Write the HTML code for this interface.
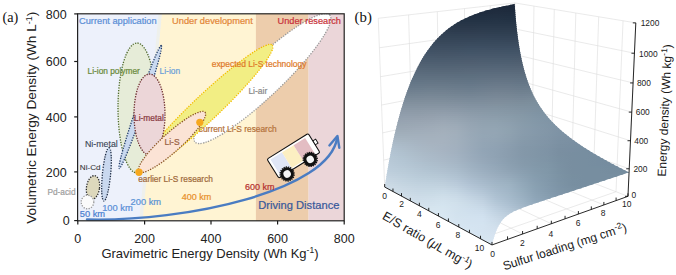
<!DOCTYPE html><html><head><meta charset="utf-8"><style>html,body{margin:0;padding:0;background:#fff;}svg{display:block;}text{font-family:"Liberation Sans",sans-serif;}</style></head><body>
<svg width="676" height="275" viewBox="0 0 676 275">
<defs><clipPath id="pa"><rect x="77.6" y="13.8" width="266.6" height="207.0"/></clipPath><clipPath id="sc"><polygon points="384.68,187.03 385.68,180.69 386.68,174.58 387.7,168.67 388.72,162.96 389.75,157.44 390.8,152.12 391.84,146.98 392.9,142.02 393.96,137.22 395.03,132.6 396.11,128.14 397.19,123.83 398.28,119.67 399.37,115.65 400.47,111.78 401.57,108.04 402.67,104.44 403.78,100.96 404.9,97.6 406.01,94.36 407.13,91.23 408.25,88.22 409.38,85.31 410.51,82.5 411.63,79.8 412.76,77.18 413.9,74.66 415.03,72.23 416.17,69.89 417.3,67.62 418.44,65.44 419.58,63.33 420.72,61.3 421.86,59.34 422.99,57.44 424.13,55.62 425.27,53.86 426.41,52.15 427.55,50.51 428.69,48.93 429.83,47.4 430.97,45.92 432.11,44.5 433.24,43.12 434.38,41.79 435.52,40.51 436.65,39.27 437.79,38.07 438.92,36.91 440.05,35.8 441.18,34.72 442.31,33.67 443.44,32.66 444.56,31.69 445.69,30.75 446.81,29.84 447.93,28.96 449.06,28.1 450.17,27.28 451.29,26.48 452.41,25.71 453.52,24.97 454.63,24.24 455.74,23.54 456.85,22.87 457.96,22.21 459.07,21.58 460.17,20.96 461.27,20.37 462.37,19.79 463.47,19.23 464.56,18.68 465.66,18.16 466.75,17.64 467.84,17.15 468.93,16.67 470.01,16.2 471.1,15.75 472.18,15.3 473.26,14.88 474.33,14.46 475.41,14.05 476.48,13.66 477.56,13.28 478.62,12.9 479.69,12.54 480.76,12.19 481.82,11.84 482.88,11.51 483.94,11.18 485,10.86 486.05,10.55 487.1,10.25 488.15,9.95 489.2,9.67 490.25,9.38 491.29,9.11 492.33,8.84 493.37,8.58 494.41,8.32 495.45,8.07 496.48,7.82 497.51,7.58 498.54,7.35 499.57,7.12 500.59,6.89 501.62,6.67 502.64,6.45 503.66,6.24 504.67,6.03 505.69,5.83 506.7,5.62 507.71,5.43 508.72,5.23 509.73,5.04 510.73,4.85 511.73,4.67 512.73,4.49 513.73,4.31 514.73,4.13 515.51,15.59 516.31,24.22 517.12,31.51 517.93,37.86 518.74,43.5 519.56,48.57 520.39,53.16 521.21,57.36 522.04,61.23 522.87,64.8 523.7,68.12 524.54,71.22 525.38,74.12 526.22,76.85 527.06,79.43 527.91,81.86 528.75,84.16 529.6,86.35 530.46,88.44 531.31,90.43 532.17,92.33 533.03,94.16 533.89,95.9 534.75,97.58 535.62,99.2 536.48,100.76 537.35,102.26 538.23,103.72 539.1,105.12 539.98,106.49 540.86,107.81 541.74,109.09 542.62,110.34 543.51,111.55 544.4,112.73 545.29,113.88 546.18,115 547.07,116.09 547.97,117.16 548.87,118.21 549.77,119.23 550.68,120.23 551.58,121.21 552.49,122.17 553.4,123.12 554.32,124.04 555.23,124.95 556.15,125.85 557.07,126.72 557.99,127.59 558.92,128.44 559.85,129.28 560.78,130.1 561.71,130.92 562.64,131.72 563.58,132.51 564.52,133.29 565.46,134.06 566.41,134.82 567.35,135.57 568.3,136.32 569.26,137.05 570.21,137.78 571.17,138.5 572.13,139.21 573.09,139.92 574.05,140.61 575.02,141.31 575.99,141.99 576.96,142.67 577.94,143.35 578.91,144.01 579.89,144.68 580.88,145.33 581.86,145.99 582.85,146.64 583.84,147.28 584.83,147.92 585.83,148.55 586.82,149.18 587.83,149.81 588.83,150.44 589.84,151.06 590.84,151.67 591.86,152.28 592.87,152.89 593.89,153.5 594.91,154.1 595.93,154.71 596.95,155.3 597.98,155.9 599.01,156.49 600.05,157.08 601.08,157.67 602.12,158.26 603.16,158.84 604.21,159.42 605.26,160 606.31,160.58 607.36,161.16 608.42,161.73 609.48,162.3 610.54,162.88 611.6,163.45 612.67,164.01 613.74,164.58 614.82,165.15 615.89,165.71 616.97,166.27 618.06,166.83 619.14,167.39 620.23,167.95 621.32,168.51 622.42,169.07 623.52,169.63 624.62,170.18 625.72,170.74 626.83,171.29 627.94,171.85 629.05,172.4 628.07,172.72 627.08,173.05 626.1,173.37 625.11,173.7 624.11,174.03 623.12,174.36 622.12,174.69 621.12,175.01 620.12,175.34 619.11,175.68 618.11,176.01 617.1,176.34 616.09,176.67 615.07,177.01 614.06,177.34 613.04,177.68 612.02,178.01 610.99,178.35 609.97,178.69 608.94,179.03 607.91,179.37 606.87,179.71 605.84,180.05 604.8,180.39 603.76,180.74 602.71,181.08 601.67,181.42 600.62,181.77 599.57,182.12 598.51,182.46 597.46,182.81 596.4,183.16 595.34,183.51 594.27,183.86 593.21,184.21 592.14,184.57 591.07,184.92 589.99,185.27 588.91,185.63 587.83,185.98 586.75,186.34 585.67,186.7 584.58,187.06 583.49,187.42 582.4,187.78 581.3,188.14 580.2,188.5 579.1,188.86 578,189.22 576.89,189.59 575.78,189.96 574.67,190.32 573.55,190.69 572.44,191.06 571.32,191.43 570.19,191.8 569.07,192.17 567.94,192.54 566.81,192.91 565.67,193.29 564.53,193.66 563.39,194.04 562.25,194.41 561.1,194.79 559.96,195.17 558.8,195.55 557.65,195.93 556.49,196.31 555.33,196.7 554.17,197.08 553,197.46 551.83,197.85 550.66,198.24 549.48,198.63 548.3,199.01 547.12,199.41 545.94,199.8 544.75,200.19 543.56,200.58 542.37,200.98 541.17,201.38 539.97,201.78 538.77,202.18 537.56,202.58 536.35,202.98 535.14,203.39 533.92,203.8 532.7,204.21 531.48,204.63 530.26,205.05 529.03,205.47 527.8,205.9 526.56,206.33 525.32,206.77 524.08,207.22 522.84,207.68 521.59,208.15 520.34,208.63 519.08,209.13 517.82,209.65 516.56,210.19 515.3,210.76 514.03,211.37 512.76,212.01 511.48,212.7 510.2,213.45 508.92,214.27 507.63,215.18 506.34,216.19 505.05,217.32 503.76,218.61 502.46,220.07 501.16,221.75 499.85,223.7 498.54,225.97 497.23,228.62 495.92,231.74 494.61,235.42 493.3,239.78 491.99,244.95 490.92,244.37 489.86,243.8 488.8,243.22 487.74,242.65 486.69,242.08 485.64,241.52 484.59,240.95 483.55,240.39 482.51,239.83 481.47,239.27 480.44,238.71 479.41,238.15 478.38,237.6 477.36,237.05 476.34,236.5 475.32,235.95 474.3,235.4 473.29,234.86 472.29,234.31 471.28,233.77 470.28,233.23 469.28,232.69 468.29,232.15 467.3,231.62 466.31,231.08 465.32,230.55 464.34,230.02 463.36,229.49 462.38,228.97 461.41,228.44 460.44,227.92 459.47,227.4 458.51,226.87 457.55,226.36 456.59,225.84 455.63,225.32 454.68,224.81 453.73,224.3 452.78,223.79 451.84,223.28 450.9,222.77 449.96,222.26 449.03,221.76 448.09,221.25 447.17,220.75 446.24,220.25 445.32,219.75 444.39,219.26 443.48,218.76 442.56,218.27 441.65,217.77 440.74,217.28 439.83,216.79 438.93,216.3 438.02,215.82 437.12,215.33 436.23,214.85 435.33,214.37 434.44,213.89 433.56,213.41 432.67,212.93 431.79,212.45 430.91,211.98 430.03,211.5 429.15,211.03 428.28,210.56 427.41,210.09 426.54,209.62 425.68,209.15 424.81,208.69 423.95,208.22 423.1,207.76 422.24,207.3 421.39,206.84 420.54,206.38 419.69,205.92 418.85,205.47 418,205.01 417.16,204.56 416.32,204.11 415.49,203.65 414.66,203.21 413.83,202.76 413,202.31 412.17,201.86 411.35,201.42 410.53,200.98 409.71,200.53 408.89,200.09 408.08,199.65 407.26,199.22 406.45,198.78 405.65,198.34 404.84,197.91 404.04,197.48 403.24,197.04 402.44,196.61 401.65,196.18 400.85,195.75 400.06,195.33 399.27,194.9 398.48,194.48 397.7,194.05 396.92,193.63 396.14,193.21 395.36,192.79 394.58,192.37 393.81,191.95 393.03,191.54 392.26,191.12 391.5,190.71 390.73,190.29 389.97,189.88 389.21,189.47 388.45,189.06 387.69,188.65 386.94,188.24 386.18,187.84 385.43,187.43"/></clipPath><linearGradient id="g0" gradientUnits="userSpaceOnUse" x1="378" y1="0" x2="640" y2="0"><stop offset="0" stop-color="#19283d"/><stop offset="0.05" stop-color="#18273b"/><stop offset="0.1" stop-color="#162539"/><stop offset="0.15" stop-color="#152437"/><stop offset="0.2" stop-color="#142336"/><stop offset="0.25" stop-color="#142235"/><stop offset="0.3" stop-color="#142234"/><stop offset="0.35" stop-color="#162235"/><stop offset="0.4" stop-color="#182336"/><stop offset="0.45" stop-color="#192436"/><stop offset="0.5" stop-color="#192436"/><stop offset="0.55" stop-color="#192436"/><stop offset="0.6" stop-color="#1a2537"/><stop offset="0.65" stop-color="#1b2638"/><stop offset="0.69" stop-color="#1c2739"/><stop offset="0.74" stop-color="#1c2839"/><stop offset="0.79" stop-color="#1d283a"/><stop offset="0.84" stop-color="#1d283a"/><stop offset="0.89" stop-color="#1c2839"/><stop offset="0.94" stop-color="#1b2739"/><stop offset="0.99" stop-color="#1a2637"/><stop offset="1" stop-color="#1a2637"/></linearGradient><linearGradient id="g1" gradientUnits="userSpaceOnUse" x1="378" y1="0" x2="640" y2="0"><stop offset="0" stop-color="#1b2a3e"/><stop offset="0.05" stop-color="#19283c"/><stop offset="0.1" stop-color="#18273b"/><stop offset="0.15" stop-color="#162539"/><stop offset="0.2" stop-color="#162437"/><stop offset="0.25" stop-color="#152436"/><stop offset="0.3" stop-color="#162336"/><stop offset="0.35" stop-color="#172436"/><stop offset="0.4" stop-color="#192537"/><stop offset="0.45" stop-color="#1a2638"/><stop offset="0.5" stop-color="#1a2638"/><stop offset="0.55" stop-color="#1a2638"/><stop offset="0.6" stop-color="#1b2638"/><stop offset="0.65" stop-color="#1c2739"/><stop offset="0.69" stop-color="#1d283a"/><stop offset="0.74" stop-color="#1e293b"/><stop offset="0.79" stop-color="#1e2a3b"/><stop offset="0.84" stop-color="#1e2a3b"/><stop offset="0.89" stop-color="#1e293b"/><stop offset="0.94" stop-color="#1d293a"/><stop offset="0.99" stop-color="#1b2739"/><stop offset="1" stop-color="#1b2739"/></linearGradient><linearGradient id="g2" gradientUnits="userSpaceOnUse" x1="378" y1="0" x2="640" y2="0"><stop offset="0" stop-color="#1d2c40"/><stop offset="0.05" stop-color="#1b2a3e"/><stop offset="0.1" stop-color="#19283c"/><stop offset="0.15" stop-color="#18273a"/><stop offset="0.2" stop-color="#172639"/><stop offset="0.25" stop-color="#172538"/><stop offset="0.3" stop-color="#172537"/><stop offset="0.35" stop-color="#182538"/><stop offset="0.4" stop-color="#1a2739"/><stop offset="0.45" stop-color="#1c2739"/><stop offset="0.5" stop-color="#1b2739"/><stop offset="0.55" stop-color="#1c2739"/><stop offset="0.6" stop-color="#1c283a"/><stop offset="0.65" stop-color="#1e293b"/><stop offset="0.69" stop-color="#1f2a3c"/><stop offset="0.74" stop-color="#202b3d"/><stop offset="0.79" stop-color="#202c3d"/><stop offset="0.84" stop-color="#202c3d"/><stop offset="0.89" stop-color="#1f2b3d"/><stop offset="0.94" stop-color="#1e2a3c"/><stop offset="0.99" stop-color="#1d293b"/><stop offset="1" stop-color="#1d293a"/></linearGradient><linearGradient id="g3" gradientUnits="userSpaceOnUse" x1="378" y1="0" x2="640" y2="0"><stop offset="0" stop-color="#1f2e42"/><stop offset="0.05" stop-color="#1c2c40"/><stop offset="0.1" stop-color="#1b2a3e"/><stop offset="0.15" stop-color="#1a293c"/><stop offset="0.2" stop-color="#19283b"/><stop offset="0.25" stop-color="#182739"/><stop offset="0.3" stop-color="#192739"/><stop offset="0.35" stop-color="#192739"/><stop offset="0.4" stop-color="#1b283a"/><stop offset="0.45" stop-color="#1d293b"/><stop offset="0.5" stop-color="#1c293b"/><stop offset="0.55" stop-color="#1d293b"/><stop offset="0.6" stop-color="#1e2a3c"/><stop offset="0.65" stop-color="#1f2b3d"/><stop offset="0.69" stop-color="#202c3e"/><stop offset="0.74" stop-color="#212d3e"/><stop offset="0.79" stop-color="#222d3f"/><stop offset="0.84" stop-color="#222d3f"/><stop offset="0.89" stop-color="#212d3e"/><stop offset="0.94" stop-color="#202c3e"/><stop offset="0.99" stop-color="#1e2b3c"/><stop offset="1" stop-color="#1e2b3c"/></linearGradient><linearGradient id="g4" gradientUnits="userSpaceOnUse" x1="378" y1="0" x2="640" y2="0"><stop offset="0" stop-color="#202f43"/><stop offset="0.05" stop-color="#1e2e41"/><stop offset="0.1" stop-color="#1d2c40"/><stop offset="0.15" stop-color="#1b2a3e"/><stop offset="0.2" stop-color="#1b293c"/><stop offset="0.25" stop-color="#1a293b"/><stop offset="0.3" stop-color="#1a283a"/><stop offset="0.35" stop-color="#1b293b"/><stop offset="0.4" stop-color="#1c293b"/><stop offset="0.45" stop-color="#1e2a3c"/><stop offset="0.5" stop-color="#1d2a3c"/><stop offset="0.55" stop-color="#1e2a3c"/><stop offset="0.6" stop-color="#1f2b3d"/><stop offset="0.65" stop-color="#212d3e"/><stop offset="0.69" stop-color="#222e3f"/><stop offset="0.74" stop-color="#232f40"/><stop offset="0.79" stop-color="#232f41"/><stop offset="0.84" stop-color="#232f41"/><stop offset="0.89" stop-color="#232f40"/><stop offset="0.94" stop-color="#212e3f"/><stop offset="0.99" stop-color="#202d3e"/><stop offset="1" stop-color="#202c3e"/></linearGradient><linearGradient id="g5" gradientUnits="userSpaceOnUse" x1="378" y1="0" x2="640" y2="0"><stop offset="0" stop-color="#223145"/><stop offset="0.05" stop-color="#202f43"/><stop offset="0.1" stop-color="#1e2e41"/><stop offset="0.15" stop-color="#1d2c40"/><stop offset="0.2" stop-color="#1c2b3e"/><stop offset="0.25" stop-color="#1c2a3d"/><stop offset="0.3" stop-color="#1c2a3c"/><stop offset="0.35" stop-color="#1c2a3c"/><stop offset="0.4" stop-color="#1d2b3d"/><stop offset="0.45" stop-color="#1f2c3e"/><stop offset="0.5" stop-color="#1e2b3d"/><stop offset="0.55" stop-color="#1f2c3e"/><stop offset="0.6" stop-color="#212d3f"/><stop offset="0.65" stop-color="#222e40"/><stop offset="0.69" stop-color="#242f41"/><stop offset="0.74" stop-color="#253042"/><stop offset="0.79" stop-color="#253142"/><stop offset="0.84" stop-color="#253142"/><stop offset="0.89" stop-color="#243042"/><stop offset="0.94" stop-color="#233041"/><stop offset="0.99" stop-color="#222e40"/><stop offset="1" stop-color="#212e3f"/></linearGradient><linearGradient id="g6" gradientUnits="userSpaceOnUse" x1="378" y1="0" x2="640" y2="0"><stop offset="0" stop-color="#243347"/><stop offset="0.05" stop-color="#223145"/><stop offset="0.1" stop-color="#202f43"/><stop offset="0.15" stop-color="#1f2e41"/><stop offset="0.2" stop-color="#1e2d40"/><stop offset="0.25" stop-color="#1d2c3e"/><stop offset="0.3" stop-color="#1d2c3e"/><stop offset="0.35" stop-color="#1e2c3e"/><stop offset="0.4" stop-color="#1f2c3e"/><stop offset="0.45" stop-color="#202d3f"/><stop offset="0.5" stop-color="#1f2d3f"/><stop offset="0.55" stop-color="#202d3f"/><stop offset="0.6" stop-color="#222f40"/><stop offset="0.65" stop-color="#243042"/><stop offset="0.69" stop-color="#253143"/><stop offset="0.74" stop-color="#263244"/><stop offset="0.79" stop-color="#273344"/><stop offset="0.84" stop-color="#263344"/><stop offset="0.89" stop-color="#263243"/><stop offset="0.94" stop-color="#253143"/><stop offset="0.99" stop-color="#233041"/><stop offset="1" stop-color="#233041"/></linearGradient><linearGradient id="g7" gradientUnits="userSpaceOnUse" x1="378" y1="0" x2="640" y2="0"><stop offset="0" stop-color="#253548"/><stop offset="0.05" stop-color="#233347"/><stop offset="0.1" stop-color="#223145"/><stop offset="0.15" stop-color="#203043"/><stop offset="0.2" stop-color="#202f41"/><stop offset="0.25" stop-color="#1f2e40"/><stop offset="0.3" stop-color="#1f2d3f"/><stop offset="0.35" stop-color="#1f2d3f"/><stop offset="0.4" stop-color="#202e40"/><stop offset="0.45" stop-color="#212f41"/><stop offset="0.5" stop-color="#202e40"/><stop offset="0.55" stop-color="#212f41"/><stop offset="0.6" stop-color="#233042"/><stop offset="0.65" stop-color="#253243"/><stop offset="0.69" stop-color="#273344"/><stop offset="0.74" stop-color="#283445"/><stop offset="0.79" stop-color="#283546"/><stop offset="0.84" stop-color="#283546"/><stop offset="0.89" stop-color="#273445"/><stop offset="0.94" stop-color="#263344"/><stop offset="0.99" stop-color="#253243"/><stop offset="1" stop-color="#243143"/></linearGradient><linearGradient id="g8" gradientUnits="userSpaceOnUse" x1="378" y1="0" x2="640" y2="0"><stop offset="0" stop-color="#27374a"/><stop offset="0.05" stop-color="#253548"/><stop offset="0.1" stop-color="#233347"/><stop offset="0.15" stop-color="#223245"/><stop offset="0.2" stop-color="#213043"/><stop offset="0.25" stop-color="#213042"/><stop offset="0.3" stop-color="#202f41"/><stop offset="0.35" stop-color="#212f41"/><stop offset="0.4" stop-color="#213042"/><stop offset="0.45" stop-color="#223042"/><stop offset="0.5" stop-color="#213042"/><stop offset="0.55" stop-color="#233142"/><stop offset="0.6" stop-color="#253244"/><stop offset="0.65" stop-color="#273345"/><stop offset="0.69" stop-color="#283546"/><stop offset="0.74" stop-color="#2a3647"/><stop offset="0.79" stop-color="#2a3647"/><stop offset="0.84" stop-color="#2a3647"/><stop offset="0.89" stop-color="#293647"/><stop offset="0.94" stop-color="#283546"/><stop offset="0.99" stop-color="#263345"/><stop offset="1" stop-color="#263344"/></linearGradient><linearGradient id="g9" gradientUnits="userSpaceOnUse" x1="378" y1="0" x2="640" y2="0"><stop offset="0" stop-color="#29384c"/><stop offset="0.05" stop-color="#27374a"/><stop offset="0.1" stop-color="#253548"/><stop offset="0.15" stop-color="#243346"/><stop offset="0.2" stop-color="#233245"/><stop offset="0.25" stop-color="#223144"/><stop offset="0.3" stop-color="#223143"/><stop offset="0.35" stop-color="#223143"/><stop offset="0.4" stop-color="#223143"/><stop offset="0.45" stop-color="#233244"/><stop offset="0.5" stop-color="#223143"/><stop offset="0.55" stop-color="#243244"/><stop offset="0.6" stop-color="#273445"/><stop offset="0.65" stop-color="#293547"/><stop offset="0.69" stop-color="#2a3748"/><stop offset="0.74" stop-color="#2b3849"/><stop offset="0.79" stop-color="#2c3849"/><stop offset="0.84" stop-color="#2b3849"/><stop offset="0.89" stop-color="#2b3849"/><stop offset="0.94" stop-color="#293648"/><stop offset="0.99" stop-color="#283546"/><stop offset="1" stop-color="#283546"/></linearGradient><linearGradient id="g10" gradientUnits="userSpaceOnUse" x1="378" y1="0" x2="640" y2="0"><stop offset="0" stop-color="#2b3a4e"/><stop offset="0.05" stop-color="#29384c"/><stop offset="0.1" stop-color="#27374a"/><stop offset="0.15" stop-color="#263548"/><stop offset="0.2" stop-color="#253447"/><stop offset="0.25" stop-color="#243345"/><stop offset="0.3" stop-color="#243345"/><stop offset="0.35" stop-color="#243345"/><stop offset="0.4" stop-color="#243345"/><stop offset="0.45" stop-color="#253446"/><stop offset="0.5" stop-color="#243345"/><stop offset="0.55" stop-color="#263446"/><stop offset="0.6" stop-color="#283547"/><stop offset="0.65" stop-color="#2a3749"/><stop offset="0.69" stop-color="#2c394a"/><stop offset="0.74" stop-color="#2d3a4b"/><stop offset="0.79" stop-color="#2d3a4b"/><stop offset="0.84" stop-color="#2d3a4b"/><stop offset="0.89" stop-color="#2c394a"/><stop offset="0.94" stop-color="#2b3849"/><stop offset="0.99" stop-color="#293748"/><stop offset="1" stop-color="#293648"/></linearGradient><linearGradient id="g11" gradientUnits="userSpaceOnUse" x1="378" y1="0" x2="640" y2="0"><stop offset="0" stop-color="#2c3c4f"/><stop offset="0.05" stop-color="#2a3a4e"/><stop offset="0.1" stop-color="#29384c"/><stop offset="0.15" stop-color="#27374a"/><stop offset="0.2" stop-color="#273648"/><stop offset="0.25" stop-color="#263547"/><stop offset="0.3" stop-color="#263547"/><stop offset="0.35" stop-color="#263547"/><stop offset="0.4" stop-color="#263547"/><stop offset="0.45" stop-color="#263547"/><stop offset="0.5" stop-color="#263547"/><stop offset="0.55" stop-color="#273648"/><stop offset="0.6" stop-color="#2a3749"/><stop offset="0.65" stop-color="#2c394a"/><stop offset="0.69" stop-color="#2e3a4c"/><stop offset="0.74" stop-color="#2f3b4c"/><stop offset="0.79" stop-color="#2f3c4d"/><stop offset="0.84" stop-color="#2f3c4d"/><stop offset="0.89" stop-color="#2e3b4c"/><stop offset="0.94" stop-color="#2d3a4b"/><stop offset="0.99" stop-color="#2b3849"/><stop offset="1" stop-color="#2b3849"/></linearGradient><linearGradient id="g12" gradientUnits="userSpaceOnUse" x1="378" y1="0" x2="640" y2="0"><stop offset="0" stop-color="#2e3e51"/><stop offset="0.05" stop-color="#2c3c4f"/><stop offset="0.1" stop-color="#2a3a4e"/><stop offset="0.15" stop-color="#29394c"/><stop offset="0.2" stop-color="#29384a"/><stop offset="0.25" stop-color="#283749"/><stop offset="0.3" stop-color="#283748"/><stop offset="0.35" stop-color="#283648"/><stop offset="0.4" stop-color="#283749"/><stop offset="0.45" stop-color="#283749"/><stop offset="0.5" stop-color="#283749"/><stop offset="0.55" stop-color="#293849"/><stop offset="0.6" stop-color="#2c394b"/><stop offset="0.65" stop-color="#2e3b4c"/><stop offset="0.69" stop-color="#2f3c4d"/><stop offset="0.74" stop-color="#303d4e"/><stop offset="0.79" stop-color="#313e4f"/><stop offset="0.84" stop-color="#303e4f"/><stop offset="0.89" stop-color="#303d4e"/><stop offset="0.94" stop-color="#2e3c4d"/><stop offset="0.99" stop-color="#2c3a4b"/><stop offset="1" stop-color="#2c3a4b"/></linearGradient><linearGradient id="g13" gradientUnits="userSpaceOnUse" x1="378" y1="0" x2="640" y2="0"><stop offset="0" stop-color="#304053"/><stop offset="0.05" stop-color="#2e3e51"/><stop offset="0.1" stop-color="#2c3c50"/><stop offset="0.15" stop-color="#2b3b4e"/><stop offset="0.2" stop-color="#2a3a4c"/><stop offset="0.25" stop-color="#2a394b"/><stop offset="0.3" stop-color="#2a384a"/><stop offset="0.35" stop-color="#2a384a"/><stop offset="0.4" stop-color="#2a394b"/><stop offset="0.45" stop-color="#2a394b"/><stop offset="0.5" stop-color="#2a394b"/><stop offset="0.55" stop-color="#2b394b"/><stop offset="0.6" stop-color="#2d3b4d"/><stop offset="0.65" stop-color="#2f3d4e"/><stop offset="0.69" stop-color="#313e4f"/><stop offset="0.74" stop-color="#323f50"/><stop offset="0.79" stop-color="#324051"/><stop offset="0.84" stop-color="#323f50"/><stop offset="0.89" stop-color="#313f50"/><stop offset="0.94" stop-color="#303d4e"/><stop offset="0.99" stop-color="#2e3c4d"/><stop offset="1" stop-color="#2e3b4c"/></linearGradient><linearGradient id="g14" gradientUnits="userSpaceOnUse" x1="378" y1="0" x2="640" y2="0"><stop offset="0" stop-color="#324255"/><stop offset="0.05" stop-color="#304053"/><stop offset="0.1" stop-color="#2e3e51"/><stop offset="0.15" stop-color="#2d3d50"/><stop offset="0.2" stop-color="#2c3b4e"/><stop offset="0.25" stop-color="#2c3b4d"/><stop offset="0.3" stop-color="#2c3a4c"/><stop offset="0.35" stop-color="#2c3a4c"/><stop offset="0.4" stop-color="#2c3b4d"/><stop offset="0.45" stop-color="#2c3b4d"/><stop offset="0.5" stop-color="#2c3b4d"/><stop offset="0.55" stop-color="#2d3b4d"/><stop offset="0.6" stop-color="#2f3d4f"/><stop offset="0.65" stop-color="#313f50"/><stop offset="0.69" stop-color="#334051"/><stop offset="0.74" stop-color="#344152"/><stop offset="0.79" stop-color="#344253"/><stop offset="0.84" stop-color="#344152"/><stop offset="0.89" stop-color="#334052"/><stop offset="0.94" stop-color="#313f50"/><stop offset="0.99" stop-color="#2f3d4e"/><stop offset="1" stop-color="#2f3d4e"/></linearGradient><linearGradient id="g15" gradientUnits="userSpaceOnUse" x1="378" y1="0" x2="640" y2="0"><stop offset="0" stop-color="#344457"/><stop offset="0.05" stop-color="#314255"/><stop offset="0.1" stop-color="#304053"/><stop offset="0.15" stop-color="#2e3f52"/><stop offset="0.2" stop-color="#2e3d50"/><stop offset="0.25" stop-color="#2e3d4f"/><stop offset="0.3" stop-color="#2d3c4e"/><stop offset="0.35" stop-color="#2e3c4e"/><stop offset="0.4" stop-color="#2e3d4f"/><stop offset="0.45" stop-color="#2d3d4f"/><stop offset="0.5" stop-color="#2e3d4f"/><stop offset="0.55" stop-color="#2f3d4f"/><stop offset="0.6" stop-color="#313f51"/><stop offset="0.65" stop-color="#334052"/><stop offset="0.69" stop-color="#344253"/><stop offset="0.74" stop-color="#354354"/><stop offset="0.79" stop-color="#364355"/><stop offset="0.84" stop-color="#354354"/><stop offset="0.89" stop-color="#344253"/><stop offset="0.94" stop-color="#334152"/><stop offset="0.99" stop-color="#313f50"/><stop offset="1" stop-color="#313f50"/></linearGradient><linearGradient id="g16" gradientUnits="userSpaceOnUse" x1="378" y1="0" x2="640" y2="0"><stop offset="0" stop-color="#354559"/><stop offset="0.05" stop-color="#334457"/><stop offset="0.1" stop-color="#314255"/><stop offset="0.15" stop-color="#304054"/><stop offset="0.2" stop-color="#303f52"/><stop offset="0.25" stop-color="#303f51"/><stop offset="0.3" stop-color="#2f3e51"/><stop offset="0.35" stop-color="#303e51"/><stop offset="0.4" stop-color="#303f51"/><stop offset="0.45" stop-color="#2f3f51"/><stop offset="0.5" stop-color="#2f3f51"/><stop offset="0.55" stop-color="#313f51"/><stop offset="0.6" stop-color="#324153"/><stop offset="0.65" stop-color="#344254"/><stop offset="0.69" stop-color="#364455"/><stop offset="0.74" stop-color="#374556"/><stop offset="0.79" stop-color="#374556"/><stop offset="0.84" stop-color="#374556"/><stop offset="0.89" stop-color="#364455"/><stop offset="0.94" stop-color="#344354"/><stop offset="0.99" stop-color="#324152"/><stop offset="1" stop-color="#324052"/></linearGradient><linearGradient id="g17" gradientUnits="userSpaceOnUse" x1="378" y1="0" x2="640" y2="0"><stop offset="0" stop-color="#37475b"/><stop offset="0.05" stop-color="#354559"/><stop offset="0.1" stop-color="#334457"/><stop offset="0.15" stop-color="#324256"/><stop offset="0.2" stop-color="#324154"/><stop offset="0.25" stop-color="#324153"/><stop offset="0.3" stop-color="#314153"/><stop offset="0.35" stop-color="#324153"/><stop offset="0.4" stop-color="#324154"/><stop offset="0.45" stop-color="#314154"/><stop offset="0.5" stop-color="#314153"/><stop offset="0.55" stop-color="#324154"/><stop offset="0.6" stop-color="#344355"/><stop offset="0.65" stop-color="#364456"/><stop offset="0.69" stop-color="#384657"/><stop offset="0.74" stop-color="#394758"/><stop offset="0.79" stop-color="#394758"/><stop offset="0.84" stop-color="#384758"/><stop offset="0.89" stop-color="#374657"/><stop offset="0.94" stop-color="#364456"/><stop offset="0.99" stop-color="#344254"/><stop offset="1" stop-color="#334253"/></linearGradient><linearGradient id="g18" gradientUnits="userSpaceOnUse" x1="378" y1="0" x2="640" y2="0"><stop offset="0" stop-color="#39495d"/><stop offset="0.05" stop-color="#37475b"/><stop offset="0.1" stop-color="#354659"/><stop offset="0.15" stop-color="#344458"/><stop offset="0.2" stop-color="#344356"/><stop offset="0.25" stop-color="#334355"/><stop offset="0.3" stop-color="#334355"/><stop offset="0.35" stop-color="#344355"/><stop offset="0.4" stop-color="#344356"/><stop offset="0.45" stop-color="#334356"/><stop offset="0.5" stop-color="#334356"/><stop offset="0.55" stop-color="#344356"/><stop offset="0.6" stop-color="#364557"/><stop offset="0.65" stop-color="#384658"/><stop offset="0.69" stop-color="#3a4859"/><stop offset="0.74" stop-color="#3a495a"/><stop offset="0.79" stop-color="#3b495a"/><stop offset="0.84" stop-color="#3a495a"/><stop offset="0.89" stop-color="#394859"/><stop offset="0.94" stop-color="#374657"/><stop offset="0.99" stop-color="#354455"/><stop offset="1" stop-color="#354455"/></linearGradient><linearGradient id="g19" gradientUnits="userSpaceOnUse" x1="378" y1="0" x2="640" y2="0"><stop offset="0" stop-color="#3b4b5e"/><stop offset="0.05" stop-color="#39495d"/><stop offset="0.1" stop-color="#37485b"/><stop offset="0.15" stop-color="#35475a"/><stop offset="0.2" stop-color="#354558"/><stop offset="0.25" stop-color="#354557"/><stop offset="0.3" stop-color="#354557"/><stop offset="0.35" stop-color="#354558"/><stop offset="0.4" stop-color="#354658"/><stop offset="0.45" stop-color="#354558"/><stop offset="0.5" stop-color="#354558"/><stop offset="0.55" stop-color="#364558"/><stop offset="0.6" stop-color="#384759"/><stop offset="0.65" stop-color="#3a485a"/><stop offset="0.69" stop-color="#3b4a5b"/><stop offset="0.74" stop-color="#3c4b5c"/><stop offset="0.79" stop-color="#3c4b5c"/><stop offset="0.84" stop-color="#3c4a5c"/><stop offset="0.89" stop-color="#3a495b"/><stop offset="0.94" stop-color="#394859"/><stop offset="0.99" stop-color="#374657"/><stop offset="1" stop-color="#364557"/></linearGradient><linearGradient id="g20" gradientUnits="userSpaceOnUse" x1="378" y1="0" x2="640" y2="0"><stop offset="0" stop-color="#3d4d60"/><stop offset="0.05" stop-color="#3b4b5f"/><stop offset="0.1" stop-color="#394a5d"/><stop offset="0.15" stop-color="#37495c"/><stop offset="0.2" stop-color="#37475a"/><stop offset="0.25" stop-color="#374759"/><stop offset="0.3" stop-color="#37475a"/><stop offset="0.35" stop-color="#37475a"/><stop offset="0.4" stop-color="#37485b"/><stop offset="0.45" stop-color="#37485b"/><stop offset="0.5" stop-color="#37475a"/><stop offset="0.55" stop-color="#38485a"/><stop offset="0.6" stop-color="#3a495b"/><stop offset="0.65" stop-color="#3c4a5c"/><stop offset="0.69" stop-color="#3d4c5d"/><stop offset="0.74" stop-color="#3e4d5e"/><stop offset="0.79" stop-color="#3e4d5e"/><stop offset="0.84" stop-color="#3d4c5e"/><stop offset="0.89" stop-color="#3c4b5c"/><stop offset="0.94" stop-color="#3a495b"/><stop offset="0.99" stop-color="#384759"/><stop offset="1" stop-color="#384758"/></linearGradient><linearGradient id="g21" gradientUnits="userSpaceOnUse" x1="378" y1="0" x2="640" y2="0"><stop offset="0" stop-color="#3f4f62"/><stop offset="0.05" stop-color="#3d4d60"/><stop offset="0.1" stop-color="#3b4c5f"/><stop offset="0.15" stop-color="#394b5e"/><stop offset="0.2" stop-color="#39495c"/><stop offset="0.25" stop-color="#39495b"/><stop offset="0.3" stop-color="#39495c"/><stop offset="0.35" stop-color="#394a5d"/><stop offset="0.4" stop-color="#394a5d"/><stop offset="0.45" stop-color="#394a5d"/><stop offset="0.5" stop-color="#394a5d"/><stop offset="0.55" stop-color="#3a4a5d"/><stop offset="0.6" stop-color="#3c4b5d"/><stop offset="0.65" stop-color="#3e4d5e"/><stop offset="0.69" stop-color="#3f4e5f"/><stop offset="0.74" stop-color="#404f60"/><stop offset="0.79" stop-color="#404f60"/><stop offset="0.84" stop-color="#3f4e60"/><stop offset="0.89" stop-color="#3e4d5e"/><stop offset="0.94" stop-color="#3c4b5d"/><stop offset="0.99" stop-color="#39495a"/><stop offset="1" stop-color="#39495a"/></linearGradient><linearGradient id="g22" gradientUnits="userSpaceOnUse" x1="378" y1="0" x2="640" y2="0"><stop offset="0" stop-color="#415164"/><stop offset="0.05" stop-color="#3f4f62"/><stop offset="0.1" stop-color="#3d4e61"/><stop offset="0.15" stop-color="#3b4d60"/><stop offset="0.2" stop-color="#3b4b5e"/><stop offset="0.25" stop-color="#3b4b5e"/><stop offset="0.3" stop-color="#3b4b5e"/><stop offset="0.35" stop-color="#3b4c5f"/><stop offset="0.4" stop-color="#3b4c5f"/><stop offset="0.45" stop-color="#3b4c5f"/><stop offset="0.5" stop-color="#3b4c5f"/><stop offset="0.55" stop-color="#3c4c5f"/><stop offset="0.6" stop-color="#3e4d5f"/><stop offset="0.65" stop-color="#404f60"/><stop offset="0.69" stop-color="#415061"/><stop offset="0.74" stop-color="#425162"/><stop offset="0.79" stop-color="#415162"/><stop offset="0.84" stop-color="#415061"/><stop offset="0.89" stop-color="#3f4f60"/><stop offset="0.94" stop-color="#3d4d5e"/><stop offset="0.99" stop-color="#3b4b5c"/><stop offset="1" stop-color="#3b4a5c"/></linearGradient><linearGradient id="g23" gradientUnits="userSpaceOnUse" x1="378" y1="0" x2="640" y2="0"><stop offset="0" stop-color="#435366"/><stop offset="0.05" stop-color="#415164"/><stop offset="0.1" stop-color="#3f5063"/><stop offset="0.15" stop-color="#3d4f63"/><stop offset="0.2" stop-color="#3d4e61"/><stop offset="0.25" stop-color="#3d4d60"/><stop offset="0.3" stop-color="#3d4e60"/><stop offset="0.35" stop-color="#3d4e62"/><stop offset="0.4" stop-color="#3d4e62"/><stop offset="0.45" stop-color="#3d4e61"/><stop offset="0.5" stop-color="#3d4e62"/><stop offset="0.55" stop-color="#3e4e62"/><stop offset="0.6" stop-color="#404f61"/><stop offset="0.65" stop-color="#415162"/><stop offset="0.69" stop-color="#435263"/><stop offset="0.74" stop-color="#435364"/><stop offset="0.79" stop-color="#435364"/><stop offset="0.84" stop-color="#425263"/><stop offset="0.89" stop-color="#415062"/><stop offset="0.94" stop-color="#3f4e60"/><stop offset="0.99" stop-color="#3c4c5e"/><stop offset="1" stop-color="#3c4c5d"/></linearGradient><linearGradient id="g24" gradientUnits="userSpaceOnUse" x1="378" y1="0" x2="640" y2="0"><stop offset="0" stop-color="#445568"/><stop offset="0.05" stop-color="#435366"/><stop offset="0.1" stop-color="#415265"/><stop offset="0.15" stop-color="#3f5165"/><stop offset="0.2" stop-color="#3f5063"/><stop offset="0.25" stop-color="#3f4f62"/><stop offset="0.3" stop-color="#3f5062"/><stop offset="0.35" stop-color="#3f5164"/><stop offset="0.4" stop-color="#405164"/><stop offset="0.45" stop-color="#3f5064"/><stop offset="0.5" stop-color="#3f5164"/><stop offset="0.55" stop-color="#405164"/><stop offset="0.6" stop-color="#425163"/><stop offset="0.65" stop-color="#435364"/><stop offset="0.69" stop-color="#455466"/><stop offset="0.74" stop-color="#455566"/><stop offset="0.79" stop-color="#455566"/><stop offset="0.84" stop-color="#445465"/><stop offset="0.89" stop-color="#425264"/><stop offset="0.94" stop-color="#405062"/><stop offset="0.99" stop-color="#3e4e5f"/><stop offset="1" stop-color="#3d4d5f"/></linearGradient><linearGradient id="g25" gradientUnits="userSpaceOnUse" x1="378" y1="0" x2="640" y2="0"><stop offset="0" stop-color="#46576a"/><stop offset="0.05" stop-color="#455568"/><stop offset="0.1" stop-color="#435467"/><stop offset="0.15" stop-color="#415366"/><stop offset="0.2" stop-color="#415265"/><stop offset="0.25" stop-color="#425264"/><stop offset="0.3" stop-color="#415265"/><stop offset="0.35" stop-color="#415366"/><stop offset="0.4" stop-color="#425366"/><stop offset="0.45" stop-color="#425366"/><stop offset="0.5" stop-color="#415366"/><stop offset="0.55" stop-color="#425366"/><stop offset="0.6" stop-color="#445366"/><stop offset="0.65" stop-color="#455567"/><stop offset="0.69" stop-color="#475668"/><stop offset="0.74" stop-color="#475768"/><stop offset="0.79" stop-color="#475768"/><stop offset="0.84" stop-color="#455667"/><stop offset="0.89" stop-color="#445466"/><stop offset="0.94" stop-color="#425263"/><stop offset="0.99" stop-color="#3f4f61"/><stop offset="1" stop-color="#3f4f61"/></linearGradient><linearGradient id="g26" gradientUnits="userSpaceOnUse" x1="378" y1="0" x2="640" y2="0"><stop offset="0" stop-color="#48596c"/><stop offset="0.05" stop-color="#47576a"/><stop offset="0.1" stop-color="#455669"/><stop offset="0.15" stop-color="#445568"/><stop offset="0.2" stop-color="#435467"/><stop offset="0.25" stop-color="#445466"/><stop offset="0.3" stop-color="#445467"/><stop offset="0.35" stop-color="#435568"/><stop offset="0.4" stop-color="#445568"/><stop offset="0.45" stop-color="#445568"/><stop offset="0.5" stop-color="#435568"/><stop offset="0.55" stop-color="#445568"/><stop offset="0.6" stop-color="#465668"/><stop offset="0.65" stop-color="#475769"/><stop offset="0.69" stop-color="#48586a"/><stop offset="0.74" stop-color="#49596a"/><stop offset="0.79" stop-color="#48586a"/><stop offset="0.84" stop-color="#475769"/><stop offset="0.89" stop-color="#455667"/><stop offset="0.94" stop-color="#435465"/><stop offset="0.99" stop-color="#405163"/><stop offset="1" stop-color="#405162"/></linearGradient><linearGradient id="g27" gradientUnits="userSpaceOnUse" x1="378" y1="0" x2="640" y2="0"><stop offset="0" stop-color="#4a5b6e"/><stop offset="0.05" stop-color="#49596c"/><stop offset="0.1" stop-color="#47586a"/><stop offset="0.15" stop-color="#46576a"/><stop offset="0.2" stop-color="#465669"/><stop offset="0.25" stop-color="#465668"/><stop offset="0.3" stop-color="#465669"/><stop offset="0.35" stop-color="#46576a"/><stop offset="0.4" stop-color="#46576a"/><stop offset="0.45" stop-color="#46576a"/><stop offset="0.5" stop-color="#46576a"/><stop offset="0.55" stop-color="#46576a"/><stop offset="0.6" stop-color="#48586a"/><stop offset="0.65" stop-color="#49596b"/><stop offset="0.69" stop-color="#4a5a6c"/><stop offset="0.74" stop-color="#4b5b6c"/><stop offset="0.79" stop-color="#4a5a6c"/><stop offset="0.84" stop-color="#49596b"/><stop offset="0.89" stop-color="#475769"/><stop offset="0.94" stop-color="#445567"/><stop offset="0.99" stop-color="#425364"/><stop offset="1" stop-color="#415264"/></linearGradient><linearGradient id="g28" gradientUnits="userSpaceOnUse" x1="378" y1="0" x2="640" y2="0"><stop offset="0" stop-color="#4c5d70"/><stop offset="0.05" stop-color="#4b5b6e"/><stop offset="0.1" stop-color="#4a5a6c"/><stop offset="0.15" stop-color="#48596c"/><stop offset="0.2" stop-color="#48596b"/><stop offset="0.25" stop-color="#48586a"/><stop offset="0.3" stop-color="#48596b"/><stop offset="0.35" stop-color="#49596c"/><stop offset="0.4" stop-color="#49596c"/><stop offset="0.45" stop-color="#48596c"/><stop offset="0.5" stop-color="#48596c"/><stop offset="0.55" stop-color="#49596b"/><stop offset="0.6" stop-color="#4a5a6c"/><stop offset="0.65" stop-color="#4b5b6d"/><stop offset="0.69" stop-color="#4c5d6e"/><stop offset="0.74" stop-color="#4c5d6e"/><stop offset="0.79" stop-color="#4c5c6e"/><stop offset="0.84" stop-color="#4a5b6d"/><stop offset="0.89" stop-color="#48596b"/><stop offset="0.94" stop-color="#465769"/><stop offset="0.99" stop-color="#435466"/><stop offset="1" stop-color="#435465"/></linearGradient><linearGradient id="g29" gradientUnits="userSpaceOnUse" x1="378" y1="0" x2="640" y2="0"><stop offset="0" stop-color="#4e5f72"/><stop offset="0.05" stop-color="#4d5d70"/><stop offset="0.1" stop-color="#4c5c6e"/><stop offset="0.15" stop-color="#4b5b6d"/><stop offset="0.2" stop-color="#4a5b6d"/><stop offset="0.25" stop-color="#4a5b6d"/><stop offset="0.3" stop-color="#4a5b6d"/><stop offset="0.35" stop-color="#4b5b6d"/><stop offset="0.4" stop-color="#4b5c6e"/><stop offset="0.45" stop-color="#4b5c6e"/><stop offset="0.5" stop-color="#4a5c6e"/><stop offset="0.55" stop-color="#4b5b6d"/><stop offset="0.6" stop-color="#4c5c6e"/><stop offset="0.65" stop-color="#4d5e6f"/><stop offset="0.69" stop-color="#4e5f70"/><stop offset="0.74" stop-color="#4e5f70"/><stop offset="0.79" stop-color="#4d5e70"/><stop offset="0.84" stop-color="#4c5d6f"/><stop offset="0.89" stop-color="#4a5b6d"/><stop offset="0.94" stop-color="#47586a"/><stop offset="0.99" stop-color="#455667"/><stop offset="1" stop-color="#445567"/></linearGradient><linearGradient id="g30" gradientUnits="userSpaceOnUse" x1="378" y1="0" x2="640" y2="0"><stop offset="0" stop-color="#506174"/><stop offset="0.05" stop-color="#4f5f72"/><stop offset="0.1" stop-color="#4e5e70"/><stop offset="0.15" stop-color="#4d5d6f"/><stop offset="0.2" stop-color="#4c5d6f"/><stop offset="0.25" stop-color="#4c5d6f"/><stop offset="0.3" stop-color="#4d5d6f"/><stop offset="0.35" stop-color="#4e5d6f"/><stop offset="0.4" stop-color="#4d5e70"/><stop offset="0.45" stop-color="#4d5e70"/><stop offset="0.5" stop-color="#4d5e70"/><stop offset="0.55" stop-color="#4e5d6f"/><stop offset="0.6" stop-color="#4e5e70"/><stop offset="0.65" stop-color="#4f6071"/><stop offset="0.69" stop-color="#506172"/><stop offset="0.74" stop-color="#506172"/><stop offset="0.79" stop-color="#4f6072"/><stop offset="0.84" stop-color="#4d5f70"/><stop offset="0.89" stop-color="#4b5d6e"/><stop offset="0.94" stop-color="#495a6c"/><stop offset="0.99" stop-color="#465769"/><stop offset="1" stop-color="#455769"/></linearGradient><linearGradient id="g31" gradientUnits="userSpaceOnUse" x1="378" y1="0" x2="640" y2="0"><stop offset="0" stop-color="#526376"/><stop offset="0.05" stop-color="#516174"/><stop offset="0.1" stop-color="#506072"/><stop offset="0.15" stop-color="#505f71"/><stop offset="0.2" stop-color="#4f5f71"/><stop offset="0.25" stop-color="#4f5f71"/><stop offset="0.3" stop-color="#4f5f71"/><stop offset="0.35" stop-color="#505f71"/><stop offset="0.4" stop-color="#506072"/><stop offset="0.45" stop-color="#4f6072"/><stop offset="0.5" stop-color="#4f6072"/><stop offset="0.55" stop-color="#506071"/><stop offset="0.6" stop-color="#506172"/><stop offset="0.65" stop-color="#516273"/><stop offset="0.69" stop-color="#526374"/><stop offset="0.74" stop-color="#526374"/><stop offset="0.79" stop-color="#516274"/><stop offset="0.84" stop-color="#4f6072"/><stop offset="0.89" stop-color="#4d5e70"/><stop offset="0.94" stop-color="#4a5c6e"/><stop offset="0.99" stop-color="#47596b"/><stop offset="1" stop-color="#47586a"/></linearGradient><linearGradient id="g32" gradientUnits="userSpaceOnUse" x1="378" y1="0" x2="640" y2="0"><stop offset="0" stop-color="#556578"/><stop offset="0.05" stop-color="#536476"/><stop offset="0.1" stop-color="#526274"/><stop offset="0.15" stop-color="#526273"/><stop offset="0.2" stop-color="#516273"/><stop offset="0.25" stop-color="#516173"/><stop offset="0.3" stop-color="#516273"/><stop offset="0.35" stop-color="#526273"/><stop offset="0.4" stop-color="#526274"/><stop offset="0.45" stop-color="#526375"/><stop offset="0.5" stop-color="#526274"/><stop offset="0.55" stop-color="#526273"/><stop offset="0.6" stop-color="#536374"/><stop offset="0.65" stop-color="#546475"/><stop offset="0.69" stop-color="#546576"/><stop offset="0.74" stop-color="#546576"/><stop offset="0.79" stop-color="#526476"/><stop offset="0.84" stop-color="#516274"/><stop offset="0.89" stop-color="#4e6072"/><stop offset="0.94" stop-color="#4b5d6f"/><stop offset="0.99" stop-color="#495a6c"/><stop offset="1" stop-color="#485a6c"/></linearGradient><linearGradient id="g33" gradientUnits="userSpaceOnUse" x1="378" y1="0" x2="640" y2="0"><stop offset="0" stop-color="#57677a"/><stop offset="0.05" stop-color="#556678"/><stop offset="0.1" stop-color="#546576"/><stop offset="0.15" stop-color="#546475"/><stop offset="0.2" stop-color="#536475"/><stop offset="0.25" stop-color="#536475"/><stop offset="0.3" stop-color="#546475"/><stop offset="0.35" stop-color="#546476"/><stop offset="0.4" stop-color="#546576"/><stop offset="0.45" stop-color="#546577"/><stop offset="0.5" stop-color="#546576"/><stop offset="0.55" stop-color="#556476"/><stop offset="0.6" stop-color="#556576"/><stop offset="0.65" stop-color="#566677"/><stop offset="0.69" stop-color="#566778"/><stop offset="0.74" stop-color="#566778"/><stop offset="0.79" stop-color="#546678"/><stop offset="0.84" stop-color="#526476"/><stop offset="0.89" stop-color="#506274"/><stop offset="0.94" stop-color="#4d5f71"/><stop offset="0.99" stop-color="#4a5c6e"/><stop offset="1" stop-color="#495b6d"/></linearGradient><linearGradient id="g34" gradientUnits="userSpaceOnUse" x1="378" y1="0" x2="640" y2="0"><stop offset="0" stop-color="#59697c"/><stop offset="0.05" stop-color="#57687a"/><stop offset="0.1" stop-color="#566778"/><stop offset="0.15" stop-color="#566778"/><stop offset="0.2" stop-color="#566677"/><stop offset="0.25" stop-color="#566677"/><stop offset="0.3" stop-color="#566677"/><stop offset="0.35" stop-color="#576778"/><stop offset="0.4" stop-color="#576778"/><stop offset="0.45" stop-color="#576779"/><stop offset="0.5" stop-color="#576778"/><stop offset="0.55" stop-color="#576778"/><stop offset="0.6" stop-color="#576778"/><stop offset="0.65" stop-color="#58697a"/><stop offset="0.69" stop-color="#58697a"/><stop offset="0.74" stop-color="#57697a"/><stop offset="0.79" stop-color="#566879"/><stop offset="0.84" stop-color="#546678"/><stop offset="0.89" stop-color="#516375"/><stop offset="0.94" stop-color="#4e6072"/><stop offset="0.99" stop-color="#4b5d6f"/><stop offset="1" stop-color="#4b5d6f"/></linearGradient><linearGradient id="g35" gradientUnits="userSpaceOnUse" x1="378" y1="0" x2="640" y2="0"><stop offset="0" stop-color="#5b6c7e"/><stop offset="0.05" stop-color="#596a7c"/><stop offset="0.1" stop-color="#58697a"/><stop offset="0.15" stop-color="#59697a"/><stop offset="0.2" stop-color="#586979"/><stop offset="0.25" stop-color="#586879"/><stop offset="0.3" stop-color="#586879"/><stop offset="0.35" stop-color="#59697a"/><stop offset="0.4" stop-color="#59697b"/><stop offset="0.45" stop-color="#59697b"/><stop offset="0.5" stop-color="#59697a"/><stop offset="0.55" stop-color="#59697a"/><stop offset="0.6" stop-color="#596a7b"/><stop offset="0.65" stop-color="#5a6b7c"/><stop offset="0.69" stop-color="#5a6b7d"/><stop offset="0.74" stop-color="#596b7c"/><stop offset="0.79" stop-color="#576a7b"/><stop offset="0.84" stop-color="#556879"/><stop offset="0.89" stop-color="#536577"/><stop offset="0.94" stop-color="#506274"/><stop offset="0.99" stop-color="#4c5f71"/><stop offset="1" stop-color="#4c5e70"/></linearGradient><linearGradient id="g36" gradientUnits="userSpaceOnUse" x1="378" y1="0" x2="640" y2="0"><stop offset="0" stop-color="#5d6e80"/><stop offset="0.05" stop-color="#5b6c7e"/><stop offset="0.1" stop-color="#5a6b7c"/><stop offset="0.15" stop-color="#5b6b7c"/><stop offset="0.2" stop-color="#5a6b7c"/><stop offset="0.25" stop-color="#5a6b7b"/><stop offset="0.3" stop-color="#5a6b7b"/><stop offset="0.35" stop-color="#5b6b7c"/><stop offset="0.4" stop-color="#5b6c7d"/><stop offset="0.45" stop-color="#5b6c7d"/><stop offset="0.5" stop-color="#5b6c7d"/><stop offset="0.55" stop-color="#5b6b7c"/><stop offset="0.6" stop-color="#5b6c7d"/><stop offset="0.65" stop-color="#5c6d7e"/><stop offset="0.69" stop-color="#5c6e7f"/><stop offset="0.74" stop-color="#5b6d7e"/><stop offset="0.79" stop-color="#596b7d"/><stop offset="0.84" stop-color="#57697b"/><stop offset="0.89" stop-color="#546679"/><stop offset="0.94" stop-color="#516376"/><stop offset="0.99" stop-color="#4e6072"/><stop offset="1" stop-color="#4d6072"/></linearGradient><linearGradient id="g37" gradientUnits="userSpaceOnUse" x1="378" y1="0" x2="640" y2="0"><stop offset="0" stop-color="#5f7082"/><stop offset="0.05" stop-color="#5d6e80"/><stop offset="0.1" stop-color="#5c6d7f"/><stop offset="0.15" stop-color="#5d6e7e"/><stop offset="0.2" stop-color="#5d6d7e"/><stop offset="0.25" stop-color="#5d6d7e"/><stop offset="0.3" stop-color="#5c6d7e"/><stop offset="0.35" stop-color="#5c6e7e"/><stop offset="0.4" stop-color="#5d6e7f"/><stop offset="0.45" stop-color="#5e6e7f"/><stop offset="0.5" stop-color="#5e6e7f"/><stop offset="0.55" stop-color="#5d6e7e"/><stop offset="0.6" stop-color="#5d6e7f"/><stop offset="0.65" stop-color="#5e6f80"/><stop offset="0.69" stop-color="#5e7081"/><stop offset="0.74" stop-color="#5d6f80"/><stop offset="0.79" stop-color="#5b6d7f"/><stop offset="0.84" stop-color="#586b7d"/><stop offset="0.89" stop-color="#55687a"/><stop offset="0.94" stop-color="#526577"/><stop offset="0.99" stop-color="#4f6174"/><stop offset="1" stop-color="#4e6173"/></linearGradient><linearGradient id="g38" gradientUnits="userSpaceOnUse" x1="378" y1="0" x2="640" y2="0"><stop offset="0" stop-color="#617284"/><stop offset="0.05" stop-color="#5f7082"/><stop offset="0.1" stop-color="#5e7081"/><stop offset="0.15" stop-color="#5f7080"/><stop offset="0.2" stop-color="#5f7080"/><stop offset="0.25" stop-color="#5f7080"/><stop offset="0.3" stop-color="#5e6f80"/><stop offset="0.35" stop-color="#5e7080"/><stop offset="0.4" stop-color="#5f7081"/><stop offset="0.45" stop-color="#607081"/><stop offset="0.5" stop-color="#607081"/><stop offset="0.55" stop-color="#5f7080"/><stop offset="0.6" stop-color="#5f7081"/><stop offset="0.65" stop-color="#607282"/><stop offset="0.69" stop-color="#607283"/><stop offset="0.74" stop-color="#5e7182"/><stop offset="0.79" stop-color="#5c6f81"/><stop offset="0.84" stop-color="#5a6d7f"/><stop offset="0.89" stop-color="#576a7c"/><stop offset="0.94" stop-color="#536679"/><stop offset="0.99" stop-color="#506375"/><stop offset="1" stop-color="#506275"/></linearGradient><linearGradient id="g39" gradientUnits="userSpaceOnUse" x1="378" y1="0" x2="640" y2="0"><stop offset="0" stop-color="#637486"/><stop offset="0.05" stop-color="#617384"/><stop offset="0.1" stop-color="#607283"/><stop offset="0.15" stop-color="#617282"/><stop offset="0.2" stop-color="#617282"/><stop offset="0.25" stop-color="#617282"/><stop offset="0.3" stop-color="#617282"/><stop offset="0.35" stop-color="#607282"/><stop offset="0.4" stop-color="#627283"/><stop offset="0.45" stop-color="#637383"/><stop offset="0.5" stop-color="#627383"/><stop offset="0.55" stop-color="#617283"/><stop offset="0.6" stop-color="#617383"/><stop offset="0.65" stop-color="#627484"/><stop offset="0.69" stop-color="#627485"/><stop offset="0.74" stop-color="#607384"/><stop offset="0.79" stop-color="#5e7183"/><stop offset="0.84" stop-color="#5b6e80"/><stop offset="0.89" stop-color="#586b7d"/><stop offset="0.94" stop-color="#55687a"/><stop offset="0.99" stop-color="#516477"/><stop offset="1" stop-color="#516476"/></linearGradient><linearGradient id="g40" gradientUnits="userSpaceOnUse" x1="378" y1="0" x2="640" y2="0"><stop offset="0" stop-color="#667688"/><stop offset="0.05" stop-color="#647586"/><stop offset="0.1" stop-color="#627485"/><stop offset="0.15" stop-color="#637485"/><stop offset="0.2" stop-color="#647585"/><stop offset="0.25" stop-color="#647484"/><stop offset="0.3" stop-color="#637484"/><stop offset="0.35" stop-color="#627485"/><stop offset="0.4" stop-color="#647585"/><stop offset="0.45" stop-color="#657586"/><stop offset="0.5" stop-color="#657585"/><stop offset="0.55" stop-color="#637485"/><stop offset="0.6" stop-color="#637585"/><stop offset="0.65" stop-color="#647687"/><stop offset="0.69" stop-color="#637687"/><stop offset="0.74" stop-color="#627586"/><stop offset="0.79" stop-color="#5f7385"/><stop offset="0.84" stop-color="#5d7082"/><stop offset="0.89" stop-color="#596d7f"/><stop offset="0.94" stop-color="#56697c"/><stop offset="0.99" stop-color="#526678"/><stop offset="1" stop-color="#526577"/></linearGradient><linearGradient id="g41" gradientUnits="userSpaceOnUse" x1="378" y1="0" x2="640" y2="0"><stop offset="0" stop-color="#68798a"/><stop offset="0.05" stop-color="#667788"/><stop offset="0.1" stop-color="#647687"/><stop offset="0.15" stop-color="#657787"/><stop offset="0.2" stop-color="#667787"/><stop offset="0.25" stop-color="#667787"/><stop offset="0.3" stop-color="#657686"/><stop offset="0.35" stop-color="#647687"/><stop offset="0.4" stop-color="#667787"/><stop offset="0.45" stop-color="#687888"/><stop offset="0.5" stop-color="#677788"/><stop offset="0.55" stop-color="#657687"/><stop offset="0.6" stop-color="#657787"/><stop offset="0.65" stop-color="#667889"/><stop offset="0.69" stop-color="#657889"/><stop offset="0.74" stop-color="#637788"/><stop offset="0.79" stop-color="#617486"/><stop offset="0.84" stop-color="#5e7184"/><stop offset="0.89" stop-color="#5b6e81"/><stop offset="0.94" stop-color="#576b7d"/><stop offset="0.99" stop-color="#546779"/><stop offset="1" stop-color="#536679"/></linearGradient><linearGradient id="g42" gradientUnits="userSpaceOnUse" x1="378" y1="0" x2="640" y2="0"><stop offset="0" stop-color="#6a7b8c"/><stop offset="0.05" stop-color="#68798a"/><stop offset="0.1" stop-color="#677889"/><stop offset="0.15" stop-color="#687989"/><stop offset="0.2" stop-color="#697989"/><stop offset="0.25" stop-color="#697989"/><stop offset="0.3" stop-color="#687989"/><stop offset="0.35" stop-color="#677889"/><stop offset="0.4" stop-color="#69798a"/><stop offset="0.45" stop-color="#6a7a8a"/><stop offset="0.5" stop-color="#6a7a8a"/><stop offset="0.55" stop-color="#677989"/><stop offset="0.6" stop-color="#68798a"/><stop offset="0.65" stop-color="#687b8b"/><stop offset="0.69" stop-color="#677a8b"/><stop offset="0.74" stop-color="#65798a"/><stop offset="0.79" stop-color="#627688"/><stop offset="0.84" stop-color="#5f7385"/><stop offset="0.89" stop-color="#5c7082"/><stop offset="0.94" stop-color="#586c7f"/><stop offset="0.99" stop-color="#55687b"/><stop offset="1" stop-color="#54687a"/></linearGradient><linearGradient id="g43" gradientUnits="userSpaceOnUse" x1="378" y1="0" x2="640" y2="0"><stop offset="0" stop-color="#6d7d8e"/><stop offset="0.05" stop-color="#6b7c8c"/><stop offset="0.1" stop-color="#697a8b"/><stop offset="0.15" stop-color="#6a7b8b"/><stop offset="0.2" stop-color="#6c7c8b"/><stop offset="0.25" stop-color="#6b7c8b"/><stop offset="0.3" stop-color="#6a7b8b"/><stop offset="0.35" stop-color="#697b8b"/><stop offset="0.4" stop-color="#6b7c8c"/><stop offset="0.45" stop-color="#6d7c8c"/><stop offset="0.5" stop-color="#6c7c8c"/><stop offset="0.55" stop-color="#6a7b8b"/><stop offset="0.6" stop-color="#6a7c8c"/><stop offset="0.65" stop-color="#6b7d8d"/><stop offset="0.69" stop-color="#697c8d"/><stop offset="0.74" stop-color="#677a8c"/><stop offset="0.79" stop-color="#64788a"/><stop offset="0.84" stop-color="#617587"/><stop offset="0.89" stop-color="#5d7184"/><stop offset="0.94" stop-color="#596d80"/><stop offset="0.99" stop-color="#566a7c"/><stop offset="1" stop-color="#55697c"/></linearGradient><linearGradient id="g44" gradientUnits="userSpaceOnUse" x1="378" y1="0" x2="640" y2="0"><stop offset="0" stop-color="#6f8090"/><stop offset="0.05" stop-color="#6d7e8f"/><stop offset="0.1" stop-color="#6c7d8d"/><stop offset="0.15" stop-color="#6d7e8d"/><stop offset="0.2" stop-color="#6e7f8e"/><stop offset="0.25" stop-color="#6e7e8d"/><stop offset="0.3" stop-color="#6d7d8d"/><stop offset="0.35" stop-color="#6c7d8d"/><stop offset="0.4" stop-color="#6e7e8e"/><stop offset="0.45" stop-color="#6f7f8e"/><stop offset="0.5" stop-color="#6f7e8e"/><stop offset="0.55" stop-color="#6c7d8d"/><stop offset="0.6" stop-color="#6d7e8e"/><stop offset="0.65" stop-color="#6d7f8f"/><stop offset="0.69" stop-color="#6b7e8f"/><stop offset="0.74" stop-color="#687c8e"/><stop offset="0.79" stop-color="#65798b"/><stop offset="0.84" stop-color="#627688"/><stop offset="0.89" stop-color="#5e7285"/><stop offset="0.94" stop-color="#5b6f81"/><stop offset="0.99" stop-color="#576b7d"/><stop offset="1" stop-color="#566a7d"/></linearGradient><linearGradient id="g45" gradientUnits="userSpaceOnUse" x1="378" y1="0" x2="640" y2="0"><stop offset="0" stop-color="#728292"/><stop offset="0.05" stop-color="#708191"/><stop offset="0.1" stop-color="#6f7f8f"/><stop offset="0.15" stop-color="#708090"/><stop offset="0.2" stop-color="#718190"/><stop offset="0.25" stop-color="#718190"/><stop offset="0.3" stop-color="#70808f"/><stop offset="0.35" stop-color="#6e7f8f"/><stop offset="0.4" stop-color="#708090"/><stop offset="0.45" stop-color="#728190"/><stop offset="0.5" stop-color="#718190"/><stop offset="0.55" stop-color="#6f808f"/><stop offset="0.6" stop-color="#6f8190"/><stop offset="0.65" stop-color="#6f8191"/><stop offset="0.69" stop-color="#6d8091"/><stop offset="0.74" stop-color="#6a7e8f"/><stop offset="0.79" stop-color="#677b8d"/><stop offset="0.84" stop-color="#63778a"/><stop offset="0.89" stop-color="#5f7486"/><stop offset="0.94" stop-color="#5c7083"/><stop offset="0.99" stop-color="#586c7f"/><stop offset="1" stop-color="#576b7e"/></linearGradient><linearGradient id="g46" gradientUnits="userSpaceOnUse" x1="378" y1="0" x2="640" y2="0"><stop offset="0" stop-color="#748495"/><stop offset="0.05" stop-color="#738393"/><stop offset="0.1" stop-color="#728291"/><stop offset="0.15" stop-color="#738392"/><stop offset="0.2" stop-color="#748492"/><stop offset="0.25" stop-color="#748392"/><stop offset="0.3" stop-color="#728291"/><stop offset="0.35" stop-color="#718291"/><stop offset="0.4" stop-color="#738392"/><stop offset="0.45" stop-color="#758493"/><stop offset="0.5" stop-color="#748392"/><stop offset="0.55" stop-color="#718291"/><stop offset="0.6" stop-color="#728392"/><stop offset="0.65" stop-color="#718493"/><stop offset="0.69" stop-color="#6e8292"/><stop offset="0.74" stop-color="#6c8091"/><stop offset="0.79" stop-color="#687c8f"/><stop offset="0.84" stop-color="#64798c"/><stop offset="0.89" stop-color="#617588"/><stop offset="0.94" stop-color="#5d7184"/><stop offset="0.99" stop-color="#596d80"/><stop offset="1" stop-color="#596d7f"/></linearGradient><linearGradient id="g47" gradientUnits="userSpaceOnUse" x1="378" y1="0" x2="640" y2="0"><stop offset="0" stop-color="#778697"/><stop offset="0.05" stop-color="#768595"/><stop offset="0.1" stop-color="#758594"/><stop offset="0.15" stop-color="#768694"/><stop offset="0.2" stop-color="#778695"/><stop offset="0.25" stop-color="#768694"/><stop offset="0.3" stop-color="#758594"/><stop offset="0.35" stop-color="#748494"/><stop offset="0.4" stop-color="#758594"/><stop offset="0.45" stop-color="#778695"/><stop offset="0.5" stop-color="#768694"/><stop offset="0.55" stop-color="#748494"/><stop offset="0.6" stop-color="#748695"/><stop offset="0.65" stop-color="#738695"/><stop offset="0.69" stop-color="#708494"/><stop offset="0.74" stop-color="#6d8192"/><stop offset="0.79" stop-color="#6a7e90"/><stop offset="0.84" stop-color="#667a8d"/><stop offset="0.89" stop-color="#627689"/><stop offset="0.94" stop-color="#5e7285"/><stop offset="0.99" stop-color="#5a6e81"/><stop offset="1" stop-color="#5a6e81"/></linearGradient><linearGradient id="g48" gradientUnits="userSpaceOnUse" x1="378" y1="0" x2="640" y2="0"><stop offset="0" stop-color="#798999"/><stop offset="0.05" stop-color="#788897"/><stop offset="0.1" stop-color="#788896"/><stop offset="0.15" stop-color="#798897"/><stop offset="0.2" stop-color="#7a8997"/><stop offset="0.25" stop-color="#798997"/><stop offset="0.3" stop-color="#788896"/><stop offset="0.35" stop-color="#778796"/><stop offset="0.4" stop-color="#788897"/><stop offset="0.45" stop-color="#798897"/><stop offset="0.5" stop-color="#788896"/><stop offset="0.55" stop-color="#768796"/><stop offset="0.6" stop-color="#778897"/><stop offset="0.65" stop-color="#748897"/><stop offset="0.69" stop-color="#728596"/><stop offset="0.74" stop-color="#6f8394"/><stop offset="0.79" stop-color="#6b7f91"/><stop offset="0.84" stop-color="#677c8e"/><stop offset="0.89" stop-color="#63788b"/><stop offset="0.94" stop-color="#5f7487"/><stop offset="0.99" stop-color="#5b7082"/><stop offset="1" stop-color="#5b6f82"/></linearGradient><linearGradient id="g49" gradientUnits="userSpaceOnUse" x1="378" y1="0" x2="640" y2="0"><stop offset="0" stop-color="#7c8b9b"/><stop offset="0.05" stop-color="#7b8b9a"/><stop offset="0.1" stop-color="#7b8b99"/><stop offset="0.15" stop-color="#7c8b99"/><stop offset="0.2" stop-color="#7d8b99"/><stop offset="0.25" stop-color="#7c8b99"/><stop offset="0.3" stop-color="#7b8a99"/><stop offset="0.35" stop-color="#7a8a99"/><stop offset="0.4" stop-color="#7a8a99"/><stop offset="0.45" stop-color="#7c8b99"/><stop offset="0.5" stop-color="#7b8a99"/><stop offset="0.55" stop-color="#798998"/><stop offset="0.6" stop-color="#798b99"/><stop offset="0.65" stop-color="#768999"/><stop offset="0.69" stop-color="#738797"/><stop offset="0.74" stop-color="#708495"/><stop offset="0.79" stop-color="#6c8193"/><stop offset="0.84" stop-color="#687d8f"/><stop offset="0.89" stop-color="#64798c"/><stop offset="0.94" stop-color="#607588"/><stop offset="0.99" stop-color="#5c7184"/><stop offset="1" stop-color="#5c7083"/></linearGradient><linearGradient id="g50" gradientUnits="userSpaceOnUse" x1="378" y1="0" x2="640" y2="0"><stop offset="0" stop-color="#7e8d9d"/><stop offset="0.05" stop-color="#7e8d9c"/><stop offset="0.1" stop-color="#7e8d9b"/><stop offset="0.15" stop-color="#7f8e9b"/><stop offset="0.2" stop-color="#808e9c"/><stop offset="0.25" stop-color="#7f8e9c"/><stop offset="0.3" stop-color="#7e8d9b"/><stop offset="0.35" stop-color="#7c8c9b"/><stop offset="0.4" stop-color="#7d8c9b"/><stop offset="0.45" stop-color="#7e8d9b"/><stop offset="0.5" stop-color="#7d8d9b"/><stop offset="0.55" stop-color="#7b8c9a"/><stop offset="0.6" stop-color="#7b8d9b"/><stop offset="0.65" stop-color="#788b9a"/><stop offset="0.69" stop-color="#748999"/><stop offset="0.74" stop-color="#718697"/><stop offset="0.79" stop-color="#6d8294"/><stop offset="0.84" stop-color="#697e91"/><stop offset="0.89" stop-color="#657a8d"/><stop offset="0.94" stop-color="#617689"/><stop offset="0.99" stop-color="#5d7285"/><stop offset="1" stop-color="#5c7184"/></linearGradient><linearGradient id="g51" gradientUnits="userSpaceOnUse" x1="378" y1="0" x2="640" y2="0"><stop offset="0" stop-color="#81909f"/><stop offset="0.05" stop-color="#81909e"/><stop offset="0.1" stop-color="#82909e"/><stop offset="0.15" stop-color="#82909e"/><stop offset="0.2" stop-color="#82919e"/><stop offset="0.25" stop-color="#82919e"/><stop offset="0.3" stop-color="#81909e"/><stop offset="0.35" stop-color="#7f8f9d"/><stop offset="0.4" stop-color="#7f8f9d"/><stop offset="0.45" stop-color="#808f9d"/><stop offset="0.5" stop-color="#7f8f9d"/><stop offset="0.55" stop-color="#7d8e9c"/><stop offset="0.6" stop-color="#7c8f9d"/><stop offset="0.65" stop-color="#798d9c"/><stop offset="0.69" stop-color="#768a9a"/><stop offset="0.74" stop-color="#728798"/><stop offset="0.79" stop-color="#6f8395"/><stop offset="0.84" stop-color="#6a7f92"/><stop offset="0.89" stop-color="#667b8e"/><stop offset="0.94" stop-color="#62778a"/><stop offset="0.99" stop-color="#5e7386"/><stop offset="1" stop-color="#5d7285"/></linearGradient><linearGradient id="g52" gradientUnits="userSpaceOnUse" x1="378" y1="0" x2="640" y2="0"><stop offset="0" stop-color="#8392a1"/><stop offset="0.05" stop-color="#8392a1"/><stop offset="0.1" stop-color="#8493a0"/><stop offset="0.15" stop-color="#8593a0"/><stop offset="0.2" stop-color="#8593a1"/><stop offset="0.25" stop-color="#8593a1"/><stop offset="0.3" stop-color="#8492a1"/><stop offset="0.35" stop-color="#8291a0"/><stop offset="0.4" stop-color="#8191a0"/><stop offset="0.45" stop-color="#82929f"/><stop offset="0.5" stop-color="#80919f"/><stop offset="0.55" stop-color="#7e909e"/><stop offset="0.6" stop-color="#7d909e"/><stop offset="0.65" stop-color="#7a8e9d"/><stop offset="0.69" stop-color="#778b9c"/><stop offset="0.74" stop-color="#74889a"/><stop offset="0.79" stop-color="#708597"/><stop offset="0.84" stop-color="#6b8093"/><stop offset="0.89" stop-color="#677c8f"/><stop offset="0.94" stop-color="#63788b"/><stop offset="0.99" stop-color="#5f7487"/><stop offset="1" stop-color="#5e7386"/></linearGradient><linearGradient id="g53" gradientUnits="userSpaceOnUse" x1="378" y1="0" x2="640" y2="0"><stop offset="0" stop-color="#8594a3"/><stop offset="0.05" stop-color="#8694a3"/><stop offset="0.1" stop-color="#8795a3"/><stop offset="0.15" stop-color="#8795a3"/><stop offset="0.2" stop-color="#8896a3"/><stop offset="0.25" stop-color="#8896a4"/><stop offset="0.3" stop-color="#8795a3"/><stop offset="0.35" stop-color="#8494a2"/><stop offset="0.4" stop-color="#8493a2"/><stop offset="0.45" stop-color="#8394a2"/><stop offset="0.5" stop-color="#8293a1"/><stop offset="0.55" stop-color="#8092a0"/><stop offset="0.6" stop-color="#7e91a0"/><stop offset="0.65" stop-color="#7b8f9f"/><stop offset="0.69" stop-color="#788d9d"/><stop offset="0.74" stop-color="#75899b"/><stop offset="0.79" stop-color="#718698"/><stop offset="0.84" stop-color="#6c8194"/><stop offset="0.89" stop-color="#687d90"/><stop offset="0.94" stop-color="#64798c"/><stop offset="0.99" stop-color="#607588"/><stop offset="1" stop-color="#5f7488"/></linearGradient><linearGradient id="g54" gradientUnits="userSpaceOnUse" x1="378" y1="0" x2="640" y2="0"><stop offset="0" stop-color="#8896a5"/><stop offset="0.05" stop-color="#8997a5"/><stop offset="0.1" stop-color="#8a98a5"/><stop offset="0.15" stop-color="#8a98a5"/><stop offset="0.2" stop-color="#8b98a6"/><stop offset="0.25" stop-color="#8b99a6"/><stop offset="0.3" stop-color="#8a98a6"/><stop offset="0.35" stop-color="#8796a5"/><stop offset="0.4" stop-color="#8696a4"/><stop offset="0.45" stop-color="#8596a4"/><stop offset="0.5" stop-color="#8495a3"/><stop offset="0.55" stop-color="#8193a2"/><stop offset="0.6" stop-color="#7f92a1"/><stop offset="0.65" stop-color="#7c90a0"/><stop offset="0.69" stop-color="#798e9e"/><stop offset="0.74" stop-color="#768b9c"/><stop offset="0.79" stop-color="#728799"/><stop offset="0.84" stop-color="#6d8395"/><stop offset="0.89" stop-color="#697e91"/><stop offset="0.94" stop-color="#647a8d"/><stop offset="0.99" stop-color="#617689"/><stop offset="1" stop-color="#607589"/></linearGradient><linearGradient id="g55" gradientUnits="userSpaceOnUse" x1="378" y1="0" x2="640" y2="0"><stop offset="0" stop-color="#8a99a7"/><stop offset="0.05" stop-color="#8b99a7"/><stop offset="0.1" stop-color="#8d9aa8"/><stop offset="0.15" stop-color="#8d9aa7"/><stop offset="0.2" stop-color="#8e9ba8"/><stop offset="0.25" stop-color="#8e9ba9"/><stop offset="0.3" stop-color="#8c9aa8"/><stop offset="0.35" stop-color="#8999a7"/><stop offset="0.4" stop-color="#8898a6"/><stop offset="0.45" stop-color="#8798a6"/><stop offset="0.5" stop-color="#8597a5"/><stop offset="0.55" stop-color="#8395a3"/><stop offset="0.6" stop-color="#8093a2"/><stop offset="0.65" stop-color="#7c91a1"/><stop offset="0.69" stop-color="#7a8fa0"/><stop offset="0.74" stop-color="#778c9d"/><stop offset="0.79" stop-color="#73889a"/><stop offset="0.84" stop-color="#6e8396"/><stop offset="0.89" stop-color="#6a7f92"/><stop offset="0.94" stop-color="#657b8e"/><stop offset="0.99" stop-color="#61778a"/><stop offset="1" stop-color="#61768a"/></linearGradient><linearGradient id="g56" gradientUnits="userSpaceOnUse" x1="378" y1="0" x2="640" y2="0"><stop offset="0" stop-color="#8c9ba9"/><stop offset="0.05" stop-color="#8d9ba9"/><stop offset="0.1" stop-color="#8f9caa"/><stop offset="0.15" stop-color="#8f9ca9"/><stop offset="0.2" stop-color="#909daa"/><stop offset="0.25" stop-color="#919eab"/><stop offset="0.3" stop-color="#8f9dab"/><stop offset="0.35" stop-color="#8c9ba9"/><stop offset="0.4" stop-color="#8a9aa8"/><stop offset="0.45" stop-color="#889aa8"/><stop offset="0.5" stop-color="#8798a6"/><stop offset="0.55" stop-color="#8496a5"/><stop offset="0.6" stop-color="#8094a4"/><stop offset="0.65" stop-color="#7d92a2"/><stop offset="0.69" stop-color="#7b90a1"/><stop offset="0.74" stop-color="#788d9e"/><stop offset="0.79" stop-color="#74899b"/><stop offset="0.84" stop-color="#6f8497"/><stop offset="0.89" stop-color="#6a8093"/><stop offset="0.94" stop-color="#667c8f"/><stop offset="0.99" stop-color="#62788b"/><stop offset="1" stop-color="#62778b"/></linearGradient><linearGradient id="g57" gradientUnits="userSpaceOnUse" x1="378" y1="0" x2="640" y2="0"><stop offset="0" stop-color="#8f9dab"/><stop offset="0.05" stop-color="#8f9dab"/><stop offset="0.1" stop-color="#919eac"/><stop offset="0.15" stop-color="#919eab"/><stop offset="0.2" stop-color="#939fac"/><stop offset="0.25" stop-color="#93a0ae"/><stop offset="0.3" stop-color="#929fad"/><stop offset="0.35" stop-color="#8e9dab"/><stop offset="0.4" stop-color="#8b9caa"/><stop offset="0.45" stop-color="#8a9ba9"/><stop offset="0.5" stop-color="#889aa8"/><stop offset="0.55" stop-color="#8598a6"/><stop offset="0.6" stop-color="#8195a5"/><stop offset="0.65" stop-color="#7e93a3"/><stop offset="0.69" stop-color="#7c91a2"/><stop offset="0.74" stop-color="#798e9f"/><stop offset="0.79" stop-color="#748a9c"/><stop offset="0.84" stop-color="#708598"/><stop offset="0.89" stop-color="#6b8194"/><stop offset="0.94" stop-color="#677d90"/><stop offset="0.99" stop-color="#63798c"/><stop offset="1" stop-color="#63788c"/></linearGradient><linearGradient id="g58" gradientUnits="userSpaceOnUse" x1="378" y1="0" x2="640" y2="0"><stop offset="0" stop-color="#919fad"/><stop offset="0.05" stop-color="#929fac"/><stop offset="0.1" stop-color="#93a0ae"/><stop offset="0.15" stop-color="#94a0ad"/><stop offset="0.2" stop-color="#95a1ae"/><stop offset="0.25" stop-color="#96a3b0"/><stop offset="0.3" stop-color="#94a2af"/><stop offset="0.35" stop-color="#909fad"/><stop offset="0.4" stop-color="#8d9dac"/><stop offset="0.45" stop-color="#8c9dab"/><stop offset="0.5" stop-color="#899caa"/><stop offset="0.55" stop-color="#8699a7"/><stop offset="0.6" stop-color="#8296a6"/><stop offset="0.65" stop-color="#7f94a4"/><stop offset="0.69" stop-color="#7c91a2"/><stop offset="0.74" stop-color="#798ea0"/><stop offset="0.79" stop-color="#758a9d"/><stop offset="0.84" stop-color="#708699"/><stop offset="0.89" stop-color="#6c8295"/><stop offset="0.94" stop-color="#687e91"/><stop offset="0.99" stop-color="#647a8d"/><stop offset="1" stop-color="#63798c"/></linearGradient><linearGradient id="g59" gradientUnits="userSpaceOnUse" x1="378" y1="0" x2="640" y2="0"><stop offset="0" stop-color="#93a1af"/><stop offset="0.05" stop-color="#93a1ae"/><stop offset="0.1" stop-color="#95a2af"/><stop offset="0.15" stop-color="#96a2af"/><stop offset="0.2" stop-color="#97a3b0"/><stop offset="0.25" stop-color="#98a5b2"/><stop offset="0.3" stop-color="#96a4b1"/><stop offset="0.35" stop-color="#92a1af"/><stop offset="0.4" stop-color="#8f9fad"/><stop offset="0.45" stop-color="#8d9fad"/><stop offset="0.5" stop-color="#8b9dab"/><stop offset="0.55" stop-color="#879aa8"/><stop offset="0.6" stop-color="#8397a7"/><stop offset="0.65" stop-color="#7f94a5"/><stop offset="0.69" stop-color="#7d92a3"/><stop offset="0.74" stop-color="#7a8fa1"/><stop offset="0.79" stop-color="#768b9d"/><stop offset="0.84" stop-color="#71879a"/><stop offset="0.89" stop-color="#6d8396"/><stop offset="0.94" stop-color="#687f92"/><stop offset="0.99" stop-color="#657b8e"/><stop offset="1" stop-color="#647a8d"/></linearGradient><linearGradient id="g60" gradientUnits="userSpaceOnUse" x1="378" y1="0" x2="640" y2="0"><stop offset="0" stop-color="#95a3b1"/><stop offset="0.05" stop-color="#95a2af"/><stop offset="0.1" stop-color="#97a3b1"/><stop offset="0.15" stop-color="#98a4b1"/><stop offset="0.2" stop-color="#99a5b2"/><stop offset="0.25" stop-color="#9ba7b4"/><stop offset="0.3" stop-color="#98a6b3"/><stop offset="0.35" stop-color="#93a2b0"/><stop offset="0.4" stop-color="#90a1af"/><stop offset="0.45" stop-color="#8fa1ae"/><stop offset="0.5" stop-color="#8c9eac"/><stop offset="0.55" stop-color="#879aa9"/><stop offset="0.6" stop-color="#8398a8"/><stop offset="0.65" stop-color="#8095a6"/><stop offset="0.69" stop-color="#7e93a4"/><stop offset="0.74" stop-color="#7b90a2"/><stop offset="0.79" stop-color="#768c9e"/><stop offset="0.84" stop-color="#72879a"/><stop offset="0.89" stop-color="#6d8396"/><stop offset="0.94" stop-color="#697f93"/><stop offset="0.99" stop-color="#657c8f"/><stop offset="1" stop-color="#657b8e"/></linearGradient><linearGradient id="g61" gradientUnits="userSpaceOnUse" x1="378" y1="0" x2="640" y2="0"><stop offset="0" stop-color="#97a5b3"/><stop offset="0.05" stop-color="#97a4b1"/><stop offset="0.1" stop-color="#98a5b2"/><stop offset="0.15" stop-color="#9aa6b3"/><stop offset="0.2" stop-color="#9ba7b4"/><stop offset="0.25" stop-color="#9da9b6"/><stop offset="0.3" stop-color="#9aa8b5"/><stop offset="0.35" stop-color="#95a4b2"/><stop offset="0.4" stop-color="#91a2b0"/><stop offset="0.45" stop-color="#90a2b0"/><stop offset="0.5" stop-color="#8d9fae"/><stop offset="0.55" stop-color="#889baa"/><stop offset="0.6" stop-color="#8498a8"/><stop offset="0.65" stop-color="#8195a6"/><stop offset="0.69" stop-color="#7e93a4"/><stop offset="0.74" stop-color="#7b90a2"/><stop offset="0.79" stop-color="#778c9f"/><stop offset="0.84" stop-color="#72889b"/><stop offset="0.89" stop-color="#6e8497"/><stop offset="0.94" stop-color="#6a8093"/><stop offset="0.99" stop-color="#667c90"/><stop offset="1" stop-color="#667c8f"/></linearGradient><linearGradient id="g62" gradientUnits="userSpaceOnUse" x1="378" y1="0" x2="640" y2="0"><stop offset="0" stop-color="#99a7b5"/><stop offset="0.05" stop-color="#99a6b2"/><stop offset="0.1" stop-color="#9aa7b3"/><stop offset="0.15" stop-color="#9ba8b4"/><stop offset="0.2" stop-color="#9da9b6"/><stop offset="0.25" stop-color="#9fabb7"/><stop offset="0.3" stop-color="#9caab7"/><stop offset="0.35" stop-color="#96a5b3"/><stop offset="0.4" stop-color="#92a3b1"/><stop offset="0.45" stop-color="#91a3b1"/><stop offset="0.5" stop-color="#8ea0af"/><stop offset="0.55" stop-color="#889cab"/><stop offset="0.6" stop-color="#8499a9"/><stop offset="0.65" stop-color="#8196a7"/><stop offset="0.69" stop-color="#7e93a5"/><stop offset="0.74" stop-color="#7c91a3"/><stop offset="0.79" stop-color="#778d9f"/><stop offset="0.84" stop-color="#73899c"/><stop offset="0.89" stop-color="#6e8598"/><stop offset="0.94" stop-color="#6b8194"/><stop offset="0.99" stop-color="#677d90"/><stop offset="1" stop-color="#667d90"/></linearGradient><linearGradient id="g63" gradientUnits="userSpaceOnUse" x1="378" y1="0" x2="640" y2="0"><stop offset="0" stop-color="#9ba9b7"/><stop offset="0.05" stop-color="#9aa8b4"/><stop offset="0.1" stop-color="#9ca8b5"/><stop offset="0.15" stop-color="#9da9b6"/><stop offset="0.2" stop-color="#9fabb7"/><stop offset="0.25" stop-color="#a0adb9"/><stop offset="0.3" stop-color="#9eabb8"/><stop offset="0.35" stop-color="#97a6b4"/><stop offset="0.4" stop-color="#93a4b2"/><stop offset="0.45" stop-color="#92a4b2"/><stop offset="0.5" stop-color="#8fa1af"/><stop offset="0.55" stop-color="#899cab"/><stop offset="0.6" stop-color="#8599a9"/><stop offset="0.65" stop-color="#8196a7"/><stop offset="0.69" stop-color="#7f93a5"/><stop offset="0.74" stop-color="#7c91a3"/><stop offset="0.79" stop-color="#788da0"/><stop offset="0.84" stop-color="#73899c"/><stop offset="0.89" stop-color="#6f8598"/><stop offset="0.94" stop-color="#6b8295"/><stop offset="0.99" stop-color="#687e91"/><stop offset="1" stop-color="#677d90"/></linearGradient><linearGradient id="g64" gradientUnits="userSpaceOnUse" x1="378" y1="0" x2="640" y2="0"><stop offset="0" stop-color="#9dacb9"/><stop offset="0.05" stop-color="#9caab6"/><stop offset="0.1" stop-color="#9daab6"/><stop offset="0.15" stop-color="#9fabb8"/><stop offset="0.2" stop-color="#a0acb9"/><stop offset="0.25" stop-color="#a2aeba"/><stop offset="0.3" stop-color="#9facb9"/><stop offset="0.35" stop-color="#98a7b5"/><stop offset="0.4" stop-color="#94a5b3"/><stop offset="0.45" stop-color="#93a5b3"/><stop offset="0.5" stop-color="#8fa2b0"/><stop offset="0.55" stop-color="#899cac"/><stop offset="0.6" stop-color="#8599aa"/><stop offset="0.65" stop-color="#8296a7"/><stop offset="0.69" stop-color="#7f93a5"/><stop offset="0.74" stop-color="#7c91a3"/><stop offset="0.79" stop-color="#788da0"/><stop offset="0.84" stop-color="#738a9d"/><stop offset="0.89" stop-color="#6f8699"/><stop offset="0.94" stop-color="#6c8295"/><stop offset="0.99" stop-color="#687f92"/><stop offset="1" stop-color="#687e91"/></linearGradient><linearGradient id="g65" gradientUnits="userSpaceOnUse" x1="378" y1="0" x2="640" y2="0"><stop offset="0" stop-color="#9faebb"/><stop offset="0.05" stop-color="#9eacb8"/><stop offset="0.1" stop-color="#9facb8"/><stop offset="0.15" stop-color="#a0adb9"/><stop offset="0.2" stop-color="#a1adba"/><stop offset="0.25" stop-color="#a3afbb"/><stop offset="0.3" stop-color="#a0aeba"/><stop offset="0.35" stop-color="#99a8b6"/><stop offset="0.4" stop-color="#94a5b4"/><stop offset="0.45" stop-color="#93a5b4"/><stop offset="0.5" stop-color="#8fa2b0"/><stop offset="0.55" stop-color="#899cac"/><stop offset="0.6" stop-color="#8599aa"/><stop offset="0.65" stop-color="#8296a7"/><stop offset="0.69" stop-color="#7f93a5"/><stop offset="0.74" stop-color="#7c91a3"/><stop offset="0.79" stop-color="#788ea0"/><stop offset="0.84" stop-color="#748a9d"/><stop offset="0.89" stop-color="#70869a"/><stop offset="0.94" stop-color="#6c8396"/><stop offset="0.99" stop-color="#697f92"/><stop offset="1" stop-color="#687f92"/></linearGradient><linearGradient id="g66" gradientUnits="userSpaceOnUse" x1="378" y1="0" x2="640" y2="0"><stop offset="0" stop-color="#a1b0bd"/><stop offset="0.05" stop-color="#a0aeba"/><stop offset="0.1" stop-color="#a1aeba"/><stop offset="0.15" stop-color="#a1aebb"/><stop offset="0.2" stop-color="#a2afbb"/><stop offset="0.25" stop-color="#a4b0bc"/><stop offset="0.3" stop-color="#a1aebb"/><stop offset="0.35" stop-color="#99a9b7"/><stop offset="0.4" stop-color="#94a5b4"/><stop offset="0.45" stop-color="#94a5b4"/><stop offset="0.5" stop-color="#8fa2b0"/><stop offset="0.55" stop-color="#899cac"/><stop offset="0.6" stop-color="#8599aa"/><stop offset="0.65" stop-color="#8296a7"/><stop offset="0.69" stop-color="#7e93a5"/><stop offset="0.74" stop-color="#7c91a3"/><stop offset="0.79" stop-color="#788ea1"/><stop offset="0.84" stop-color="#748a9d"/><stop offset="0.89" stop-color="#70879a"/><stop offset="0.94" stop-color="#6d8397"/><stop offset="0.99" stop-color="#6a8093"/><stop offset="1" stop-color="#698093"/></linearGradient><linearGradient id="g67" gradientUnits="userSpaceOnUse" x1="378" y1="0" x2="640" y2="0"><stop offset="0" stop-color="#a3b2c0"/><stop offset="0.05" stop-color="#a2b0bd"/><stop offset="0.1" stop-color="#a2b0bc"/><stop offset="0.15" stop-color="#a3b0bc"/><stop offset="0.2" stop-color="#a4b0bc"/><stop offset="0.25" stop-color="#a4b1bd"/><stop offset="0.3" stop-color="#a1afbc"/><stop offset="0.35" stop-color="#99a9b7"/><stop offset="0.4" stop-color="#94a6b5"/><stop offset="0.45" stop-color="#93a5b4"/><stop offset="0.5" stop-color="#8fa1b0"/><stop offset="0.55" stop-color="#889cac"/><stop offset="0.6" stop-color="#8599a9"/><stop offset="0.65" stop-color="#8196a7"/><stop offset="0.69" stop-color="#7e93a5"/><stop offset="0.74" stop-color="#7c91a3"/><stop offset="0.79" stop-color="#788ea1"/><stop offset="0.84" stop-color="#748b9e"/><stop offset="0.89" stop-color="#71879a"/><stop offset="0.94" stop-color="#6d8497"/><stop offset="0.99" stop-color="#6a8194"/><stop offset="1" stop-color="#6a8093"/></linearGradient><linearGradient id="g68" gradientUnits="userSpaceOnUse" x1="378" y1="0" x2="640" y2="0"><stop offset="0" stop-color="#a5b4c2"/><stop offset="0.05" stop-color="#a4b3bf"/><stop offset="0.1" stop-color="#a4b2be"/><stop offset="0.15" stop-color="#a4b1be"/><stop offset="0.2" stop-color="#a4b1bd"/><stop offset="0.25" stop-color="#a5b1be"/><stop offset="0.3" stop-color="#a1afbc"/><stop offset="0.35" stop-color="#9aa9b8"/><stop offset="0.4" stop-color="#94a6b5"/><stop offset="0.45" stop-color="#93a5b4"/><stop offset="0.5" stop-color="#8ea1b0"/><stop offset="0.55" stop-color="#889bab"/><stop offset="0.6" stop-color="#8498a9"/><stop offset="0.65" stop-color="#8195a7"/><stop offset="0.69" stop-color="#7e92a4"/><stop offset="0.74" stop-color="#7b91a3"/><stop offset="0.79" stop-color="#788ea1"/><stop offset="0.84" stop-color="#748b9e"/><stop offset="0.89" stop-color="#71889b"/><stop offset="0.94" stop-color="#6e8598"/><stop offset="0.99" stop-color="#6b8194"/><stop offset="1" stop-color="#6a8194"/></linearGradient><linearGradient id="g69" gradientUnits="userSpaceOnUse" x1="378" y1="0" x2="640" y2="0"><stop offset="0" stop-color="#a7b7c4"/><stop offset="0.05" stop-color="#a7b5c2"/><stop offset="0.1" stop-color="#a6b4c0"/><stop offset="0.15" stop-color="#a5b2bf"/><stop offset="0.2" stop-color="#a5b2be"/><stop offset="0.25" stop-color="#a5b2be"/><stop offset="0.3" stop-color="#a1afbd"/><stop offset="0.35" stop-color="#9aaab8"/><stop offset="0.4" stop-color="#94a5b5"/><stop offset="0.45" stop-color="#92a4b4"/><stop offset="0.5" stop-color="#8ea0b0"/><stop offset="0.55" stop-color="#879bab"/><stop offset="0.6" stop-color="#8498a9"/><stop offset="0.65" stop-color="#8195a6"/><stop offset="0.69" stop-color="#7d92a4"/><stop offset="0.74" stop-color="#7b90a3"/><stop offset="0.79" stop-color="#788ea1"/><stop offset="0.84" stop-color="#758b9e"/><stop offset="0.89" stop-color="#71889b"/><stop offset="0.94" stop-color="#6e8598"/><stop offset="0.99" stop-color="#6b8295"/><stop offset="1" stop-color="#6b8294"/></linearGradient><linearGradient id="g70" gradientUnits="userSpaceOnUse" x1="378" y1="0" x2="640" y2="0"><stop offset="0" stop-color="#a9b9c6"/><stop offset="0.05" stop-color="#a9b8c5"/><stop offset="0.1" stop-color="#a7b6c2"/><stop offset="0.15" stop-color="#a6b4c1"/><stop offset="0.2" stop-color="#a6b2bf"/><stop offset="0.25" stop-color="#a6b2bf"/><stop offset="0.3" stop-color="#a2b0bd"/><stop offset="0.35" stop-color="#9aaab9"/><stop offset="0.4" stop-color="#94a5b5"/><stop offset="0.45" stop-color="#92a4b3"/><stop offset="0.5" stop-color="#8da0af"/><stop offset="0.55" stop-color="#869aaa"/><stop offset="0.6" stop-color="#8397a8"/><stop offset="0.65" stop-color="#8094a6"/><stop offset="0.69" stop-color="#7c91a3"/><stop offset="0.74" stop-color="#7b90a2"/><stop offset="0.79" stop-color="#788ea1"/><stop offset="0.84" stop-color="#758b9e"/><stop offset="0.89" stop-color="#72899c"/><stop offset="0.94" stop-color="#6f8699"/><stop offset="0.99" stop-color="#6c8396"/><stop offset="1" stop-color="#6c8295"/></linearGradient><linearGradient id="g71" gradientUnits="userSpaceOnUse" x1="378" y1="0" x2="640" y2="0"><stop offset="0" stop-color="#abbbc9"/><stop offset="0.05" stop-color="#abbac8"/><stop offset="0.1" stop-color="#a9b8c5"/><stop offset="0.15" stop-color="#a7b5c2"/><stop offset="0.2" stop-color="#a7b3c0"/><stop offset="0.25" stop-color="#a6b2bf"/><stop offset="0.3" stop-color="#a2b0bd"/><stop offset="0.35" stop-color="#9aaab9"/><stop offset="0.4" stop-color="#93a5b5"/><stop offset="0.45" stop-color="#91a3b3"/><stop offset="0.5" stop-color="#8c9faf"/><stop offset="0.55" stop-color="#8699aa"/><stop offset="0.6" stop-color="#8397a8"/><stop offset="0.65" stop-color="#8094a6"/><stop offset="0.69" stop-color="#7c91a3"/><stop offset="0.74" stop-color="#7a8fa2"/><stop offset="0.79" stop-color="#788ea1"/><stop offset="0.84" stop-color="#758c9f"/><stop offset="0.89" stop-color="#72899c"/><stop offset="0.94" stop-color="#6f8699"/><stop offset="0.99" stop-color="#6d8396"/><stop offset="1" stop-color="#6c8396"/></linearGradient><linearGradient id="g72" gradientUnits="userSpaceOnUse" x1="378" y1="0" x2="640" y2="0"><stop offset="0" stop-color="#adbdcb"/><stop offset="0.05" stop-color="#adbdca"/><stop offset="0.1" stop-color="#aabac7"/><stop offset="0.15" stop-color="#a8b6c4"/><stop offset="0.2" stop-color="#a7b4c1"/><stop offset="0.25" stop-color="#a6b3c0"/><stop offset="0.3" stop-color="#a2b0be"/><stop offset="0.35" stop-color="#9aaab9"/><stop offset="0.4" stop-color="#93a5b5"/><stop offset="0.45" stop-color="#90a3b3"/><stop offset="0.5" stop-color="#8b9eaf"/><stop offset="0.55" stop-color="#8599aa"/><stop offset="0.6" stop-color="#8297a8"/><stop offset="0.65" stop-color="#7f94a5"/><stop offset="0.69" stop-color="#7b90a2"/><stop offset="0.74" stop-color="#7a8fa1"/><stop offset="0.79" stop-color="#788ea1"/><stop offset="0.84" stop-color="#758c9f"/><stop offset="0.89" stop-color="#72899c"/><stop offset="0.94" stop-color="#70879a"/><stop offset="0.99" stop-color="#6d8497"/><stop offset="1" stop-color="#6d8396"/></linearGradient><linearGradient id="g73" gradientUnits="userSpaceOnUse" x1="378" y1="0" x2="640" y2="0"><stop offset="0" stop-color="#afbfcd"/><stop offset="0.05" stop-color="#afbfcd"/><stop offset="0.1" stop-color="#acbbc9"/><stop offset="0.15" stop-color="#a9b8c5"/><stop offset="0.2" stop-color="#a8b5c2"/><stop offset="0.25" stop-color="#a6b3c1"/><stop offset="0.3" stop-color="#a2b0be"/><stop offset="0.35" stop-color="#9aaaba"/><stop offset="0.4" stop-color="#93a5b5"/><stop offset="0.45" stop-color="#90a2b3"/><stop offset="0.5" stop-color="#8b9eae"/><stop offset="0.55" stop-color="#8498a9"/><stop offset="0.6" stop-color="#8296a7"/><stop offset="0.65" stop-color="#7f93a5"/><stop offset="0.69" stop-color="#7b90a2"/><stop offset="0.74" stop-color="#798fa1"/><stop offset="0.79" stop-color="#778ea0"/><stop offset="0.84" stop-color="#758c9f"/><stop offset="0.89" stop-color="#738a9d"/><stop offset="0.94" stop-color="#70879a"/><stop offset="0.99" stop-color="#6e8497"/><stop offset="1" stop-color="#6d8497"/></linearGradient><linearGradient id="g74" gradientUnits="userSpaceOnUse" x1="378" y1="0" x2="640" y2="0"><stop offset="0" stop-color="#b0c1cf"/><stop offset="0.05" stop-color="#b0c1cf"/><stop offset="0.1" stop-color="#adbdca"/><stop offset="0.15" stop-color="#aab9c6"/><stop offset="0.2" stop-color="#a8b6c3"/><stop offset="0.25" stop-color="#a6b3c1"/><stop offset="0.3" stop-color="#a2b0bf"/><stop offset="0.35" stop-color="#9aaaba"/><stop offset="0.4" stop-color="#92a4b5"/><stop offset="0.45" stop-color="#8fa2b3"/><stop offset="0.5" stop-color="#8a9dae"/><stop offset="0.55" stop-color="#8498a9"/><stop offset="0.6" stop-color="#8196a7"/><stop offset="0.65" stop-color="#7e93a5"/><stop offset="0.69" stop-color="#7a8fa1"/><stop offset="0.74" stop-color="#798ea1"/><stop offset="0.79" stop-color="#778ea0"/><stop offset="0.84" stop-color="#758c9f"/><stop offset="0.89" stop-color="#738a9d"/><stop offset="0.94" stop-color="#71889a"/><stop offset="0.99" stop-color="#6e8598"/><stop offset="1" stop-color="#6e8597"/></linearGradient><linearGradient id="g75" gradientUnits="userSpaceOnUse" x1="378" y1="0" x2="640" y2="0"><stop offset="0" stop-color="#b2c3d1"/><stop offset="0.05" stop-color="#b2c3d1"/><stop offset="0.1" stop-color="#aebfcc"/><stop offset="0.15" stop-color="#abbac8"/><stop offset="0.2" stop-color="#a9b7c4"/><stop offset="0.25" stop-color="#a7b4c2"/><stop offset="0.3" stop-color="#a2b1bf"/><stop offset="0.35" stop-color="#9aabba"/><stop offset="0.4" stop-color="#92a5b6"/><stop offset="0.45" stop-color="#8fa2b3"/><stop offset="0.5" stop-color="#8a9dae"/><stop offset="0.55" stop-color="#8498a9"/><stop offset="0.6" stop-color="#8196a7"/><stop offset="0.65" stop-color="#7e93a5"/><stop offset="0.69" stop-color="#7a8fa1"/><stop offset="0.74" stop-color="#798ea1"/><stop offset="0.79" stop-color="#778ea0"/><stop offset="0.84" stop-color="#758c9f"/><stop offset="0.89" stop-color="#738a9d"/><stop offset="0.94" stop-color="#71889b"/><stop offset="0.99" stop-color="#6f8698"/><stop offset="1" stop-color="#6e8598"/></linearGradient><linearGradient id="g76" gradientUnits="userSpaceOnUse" x1="378" y1="0" x2="640" y2="0"><stop offset="0" stop-color="#b4c5d3"/><stop offset="0.05" stop-color="#b3c4d2"/><stop offset="0.1" stop-color="#afc0ce"/><stop offset="0.15" stop-color="#acbcc9"/><stop offset="0.2" stop-color="#a9b8c6"/><stop offset="0.25" stop-color="#a7b5c3"/><stop offset="0.3" stop-color="#a2b1c0"/><stop offset="0.35" stop-color="#9aabbb"/><stop offset="0.4" stop-color="#93a5b6"/><stop offset="0.45" stop-color="#8fa2b3"/><stop offset="0.5" stop-color="#8a9dae"/><stop offset="0.55" stop-color="#8498a9"/><stop offset="0.6" stop-color="#8196a7"/><stop offset="0.65" stop-color="#7e93a5"/><stop offset="0.69" stop-color="#7a8fa1"/><stop offset="0.74" stop-color="#788ea0"/><stop offset="0.79" stop-color="#778ea0"/><stop offset="0.84" stop-color="#758c9f"/><stop offset="0.89" stop-color="#738b9d"/><stop offset="0.94" stop-color="#71899b"/><stop offset="0.99" stop-color="#6f8699"/><stop offset="1" stop-color="#6f8698"/></linearGradient><linearGradient id="g77" gradientUnits="userSpaceOnUse" x1="378" y1="0" x2="640" y2="0"><stop offset="0" stop-color="#b5c6d4"/><stop offset="0.05" stop-color="#b4c5d4"/><stop offset="0.1" stop-color="#b0c1cf"/><stop offset="0.15" stop-color="#adbdca"/><stop offset="0.2" stop-color="#aab9c7"/><stop offset="0.25" stop-color="#a8b6c4"/><stop offset="0.3" stop-color="#a3b2c1"/><stop offset="0.35" stop-color="#9bacbc"/><stop offset="0.4" stop-color="#93a6b7"/><stop offset="0.45" stop-color="#8fa2b3"/><stop offset="0.5" stop-color="#8a9dae"/><stop offset="0.55" stop-color="#8498a9"/><stop offset="0.6" stop-color="#8196a7"/><stop offset="0.65" stop-color="#7e93a5"/><stop offset="0.69" stop-color="#7a8fa1"/><stop offset="0.74" stop-color="#788ea0"/><stop offset="0.79" stop-color="#778ea0"/><stop offset="0.84" stop-color="#768d9f"/><stop offset="0.89" stop-color="#748b9e"/><stop offset="0.94" stop-color="#72899c"/><stop offset="0.99" stop-color="#708799"/><stop offset="1" stop-color="#6f8699"/></linearGradient><linearGradient id="g78" gradientUnits="userSpaceOnUse" x1="378" y1="0" x2="640" y2="0"><stop offset="0" stop-color="#b7c8d5"/><stop offset="0.05" stop-color="#b5c7d4"/><stop offset="0.1" stop-color="#b1c3d0"/><stop offset="0.15" stop-color="#aebecc"/><stop offset="0.2" stop-color="#abbac8"/><stop offset="0.25" stop-color="#a8b7c5"/><stop offset="0.3" stop-color="#a3b3c2"/><stop offset="0.35" stop-color="#9bacbc"/><stop offset="0.4" stop-color="#94a6b7"/><stop offset="0.45" stop-color="#8fa2b3"/><stop offset="0.5" stop-color="#8a9dae"/><stop offset="0.55" stop-color="#8498aa"/><stop offset="0.6" stop-color="#8196a7"/><stop offset="0.65" stop-color="#7e94a5"/><stop offset="0.69" stop-color="#7a90a1"/><stop offset="0.74" stop-color="#788ea0"/><stop offset="0.79" stop-color="#778ea0"/><stop offset="0.84" stop-color="#768d9f"/><stop offset="0.89" stop-color="#748b9e"/><stop offset="0.94" stop-color="#72899c"/><stop offset="0.99" stop-color="#70879a"/><stop offset="1" stop-color="#708799"/></linearGradient><linearGradient id="g79" gradientUnits="userSpaceOnUse" x1="378" y1="0" x2="640" y2="0"><stop offset="0" stop-color="#b8c9d7"/><stop offset="0.05" stop-color="#b6c7d5"/><stop offset="0.1" stop-color="#b2c4d2"/><stop offset="0.15" stop-color="#afbfcd"/><stop offset="0.2" stop-color="#abbbc9"/><stop offset="0.25" stop-color="#a9b8c6"/><stop offset="0.3" stop-color="#a4b4c3"/><stop offset="0.35" stop-color="#9cadbd"/><stop offset="0.4" stop-color="#95a7b8"/><stop offset="0.45" stop-color="#90a3b4"/><stop offset="0.5" stop-color="#8a9eaf"/><stop offset="0.55" stop-color="#8499aa"/><stop offset="0.6" stop-color="#8197a8"/><stop offset="0.65" stop-color="#7e94a5"/><stop offset="0.69" stop-color="#7a90a2"/><stop offset="0.74" stop-color="#788ea0"/><stop offset="0.79" stop-color="#778ea0"/><stop offset="0.84" stop-color="#768d9f"/><stop offset="0.89" stop-color="#748b9e"/><stop offset="0.94" stop-color="#738a9c"/><stop offset="0.99" stop-color="#71889a"/><stop offset="1" stop-color="#71879a"/></linearGradient><linearGradient id="g80" gradientUnits="userSpaceOnUse" x1="378" y1="0" x2="640" y2="0"><stop offset="0" stop-color="#b9cad8"/><stop offset="0.05" stop-color="#b7c8d6"/><stop offset="0.1" stop-color="#b3c5d3"/><stop offset="0.15" stop-color="#b0c0ce"/><stop offset="0.2" stop-color="#acbcca"/><stop offset="0.25" stop-color="#aab9c8"/><stop offset="0.3" stop-color="#a5b5c4"/><stop offset="0.35" stop-color="#9daebe"/><stop offset="0.4" stop-color="#96a8b9"/><stop offset="0.45" stop-color="#91a4b5"/><stop offset="0.5" stop-color="#8a9eaf"/><stop offset="0.55" stop-color="#859aab"/><stop offset="0.6" stop-color="#8297a8"/><stop offset="0.65" stop-color="#7e94a6"/><stop offset="0.69" stop-color="#7a90a2"/><stop offset="0.74" stop-color="#788ea0"/><stop offset="0.79" stop-color="#778ea0"/><stop offset="0.84" stop-color="#768da0"/><stop offset="0.89" stop-color="#758c9e"/><stop offset="0.94" stop-color="#738a9d"/><stop offset="0.99" stop-color="#71889b"/><stop offset="1" stop-color="#71889a"/></linearGradient><linearGradient id="g81" gradientUnits="userSpaceOnUse" x1="378" y1="0" x2="640" y2="0"><stop offset="0" stop-color="#bbccd9"/><stop offset="0.05" stop-color="#b8c9d7"/><stop offset="0.1" stop-color="#b4c6d4"/><stop offset="0.15" stop-color="#b0c2d0"/><stop offset="0.2" stop-color="#adbecc"/><stop offset="0.25" stop-color="#abbbc9"/><stop offset="0.3" stop-color="#a6b6c5"/><stop offset="0.35" stop-color="#9eb0c0"/><stop offset="0.4" stop-color="#97a9ba"/><stop offset="0.45" stop-color="#91a4b6"/><stop offset="0.5" stop-color="#8b9fb0"/><stop offset="0.55" stop-color="#869aab"/><stop offset="0.6" stop-color="#8298a9"/><stop offset="0.65" stop-color="#7f95a6"/><stop offset="0.69" stop-color="#7a91a2"/><stop offset="0.74" stop-color="#788ea0"/><stop offset="0.79" stop-color="#778ea0"/><stop offset="0.84" stop-color="#768da0"/><stop offset="0.89" stop-color="#758c9e"/><stop offset="0.94" stop-color="#748b9d"/><stop offset="0.99" stop-color="#72899b"/><stop offset="1" stop-color="#72889b"/></linearGradient><linearGradient id="g82" gradientUnits="userSpaceOnUse" x1="378" y1="0" x2="640" y2="0"><stop offset="0" stop-color="#bccdda"/><stop offset="0.05" stop-color="#b9cad8"/><stop offset="0.1" stop-color="#b5c7d5"/><stop offset="0.15" stop-color="#b2c3d1"/><stop offset="0.2" stop-color="#aebfcd"/><stop offset="0.25" stop-color="#acbccb"/><stop offset="0.3" stop-color="#a7b8c7"/><stop offset="0.35" stop-color="#9fb1c1"/><stop offset="0.4" stop-color="#98abbc"/><stop offset="0.45" stop-color="#92a6b7"/><stop offset="0.5" stop-color="#8ca0b1"/><stop offset="0.55" stop-color="#869bac"/><stop offset="0.6" stop-color="#8298a9"/><stop offset="0.65" stop-color="#7f96a7"/><stop offset="0.69" stop-color="#7b91a3"/><stop offset="0.74" stop-color="#788ea0"/><stop offset="0.79" stop-color="#778ea0"/><stop offset="0.84" stop-color="#768da0"/><stop offset="0.89" stop-color="#758c9f"/><stop offset="0.94" stop-color="#748b9d"/><stop offset="0.99" stop-color="#72899b"/><stop offset="1" stop-color="#72899b"/></linearGradient><linearGradient id="g83" gradientUnits="userSpaceOnUse" x1="378" y1="0" x2="640" y2="0"><stop offset="0" stop-color="#becedb"/><stop offset="0.05" stop-color="#bacbd9"/><stop offset="0.1" stop-color="#b7c8d6"/><stop offset="0.15" stop-color="#b3c4d2"/><stop offset="0.2" stop-color="#afc1cf"/><stop offset="0.25" stop-color="#adbecc"/><stop offset="0.3" stop-color="#a8b9c8"/><stop offset="0.35" stop-color="#a0b2c2"/><stop offset="0.4" stop-color="#99acbd"/><stop offset="0.45" stop-color="#94a7b8"/><stop offset="0.5" stop-color="#8da1b2"/><stop offset="0.55" stop-color="#879cad"/><stop offset="0.6" stop-color="#8399aa"/><stop offset="0.65" stop-color="#7f96a7"/><stop offset="0.69" stop-color="#7b91a3"/><stop offset="0.74" stop-color="#788ea0"/><stop offset="0.79" stop-color="#778ea0"/><stop offset="0.84" stop-color="#768ea0"/><stop offset="0.89" stop-color="#758d9f"/><stop offset="0.94" stop-color="#748b9e"/><stop offset="0.99" stop-color="#738a9c"/><stop offset="1" stop-color="#738a9c"/></linearGradient><linearGradient id="g84" gradientUnits="userSpaceOnUse" x1="378" y1="0" x2="640" y2="0"><stop offset="0" stop-color="#bfd0dd"/><stop offset="0.05" stop-color="#bbccda"/><stop offset="0.1" stop-color="#b8cad7"/><stop offset="0.15" stop-color="#b4c6d4"/><stop offset="0.2" stop-color="#b0c2d0"/><stop offset="0.25" stop-color="#afc0ce"/><stop offset="0.3" stop-color="#aabbca"/><stop offset="0.35" stop-color="#a2b4c4"/><stop offset="0.4" stop-color="#9badbe"/><stop offset="0.45" stop-color="#95a8b9"/><stop offset="0.5" stop-color="#8ea2b3"/><stop offset="0.55" stop-color="#889daf"/><stop offset="0.6" stop-color="#839aab"/><stop offset="0.65" stop-color="#8097a8"/><stop offset="0.69" stop-color="#7b92a3"/><stop offset="0.74" stop-color="#788ea0"/><stop offset="0.79" stop-color="#778ea0"/><stop offset="0.84" stop-color="#778ea0"/><stop offset="0.89" stop-color="#768d9f"/><stop offset="0.94" stop-color="#758c9e"/><stop offset="0.99" stop-color="#738a9c"/><stop offset="1" stop-color="#738a9c"/></linearGradient><linearGradient id="g85" gradientUnits="userSpaceOnUse" x1="378" y1="0" x2="640" y2="0"><stop offset="0" stop-color="#c1d1de"/><stop offset="0.05" stop-color="#bccddb"/><stop offset="0.1" stop-color="#b9cbd8"/><stop offset="0.15" stop-color="#b6c7d5"/><stop offset="0.2" stop-color="#b2c4d2"/><stop offset="0.25" stop-color="#b0c1d0"/><stop offset="0.3" stop-color="#abbdcc"/><stop offset="0.35" stop-color="#a3b5c5"/><stop offset="0.4" stop-color="#9cafc0"/><stop offset="0.45" stop-color="#96aabb"/><stop offset="0.5" stop-color="#90a4b5"/><stop offset="0.55" stop-color="#8a9fb0"/><stop offset="0.6" stop-color="#849aab"/><stop offset="0.65" stop-color="#8097a8"/><stop offset="0.69" stop-color="#7b92a3"/><stop offset="0.74" stop-color="#788ea0"/><stop offset="0.79" stop-color="#778ea0"/><stop offset="0.84" stop-color="#778ea0"/><stop offset="0.89" stop-color="#768d9f"/><stop offset="0.94" stop-color="#758c9e"/><stop offset="0.99" stop-color="#748b9d"/><stop offset="1" stop-color="#748b9c"/></linearGradient><linearGradient id="g86" gradientUnits="userSpaceOnUse" x1="378" y1="0" x2="640" y2="0"><stop offset="0" stop-color="#c3d2df"/><stop offset="0.05" stop-color="#becfdc"/><stop offset="0.1" stop-color="#bbccd9"/><stop offset="0.15" stop-color="#b7c9d6"/><stop offset="0.2" stop-color="#b4c6d4"/><stop offset="0.25" stop-color="#b2c3d2"/><stop offset="0.3" stop-color="#adbfce"/><stop offset="0.35" stop-color="#a5b7c7"/><stop offset="0.4" stop-color="#9eb1c2"/><stop offset="0.45" stop-color="#98abbc"/><stop offset="0.5" stop-color="#92a6b7"/><stop offset="0.55" stop-color="#8ba0b1"/><stop offset="0.6" stop-color="#859bac"/><stop offset="0.65" stop-color="#8097a8"/><stop offset="0.69" stop-color="#7b92a4"/><stop offset="0.74" stop-color="#788ea0"/><stop offset="0.79" stop-color="#778ea0"/><stop offset="0.84" stop-color="#778ea0"/><stop offset="0.89" stop-color="#768d9f"/><stop offset="0.94" stop-color="#768d9e"/><stop offset="0.99" stop-color="#748b9d"/><stop offset="1" stop-color="#748b9d"/></linearGradient><linearGradient id="g87" gradientUnits="userSpaceOnUse" x1="378" y1="0" x2="640" y2="0"><stop offset="0" stop-color="#c4d4e0"/><stop offset="0.05" stop-color="#c0d0dd"/><stop offset="0.1" stop-color="#bccedb"/><stop offset="0.15" stop-color="#b9cad8"/><stop offset="0.2" stop-color="#b6c8d5"/><stop offset="0.25" stop-color="#b4c6d4"/><stop offset="0.3" stop-color="#afc1d0"/><stop offset="0.35" stop-color="#a7b9c9"/><stop offset="0.4" stop-color="#a0b3c3"/><stop offset="0.45" stop-color="#9aadbe"/><stop offset="0.5" stop-color="#94a8b9"/><stop offset="0.55" stop-color="#8ca2b3"/><stop offset="0.6" stop-color="#859cad"/><stop offset="0.65" stop-color="#8198a9"/><stop offset="0.69" stop-color="#7c93a4"/><stop offset="0.74" stop-color="#788fa0"/><stop offset="0.79" stop-color="#778ea0"/><stop offset="0.84" stop-color="#778ea0"/><stop offset="0.89" stop-color="#778ea0"/><stop offset="0.94" stop-color="#768d9f"/><stop offset="0.99" stop-color="#758c9e"/><stop offset="1" stop-color="#758c9d"/></linearGradient><linearGradient id="g88" gradientUnits="userSpaceOnUse" x1="378" y1="0" x2="640" y2="0"><stop offset="0" stop-color="#c6d5e2"/><stop offset="0.05" stop-color="#c2d2df"/><stop offset="0.1" stop-color="#becfdc"/><stop offset="0.15" stop-color="#baccd9"/><stop offset="0.2" stop-color="#b8cad7"/><stop offset="0.25" stop-color="#b6c8d6"/><stop offset="0.3" stop-color="#b1c3d2"/><stop offset="0.35" stop-color="#a9bbcb"/><stop offset="0.4" stop-color="#a2b4c5"/><stop offset="0.45" stop-color="#9cafc0"/><stop offset="0.5" stop-color="#96aabb"/><stop offset="0.55" stop-color="#8ea3b4"/><stop offset="0.6" stop-color="#869dae"/><stop offset="0.65" stop-color="#8198a9"/><stop offset="0.69" stop-color="#7c93a4"/><stop offset="0.74" stop-color="#788fa0"/><stop offset="0.79" stop-color="#778ea0"/><stop offset="0.84" stop-color="#778ea0"/><stop offset="0.89" stop-color="#778ea0"/><stop offset="0.94" stop-color="#768d9f"/><stop offset="0.99" stop-color="#758c9e"/><stop offset="1" stop-color="#758c9e"/></linearGradient><linearGradient id="g89" gradientUnits="userSpaceOnUse" x1="378" y1="0" x2="640" y2="0"><stop offset="0" stop-color="#c8d7e3"/><stop offset="0.05" stop-color="#c4d4e0"/><stop offset="0.1" stop-color="#c0d1dd"/><stop offset="0.15" stop-color="#bccedb"/><stop offset="0.2" stop-color="#baccd9"/><stop offset="0.25" stop-color="#b9cad8"/><stop offset="0.3" stop-color="#b3c5d4"/><stop offset="0.35" stop-color="#abbdce"/><stop offset="0.4" stop-color="#a4b7c7"/><stop offset="0.45" stop-color="#9eb1c2"/><stop offset="0.5" stop-color="#98adbd"/><stop offset="0.55" stop-color="#8fa5b6"/><stop offset="0.6" stop-color="#879daf"/><stop offset="0.65" stop-color="#8198aa"/><stop offset="0.69" stop-color="#7c93a5"/><stop offset="0.74" stop-color="#788fa1"/><stop offset="0.79" stop-color="#778ea0"/><stop offset="0.84" stop-color="#778ea0"/><stop offset="0.89" stop-color="#778ea0"/><stop offset="0.94" stop-color="#778ea0"/><stop offset="0.99" stop-color="#768d9f"/><stop offset="1" stop-color="#768d9e"/></linearGradient><linearGradient id="g90" gradientUnits="userSpaceOnUse" x1="378" y1="0" x2="640" y2="0"><stop offset="0" stop-color="#cad9e5"/><stop offset="0.05" stop-color="#c6d5e2"/><stop offset="0.1" stop-color="#c1d2df"/><stop offset="0.15" stop-color="#becfdc"/><stop offset="0.2" stop-color="#bccedb"/><stop offset="0.25" stop-color="#bbccda"/><stop offset="0.3" stop-color="#b6c7d7"/><stop offset="0.35" stop-color="#adbfd0"/><stop offset="0.4" stop-color="#a6b9ca"/><stop offset="0.45" stop-color="#9fb3c4"/><stop offset="0.5" stop-color="#9aafbf"/><stop offset="0.55" stop-color="#90a6b7"/><stop offset="0.6" stop-color="#879eb0"/><stop offset="0.65" stop-color="#8198aa"/><stop offset="0.69" stop-color="#7c93a5"/><stop offset="0.74" stop-color="#788fa1"/><stop offset="0.79" stop-color="#778ea0"/><stop offset="0.84" stop-color="#778ea0"/><stop offset="0.89" stop-color="#778fa0"/><stop offset="0.94" stop-color="#778ea0"/><stop offset="0.99" stop-color="#778d9f"/><stop offset="1" stop-color="#768d9f"/></linearGradient><linearGradient id="g91" gradientUnits="userSpaceOnUse" x1="378" y1="0" x2="640" y2="0"><stop offset="0" stop-color="#ccdae6"/><stop offset="0.05" stop-color="#c8d7e3"/><stop offset="0.1" stop-color="#c3d4e0"/><stop offset="0.15" stop-color="#c0d1de"/><stop offset="0.2" stop-color="#bfd0dd"/><stop offset="0.25" stop-color="#becfdc"/><stop offset="0.3" stop-color="#b9cad9"/><stop offset="0.35" stop-color="#afc1d2"/><stop offset="0.4" stop-color="#a8bbcc"/><stop offset="0.45" stop-color="#a1b5c6"/><stop offset="0.5" stop-color="#9cb1c1"/><stop offset="0.55" stop-color="#92a8b9"/><stop offset="0.6" stop-color="#889fb0"/><stop offset="0.65" stop-color="#8299ab"/><stop offset="0.69" stop-color="#7d94a5"/><stop offset="0.74" stop-color="#788fa1"/><stop offset="0.79" stop-color="#778ea0"/><stop offset="0.84" stop-color="#778fa0"/><stop offset="0.89" stop-color="#788fa1"/><stop offset="0.94" stop-color="#788fa0"/><stop offset="0.99" stop-color="#778ea0"/><stop offset="1" stop-color="#778e9f"/></linearGradient><linearGradient id="g92" gradientUnits="userSpaceOnUse" x1="378" y1="0" x2="640" y2="0"><stop offset="0" stop-color="#cedce7"/><stop offset="0.05" stop-color="#cad9e4"/><stop offset="0.1" stop-color="#c5d5e1"/><stop offset="0.15" stop-color="#c2d3df"/><stop offset="0.2" stop-color="#c1d2df"/><stop offset="0.25" stop-color="#c0d1de"/><stop offset="0.3" stop-color="#bbccdb"/><stop offset="0.35" stop-color="#b2c4d5"/><stop offset="0.4" stop-color="#abbdce"/><stop offset="0.45" stop-color="#a3b7c7"/><stop offset="0.5" stop-color="#9eb3c3"/><stop offset="0.55" stop-color="#93a9ba"/><stop offset="0.6" stop-color="#89a0b1"/><stop offset="0.65" stop-color="#8299ab"/><stop offset="0.69" stop-color="#7d94a6"/><stop offset="0.74" stop-color="#788fa1"/><stop offset="0.79" stop-color="#778ea0"/><stop offset="0.84" stop-color="#788fa1"/><stop offset="0.89" stop-color="#788fa1"/><stop offset="0.94" stop-color="#788fa1"/><stop offset="0.99" stop-color="#788ea0"/><stop offset="1" stop-color="#788ea0"/></linearGradient><linearGradient id="g93" gradientUnits="userSpaceOnUse" x1="378" y1="0" x2="640" y2="0"><stop offset="0" stop-color="#cfdde9"/><stop offset="0.05" stop-color="#ccdae6"/><stop offset="0.1" stop-color="#c7d7e3"/><stop offset="0.15" stop-color="#c4d4e1"/><stop offset="0.2" stop-color="#c3d4e0"/><stop offset="0.25" stop-color="#c3d4e0"/><stop offset="0.3" stop-color="#becfdd"/><stop offset="0.35" stop-color="#b5c6d7"/><stop offset="0.4" stop-color="#adc0d0"/><stop offset="0.45" stop-color="#a5b9c9"/><stop offset="0.5" stop-color="#9fb4c4"/><stop offset="0.55" stop-color="#94aabb"/><stop offset="0.6" stop-color="#89a1b2"/><stop offset="0.65" stop-color="#839aac"/><stop offset="0.69" stop-color="#7d94a7"/><stop offset="0.74" stop-color="#7990a2"/><stop offset="0.79" stop-color="#778ea0"/><stop offset="0.84" stop-color="#788fa1"/><stop offset="0.89" stop-color="#7990a1"/><stop offset="0.94" stop-color="#7990a1"/><stop offset="0.99" stop-color="#788fa1"/><stop offset="1" stop-color="#788fa0"/></linearGradient><linearGradient id="g94" gradientUnits="userSpaceOnUse" x1="378" y1="0" x2="640" y2="0"><stop offset="0" stop-color="#d1dfea"/><stop offset="0.05" stop-color="#cddce7"/><stop offset="0.1" stop-color="#c9d8e4"/><stop offset="0.15" stop-color="#c6d6e2"/><stop offset="0.2" stop-color="#c5d6e2"/><stop offset="0.25" stop-color="#c6d6e3"/><stop offset="0.3" stop-color="#c1d2e0"/><stop offset="0.35" stop-color="#b7c9d9"/><stop offset="0.4" stop-color="#b0c2d3"/><stop offset="0.45" stop-color="#a7bacb"/><stop offset="0.5" stop-color="#a0b5c6"/><stop offset="0.55" stop-color="#95acbc"/><stop offset="0.6" stop-color="#8aa1b3"/><stop offset="0.65" stop-color="#839aad"/><stop offset="0.69" stop-color="#7e95a7"/><stop offset="0.74" stop-color="#7a91a3"/><stop offset="0.79" stop-color="#788fa1"/><stop offset="0.84" stop-color="#7990a1"/><stop offset="0.89" stop-color="#7990a2"/><stop offset="0.94" stop-color="#7990a2"/><stop offset="0.99" stop-color="#7990a1"/><stop offset="1" stop-color="#7990a1"/></linearGradient><linearGradient id="g95" gradientUnits="userSpaceOnUse" x1="378" y1="0" x2="640" y2="0"><stop offset="0" stop-color="#d3e0eb"/><stop offset="0.05" stop-color="#cfdde9"/><stop offset="0.1" stop-color="#cadae5"/><stop offset="0.15" stop-color="#c7d7e4"/><stop offset="0.2" stop-color="#c7d8e4"/><stop offset="0.25" stop-color="#c8d9e5"/><stop offset="0.3" stop-color="#c3d4e2"/><stop offset="0.35" stop-color="#baccdb"/><stop offset="0.4" stop-color="#b2c5d5"/><stop offset="0.45" stop-color="#a8bccd"/><stop offset="0.5" stop-color="#a1b6c7"/><stop offset="0.55" stop-color="#96adbe"/><stop offset="0.6" stop-color="#8ba2b4"/><stop offset="0.65" stop-color="#849bad"/><stop offset="0.69" stop-color="#7f96a8"/><stop offset="0.74" stop-color="#7a91a3"/><stop offset="0.79" stop-color="#798fa1"/><stop offset="0.84" stop-color="#7990a2"/><stop offset="0.89" stop-color="#7a91a2"/><stop offset="0.94" stop-color="#7a91a2"/><stop offset="0.99" stop-color="#7a90a2"/><stop offset="1" stop-color="#7990a2"/></linearGradient><linearGradient id="g96" gradientUnits="userSpaceOnUse" x1="378" y1="0" x2="640" y2="0"><stop offset="0" stop-color="#d5e1ec"/><stop offset="0.05" stop-color="#d1deea"/><stop offset="0.1" stop-color="#ccdbe7"/><stop offset="0.15" stop-color="#c9d9e5"/><stop offset="0.2" stop-color="#c9dae5"/><stop offset="0.25" stop-color="#cadbe7"/><stop offset="0.3" stop-color="#c6d7e4"/><stop offset="0.35" stop-color="#bdcede"/><stop offset="0.4" stop-color="#b5c7d7"/><stop offset="0.45" stop-color="#aabecf"/><stop offset="0.5" stop-color="#a3b7c8"/><stop offset="0.55" stop-color="#98aebf"/><stop offset="0.6" stop-color="#8ca3b5"/><stop offset="0.65" stop-color="#859cae"/><stop offset="0.69" stop-color="#8096a9"/><stop offset="0.74" stop-color="#7b92a4"/><stop offset="0.79" stop-color="#7990a2"/><stop offset="0.84" stop-color="#7a91a2"/><stop offset="0.89" stop-color="#7a91a3"/><stop offset="0.94" stop-color="#7b91a3"/><stop offset="0.99" stop-color="#7a91a2"/><stop offset="1" stop-color="#7a91a2"/></linearGradient><linearGradient id="g97" gradientUnits="userSpaceOnUse" x1="378" y1="0" x2="640" y2="0"><stop offset="0" stop-color="#d6e3ee"/><stop offset="0.05" stop-color="#d2e0eb"/><stop offset="0.1" stop-color="#cedde8"/><stop offset="0.15" stop-color="#cbdae6"/><stop offset="0.2" stop-color="#cbdbe7"/><stop offset="0.25" stop-color="#cddde8"/><stop offset="0.3" stop-color="#c9d9e6"/><stop offset="0.35" stop-color="#c0d1e0"/><stop offset="0.4" stop-color="#b8cada"/><stop offset="0.45" stop-color="#acc0d0"/><stop offset="0.5" stop-color="#a4b9c9"/><stop offset="0.55" stop-color="#99afc0"/><stop offset="0.6" stop-color="#8da4b6"/><stop offset="0.65" stop-color="#869daf"/><stop offset="0.69" stop-color="#8097aa"/><stop offset="0.74" stop-color="#7c93a5"/><stop offset="0.79" stop-color="#7a91a3"/><stop offset="0.84" stop-color="#7a91a3"/><stop offset="0.89" stop-color="#7b92a3"/><stop offset="0.94" stop-color="#7b92a3"/><stop offset="0.99" stop-color="#7b91a3"/><stop offset="1" stop-color="#7b91a3"/></linearGradient><linearGradient id="g98" gradientUnits="userSpaceOnUse" x1="378" y1="0" x2="640" y2="0"><stop offset="0" stop-color="#d8e4ef"/><stop offset="0.05" stop-color="#d4e1ec"/><stop offset="0.1" stop-color="#d0dee9"/><stop offset="0.15" stop-color="#cddce8"/><stop offset="0.2" stop-color="#cddde8"/><stop offset="0.25" stop-color="#cfdfea"/><stop offset="0.3" stop-color="#cbdbe8"/><stop offset="0.35" stop-color="#c3d4e2"/><stop offset="0.4" stop-color="#bbcddc"/><stop offset="0.45" stop-color="#aec1d2"/><stop offset="0.5" stop-color="#a5bacb"/><stop offset="0.55" stop-color="#9ab0c2"/><stop offset="0.6" stop-color="#8ea5b7"/><stop offset="0.65" stop-color="#879eb0"/><stop offset="0.69" stop-color="#8198ab"/><stop offset="0.74" stop-color="#7d94a6"/><stop offset="0.79" stop-color="#7b92a4"/><stop offset="0.84" stop-color="#7b92a4"/><stop offset="0.89" stop-color="#7c92a4"/><stop offset="0.94" stop-color="#7c92a4"/><stop offset="0.99" stop-color="#7c92a4"/><stop offset="1" stop-color="#7c92a3"/></linearGradient><linearGradient id="g99" gradientUnits="userSpaceOnUse" x1="378" y1="0" x2="640" y2="0"><stop offset="0" stop-color="#d9e5f0"/><stop offset="0.05" stop-color="#d5e3ed"/><stop offset="0.1" stop-color="#d1dfeb"/><stop offset="0.15" stop-color="#cedde9"/><stop offset="0.2" stop-color="#cfdeea"/><stop offset="0.25" stop-color="#d1e0eb"/><stop offset="0.3" stop-color="#cddde9"/><stop offset="0.35" stop-color="#c5d6e4"/><stop offset="0.4" stop-color="#becfde"/><stop offset="0.45" stop-color="#b0c3d4"/><stop offset="0.5" stop-color="#a7bbcc"/><stop offset="0.55" stop-color="#9cb2c3"/><stop offset="0.6" stop-color="#8fa6b9"/><stop offset="0.65" stop-color="#889fb2"/><stop offset="0.69" stop-color="#8399ac"/><stop offset="0.74" stop-color="#7e95a7"/><stop offset="0.79" stop-color="#7c93a5"/><stop offset="0.84" stop-color="#7c93a4"/><stop offset="0.89" stop-color="#7c93a5"/><stop offset="0.94" stop-color="#7d93a5"/><stop offset="0.99" stop-color="#7c93a4"/><stop offset="1" stop-color="#7c93a4"/></linearGradient><linearGradient id="g100" gradientUnits="userSpaceOnUse" x1="378" y1="0" x2="640" y2="0"><stop offset="0" stop-color="#dbe7f1"/><stop offset="0.05" stop-color="#d7e4ef"/><stop offset="0.1" stop-color="#d3e1ec"/><stop offset="0.15" stop-color="#d0dfea"/><stop offset="0.2" stop-color="#d0e0eb"/><stop offset="0.25" stop-color="#d2e2ed"/><stop offset="0.3" stop-color="#cedeea"/><stop offset="0.35" stop-color="#c8d8e6"/><stop offset="0.4" stop-color="#c1d2e1"/><stop offset="0.45" stop-color="#b2c6d6"/><stop offset="0.5" stop-color="#a9bdce"/><stop offset="0.55" stop-color="#9eb4c5"/><stop offset="0.6" stop-color="#91a8ba"/><stop offset="0.65" stop-color="#8aa0b3"/><stop offset="0.69" stop-color="#849aad"/><stop offset="0.74" stop-color="#7f96a8"/><stop offset="0.79" stop-color="#7d94a6"/><stop offset="0.84" stop-color="#7d93a5"/><stop offset="0.89" stop-color="#7d94a5"/><stop offset="0.94" stop-color="#7d94a5"/><stop offset="0.99" stop-color="#7d94a5"/><stop offset="1" stop-color="#7d93a5"/></linearGradient><linearGradient id="g101" gradientUnits="userSpaceOnUse" x1="378" y1="0" x2="640" y2="0"><stop offset="0" stop-color="#dce8f2"/><stop offset="0.05" stop-color="#d8e5f0"/><stop offset="0.1" stop-color="#d4e2ed"/><stop offset="0.15" stop-color="#d2e0eb"/><stop offset="0.2" stop-color="#d2e1ec"/><stop offset="0.25" stop-color="#d3e3ee"/><stop offset="0.3" stop-color="#d0e0eb"/><stop offset="0.35" stop-color="#cadae7"/><stop offset="0.4" stop-color="#c3d4e3"/><stop offset="0.45" stop-color="#b5c8d8"/><stop offset="0.5" stop-color="#abbfd0"/><stop offset="0.55" stop-color="#a0b5c6"/><stop offset="0.6" stop-color="#93aabc"/><stop offset="0.65" stop-color="#8ba2b4"/><stop offset="0.69" stop-color="#859cae"/><stop offset="0.74" stop-color="#8197a9"/><stop offset="0.79" stop-color="#7e95a7"/><stop offset="0.84" stop-color="#7e94a6"/><stop offset="0.89" stop-color="#7e94a6"/><stop offset="0.94" stop-color="#7e95a6"/><stop offset="0.99" stop-color="#7e94a6"/><stop offset="1" stop-color="#7e94a5"/></linearGradient><linearGradient id="g102" gradientUnits="userSpaceOnUse" x1="378" y1="0" x2="640" y2="0"><stop offset="0" stop-color="#dee9f3"/><stop offset="0.05" stop-color="#dae6f1"/><stop offset="0.1" stop-color="#d6e4ee"/><stop offset="0.15" stop-color="#d3e2ed"/><stop offset="0.2" stop-color="#d3e2ed"/><stop offset="0.25" stop-color="#d4e4ef"/><stop offset="0.3" stop-color="#d1e0ec"/><stop offset="0.35" stop-color="#cbdce9"/><stop offset="0.4" stop-color="#c6d6e5"/><stop offset="0.45" stop-color="#b8cada"/><stop offset="0.5" stop-color="#adc1d2"/><stop offset="0.55" stop-color="#a2b7c8"/><stop offset="0.6" stop-color="#95abbd"/><stop offset="0.65" stop-color="#8da3b6"/><stop offset="0.69" stop-color="#879daf"/><stop offset="0.74" stop-color="#8298aa"/><stop offset="0.79" stop-color="#7f96a8"/><stop offset="0.84" stop-color="#7f95a7"/><stop offset="0.89" stop-color="#7f95a7"/><stop offset="0.94" stop-color="#7f95a7"/><stop offset="0.99" stop-color="#7f95a6"/><stop offset="1" stop-color="#7f95a6"/></linearGradient><linearGradient id="g103" gradientUnits="userSpaceOnUse" x1="378" y1="0" x2="640" y2="0"><stop offset="0" stop-color="#dfebf5"/><stop offset="0.05" stop-color="#dbe8f2"/><stop offset="0.1" stop-color="#d8e5f0"/><stop offset="0.15" stop-color="#d5e3ee"/><stop offset="0.2" stop-color="#d5e4ee"/><stop offset="0.25" stop-color="#d5e5ef"/><stop offset="0.3" stop-color="#d1e1ed"/><stop offset="0.35" stop-color="#cdddea"/><stop offset="0.4" stop-color="#c8d9e7"/><stop offset="0.45" stop-color="#bbcddd"/><stop offset="0.5" stop-color="#b0c3d4"/><stop offset="0.55" stop-color="#a5b9ca"/><stop offset="0.6" stop-color="#97adbf"/><stop offset="0.65" stop-color="#8ea5b7"/><stop offset="0.69" stop-color="#889eb1"/><stop offset="0.74" stop-color="#839aac"/><stop offset="0.79" stop-color="#8197a9"/><stop offset="0.84" stop-color="#8096a8"/><stop offset="0.89" stop-color="#8096a8"/><stop offset="0.94" stop-color="#8096a7"/><stop offset="0.99" stop-color="#8096a7"/><stop offset="1" stop-color="#7f96a7"/></linearGradient><linearGradient id="g104" gradientUnits="userSpaceOnUse" x1="378" y1="0" x2="640" y2="0"><stop offset="0" stop-color="#e0ecf6"/><stop offset="0.05" stop-color="#dde9f3"/><stop offset="0.1" stop-color="#d9e6f1"/><stop offset="0.15" stop-color="#d6e4ef"/><stop offset="0.2" stop-color="#d6e5ef"/><stop offset="0.25" stop-color="#d6e5f0"/><stop offset="0.3" stop-color="#d2e1ed"/><stop offset="0.35" stop-color="#cedeec"/><stop offset="0.4" stop-color="#cadbe9"/><stop offset="0.45" stop-color="#bdcfdf"/><stop offset="0.5" stop-color="#b3c6d6"/><stop offset="0.55" stop-color="#a8bccc"/><stop offset="0.6" stop-color="#9aafc1"/><stop offset="0.65" stop-color="#90a6b9"/><stop offset="0.69" stop-color="#8aa0b2"/><stop offset="0.74" stop-color="#859bad"/><stop offset="0.79" stop-color="#8298aa"/><stop offset="0.84" stop-color="#8197a9"/><stop offset="0.89" stop-color="#8197a8"/><stop offset="0.94" stop-color="#8197a8"/><stop offset="0.99" stop-color="#8097a8"/><stop offset="1" stop-color="#8097a8"/></linearGradient><linearGradient id="g105" gradientUnits="userSpaceOnUse" x1="378" y1="0" x2="640" y2="0"><stop offset="0" stop-color="#e2edf7"/><stop offset="0.05" stop-color="#deeaf4"/><stop offset="0.1" stop-color="#dbe8f2"/><stop offset="0.15" stop-color="#d8e6f0"/><stop offset="0.2" stop-color="#d7e6f0"/><stop offset="0.25" stop-color="#d7e6f0"/><stop offset="0.3" stop-color="#d2e2ed"/><stop offset="0.35" stop-color="#cfdfed"/><stop offset="0.4" stop-color="#cdddeb"/><stop offset="0.45" stop-color="#c0d2e1"/><stop offset="0.5" stop-color="#b6c8d8"/><stop offset="0.55" stop-color="#aabecf"/><stop offset="0.6" stop-color="#9cb1c3"/><stop offset="0.65" stop-color="#92a8ba"/><stop offset="0.69" stop-color="#8ba1b3"/><stop offset="0.74" stop-color="#869cae"/><stop offset="0.79" stop-color="#8399ab"/><stop offset="0.84" stop-color="#8298aa"/><stop offset="0.89" stop-color="#8298a9"/><stop offset="0.94" stop-color="#8298a9"/><stop offset="0.99" stop-color="#8197a9"/><stop offset="1" stop-color="#8197a9"/></linearGradient><linearGradient id="g106" gradientUnits="userSpaceOnUse" x1="378" y1="0" x2="640" y2="0"><stop offset="0" stop-color="#e3eef8"/><stop offset="0.05" stop-color="#e0ecf5"/><stop offset="0.1" stop-color="#dce9f3"/><stop offset="0.15" stop-color="#d9e7f1"/><stop offset="0.2" stop-color="#d8e7f1"/><stop offset="0.25" stop-color="#d7e6f1"/><stop offset="0.3" stop-color="#d2e2ee"/><stop offset="0.35" stop-color="#d0e0ed"/><stop offset="0.4" stop-color="#cedeed"/><stop offset="0.45" stop-color="#c3d4e3"/><stop offset="0.5" stop-color="#b9cbda"/><stop offset="0.55" stop-color="#adc0d1"/><stop offset="0.6" stop-color="#9fb3c5"/><stop offset="0.65" stop-color="#94aabc"/><stop offset="0.69" stop-color="#8da3b5"/><stop offset="0.74" stop-color="#889eb0"/><stop offset="0.79" stop-color="#859bad"/><stop offset="0.84" stop-color="#8399ab"/><stop offset="0.89" stop-color="#8399aa"/><stop offset="0.94" stop-color="#8399aa"/><stop offset="0.99" stop-color="#8298a9"/><stop offset="1" stop-color="#8298a9"/></linearGradient><linearGradient id="g107" gradientUnits="userSpaceOnUse" x1="378" y1="0" x2="640" y2="0"><stop offset="0" stop-color="#e4f0f9"/><stop offset="0.05" stop-color="#e1edf7"/><stop offset="0.1" stop-color="#ddeaf4"/><stop offset="0.15" stop-color="#dbe8f2"/><stop offset="0.2" stop-color="#d9e8f2"/><stop offset="0.25" stop-color="#d8e7f1"/><stop offset="0.3" stop-color="#d3e2ee"/><stop offset="0.35" stop-color="#d1e1ee"/><stop offset="0.4" stop-color="#d0e0ee"/><stop offset="0.45" stop-color="#c5d6e4"/><stop offset="0.5" stop-color="#bccddc"/><stop offset="0.55" stop-color="#afc2d3"/><stop offset="0.6" stop-color="#a1b6c7"/><stop offset="0.65" stop-color="#96acbe"/><stop offset="0.69" stop-color="#8fa4b6"/><stop offset="0.74" stop-color="#899fb1"/><stop offset="0.79" stop-color="#869cae"/><stop offset="0.84" stop-color="#859bac"/><stop offset="0.89" stop-color="#849aab"/><stop offset="0.94" stop-color="#849aab"/><stop offset="0.99" stop-color="#8399aa"/><stop offset="1" stop-color="#8399aa"/></linearGradient><linearGradient id="g108" gradientUnits="userSpaceOnUse" x1="378" y1="0" x2="640" y2="0"><stop offset="0" stop-color="#e6f1fb"/><stop offset="0.05" stop-color="#e2eef8"/><stop offset="0.1" stop-color="#dfebf5"/><stop offset="0.15" stop-color="#dce9f4"/><stop offset="0.2" stop-color="#dae9f3"/><stop offset="0.25" stop-color="#d8e7f2"/><stop offset="0.3" stop-color="#d3e3ee"/><stop offset="0.35" stop-color="#d2e2ef"/><stop offset="0.4" stop-color="#d1e1ef"/><stop offset="0.45" stop-color="#c8d8e6"/><stop offset="0.5" stop-color="#becfde"/><stop offset="0.55" stop-color="#b2c4d5"/><stop offset="0.6" stop-color="#a3b8c9"/><stop offset="0.65" stop-color="#98aebf"/><stop offset="0.69" stop-color="#91a6b8"/><stop offset="0.74" stop-color="#8ba1b3"/><stop offset="0.79" stop-color="#889daf"/><stop offset="0.84" stop-color="#869cad"/><stop offset="0.89" stop-color="#859bac"/><stop offset="0.94" stop-color="#859bac"/><stop offset="0.99" stop-color="#849aab"/><stop offset="1" stop-color="#849aab"/></linearGradient><linearGradient id="g109" gradientUnits="userSpaceOnUse" x1="378" y1="0" x2="640" y2="0"><stop offset="0" stop-color="#e7f2fc"/><stop offset="0.05" stop-color="#e4eff9"/><stop offset="0.1" stop-color="#e0edf6"/><stop offset="0.15" stop-color="#ddebf5"/><stop offset="0.2" stop-color="#dbe9f4"/><stop offset="0.25" stop-color="#d9e8f2"/><stop offset="0.3" stop-color="#d4e3ef"/><stop offset="0.35" stop-color="#d3e2ef"/><stop offset="0.4" stop-color="#d2e2f0"/><stop offset="0.45" stop-color="#cadae8"/><stop offset="0.5" stop-color="#c0d1df"/><stop offset="0.55" stop-color="#b4c6d6"/><stop offset="0.6" stop-color="#a6bacb"/><stop offset="0.65" stop-color="#9bafc1"/><stop offset="0.69" stop-color="#92a8ba"/><stop offset="0.74" stop-color="#8da2b4"/><stop offset="0.79" stop-color="#899fb0"/><stop offset="0.84" stop-color="#879dae"/><stop offset="0.89" stop-color="#869cad"/><stop offset="0.94" stop-color="#869cad"/><stop offset="0.99" stop-color="#859bac"/><stop offset="1" stop-color="#859bac"/></linearGradient><linearGradient id="g110" gradientUnits="userSpaceOnUse" x1="378" y1="0" x2="640" y2="0"><stop offset="0" stop-color="#e8f3fd"/><stop offset="0.05" stop-color="#e5f0fa"/><stop offset="0.1" stop-color="#e1eef8"/><stop offset="0.15" stop-color="#dfecf6"/><stop offset="0.2" stop-color="#dceaf4"/><stop offset="0.25" stop-color="#d9e8f3"/><stop offset="0.3" stop-color="#d5e4f0"/><stop offset="0.35" stop-color="#d3e3f0"/><stop offset="0.4" stop-color="#d3e2f0"/><stop offset="0.45" stop-color="#ccdbe9"/><stop offset="0.5" stop-color="#c3d3e1"/><stop offset="0.55" stop-color="#b7c8d8"/><stop offset="0.6" stop-color="#a8bccd"/><stop offset="0.65" stop-color="#9db1c3"/><stop offset="0.69" stop-color="#94a9bb"/><stop offset="0.74" stop-color="#8ea4b6"/><stop offset="0.79" stop-color="#8ba0b2"/><stop offset="0.84" stop-color="#889eb0"/><stop offset="0.89" stop-color="#879dae"/><stop offset="0.94" stop-color="#879dae"/><stop offset="0.99" stop-color="#869cad"/><stop offset="1" stop-color="#869cad"/></linearGradient><linearGradient id="g111" gradientUnits="userSpaceOnUse" x1="378" y1="0" x2="640" y2="0"><stop offset="0" stop-color="#e9f4fe"/><stop offset="0.05" stop-color="#e6f2fb"/><stop offset="0.1" stop-color="#e3eff9"/><stop offset="0.15" stop-color="#e0edf7"/><stop offset="0.2" stop-color="#ddebf5"/><stop offset="0.25" stop-color="#dae9f3"/><stop offset="0.3" stop-color="#d5e5f0"/><stop offset="0.35" stop-color="#d4e3f0"/><stop offset="0.4" stop-color="#d3e3f0"/><stop offset="0.45" stop-color="#cdddea"/><stop offset="0.5" stop-color="#c5d4e2"/><stop offset="0.55" stop-color="#b9cad9"/><stop offset="0.6" stop-color="#aabdce"/><stop offset="0.65" stop-color="#9fb3c5"/><stop offset="0.69" stop-color="#96abbd"/><stop offset="0.74" stop-color="#90a5b7"/><stop offset="0.79" stop-color="#8ca2b3"/><stop offset="0.84" stop-color="#8a9fb1"/><stop offset="0.89" stop-color="#899eb0"/><stop offset="0.94" stop-color="#889eaf"/><stop offset="0.99" stop-color="#879dae"/><stop offset="1" stop-color="#879dae"/></linearGradient><linearGradient id="g112" gradientUnits="userSpaceOnUse" x1="378" y1="0" x2="640" y2="0"><stop offset="0" stop-color="#ebf6ff"/><stop offset="0.05" stop-color="#e7f3fd"/><stop offset="0.1" stop-color="#e4f0fa"/><stop offset="0.15" stop-color="#e1eef8"/><stop offset="0.2" stop-color="#deecf6"/><stop offset="0.25" stop-color="#dbe9f4"/><stop offset="0.3" stop-color="#d6e5f1"/><stop offset="0.35" stop-color="#d4e4f1"/><stop offset="0.4" stop-color="#d4e3f0"/><stop offset="0.45" stop-color="#cfdeeb"/><stop offset="0.5" stop-color="#c7d6e4"/><stop offset="0.55" stop-color="#bbcbdb"/><stop offset="0.6" stop-color="#acbfd0"/><stop offset="0.65" stop-color="#a1b5c6"/><stop offset="0.69" stop-color="#98adbe"/><stop offset="0.74" stop-color="#92a7b9"/><stop offset="0.79" stop-color="#8ea3b5"/><stop offset="0.84" stop-color="#8ba1b2"/><stop offset="0.89" stop-color="#8a9fb1"/><stop offset="0.94" stop-color="#899fb0"/><stop offset="0.99" stop-color="#889eaf"/><stop offset="1" stop-color="#889eaf"/></linearGradient><linearGradient id="g113" gradientUnits="userSpaceOnUse" x1="378" y1="0" x2="640" y2="0"><stop offset="0" stop-color="#ecf7ff"/><stop offset="0.05" stop-color="#e9f4fe"/><stop offset="0.1" stop-color="#e5f1fb"/><stop offset="0.15" stop-color="#e2eff9"/><stop offset="0.2" stop-color="#dfedf7"/><stop offset="0.25" stop-color="#dceaf4"/><stop offset="0.3" stop-color="#d7e6f2"/><stop offset="0.35" stop-color="#d5e4f1"/><stop offset="0.4" stop-color="#d4e3f0"/><stop offset="0.45" stop-color="#d1dfec"/><stop offset="0.5" stop-color="#c8d7e5"/><stop offset="0.55" stop-color="#bdcddc"/><stop offset="0.6" stop-color="#aec1d2"/><stop offset="0.65" stop-color="#a3b7c8"/><stop offset="0.69" stop-color="#9aafc0"/><stop offset="0.74" stop-color="#94a9ba"/><stop offset="0.79" stop-color="#8fa5b6"/><stop offset="0.84" stop-color="#8da2b3"/><stop offset="0.89" stop-color="#8ba1b2"/><stop offset="0.94" stop-color="#8aa0b1"/><stop offset="0.99" stop-color="#899fb0"/><stop offset="1" stop-color="#899fb0"/></linearGradient><linearGradient id="g114" gradientUnits="userSpaceOnUse" x1="378" y1="0" x2="640" y2="0"><stop offset="0" stop-color="#edf8ff"/><stop offset="0.05" stop-color="#eaf5ff"/><stop offset="0.1" stop-color="#e6f2fc"/><stop offset="0.15" stop-color="#e3f0fa"/><stop offset="0.2" stop-color="#e0eef7"/><stop offset="0.25" stop-color="#dcebf5"/><stop offset="0.3" stop-color="#d8e7f2"/><stop offset="0.35" stop-color="#d5e5f1"/><stop offset="0.4" stop-color="#d4e3f0"/><stop offset="0.45" stop-color="#d2e0ed"/><stop offset="0.5" stop-color="#cad9e6"/><stop offset="0.55" stop-color="#becfdd"/><stop offset="0.6" stop-color="#b0c3d4"/><stop offset="0.65" stop-color="#a5b8ca"/><stop offset="0.69" stop-color="#9cb0c2"/><stop offset="0.74" stop-color="#95aabc"/><stop offset="0.79" stop-color="#91a6b7"/><stop offset="0.84" stop-color="#8ea3b5"/><stop offset="0.89" stop-color="#8ca2b3"/><stop offset="0.94" stop-color="#8ba1b2"/><stop offset="0.99" stop-color="#8aa0b1"/><stop offset="1" stop-color="#8aa0b1"/></linearGradient><linearGradient id="g115" gradientUnits="userSpaceOnUse" x1="378" y1="0" x2="640" y2="0"><stop offset="0" stop-color="#eef9ff"/><stop offset="0.05" stop-color="#ebf6ff"/><stop offset="0.1" stop-color="#e8f4fd"/><stop offset="0.15" stop-color="#e4f1fb"/><stop offset="0.2" stop-color="#e1eef8"/><stop offset="0.25" stop-color="#ddebf6"/><stop offset="0.3" stop-color="#d9e7f3"/><stop offset="0.35" stop-color="#d6e5f1"/><stop offset="0.4" stop-color="#d5e3f1"/><stop offset="0.45" stop-color="#d3e1ee"/><stop offset="0.5" stop-color="#ccdae7"/><stop offset="0.55" stop-color="#c0d0df"/><stop offset="0.6" stop-color="#b2c5d5"/><stop offset="0.65" stop-color="#a7bacb"/><stop offset="0.69" stop-color="#9eb2c3"/><stop offset="0.74" stop-color="#97acbd"/><stop offset="0.79" stop-color="#93a7b9"/><stop offset="0.84" stop-color="#90a5b6"/><stop offset="0.89" stop-color="#8ea3b4"/><stop offset="0.94" stop-color="#8da2b3"/><stop offset="0.99" stop-color="#8ca1b2"/><stop offset="1" stop-color="#8ba1b2"/></linearGradient><linearGradient id="g116" gradientUnits="userSpaceOnUse" x1="378" y1="0" x2="640" y2="0"><stop offset="0" stop-color="#f0faff"/><stop offset="0.05" stop-color="#ecf7ff"/><stop offset="0.1" stop-color="#e9f5fe"/><stop offset="0.15" stop-color="#e5f2fc"/><stop offset="0.2" stop-color="#e2eff9"/><stop offset="0.25" stop-color="#deecf6"/><stop offset="0.3" stop-color="#dae8f3"/><stop offset="0.35" stop-color="#d7e5f2"/><stop offset="0.4" stop-color="#d5e4f1"/><stop offset="0.45" stop-color="#d5e2ef"/><stop offset="0.5" stop-color="#cddbe9"/><stop offset="0.55" stop-color="#c2d1e0"/><stop offset="0.6" stop-color="#b5c6d6"/><stop offset="0.65" stop-color="#a9bccd"/><stop offset="0.69" stop-color="#a0b4c5"/><stop offset="0.74" stop-color="#99adbf"/><stop offset="0.79" stop-color="#94a9ba"/><stop offset="0.84" stop-color="#91a6b7"/><stop offset="0.89" stop-color="#8fa4b5"/><stop offset="0.94" stop-color="#8ea3b4"/><stop offset="0.99" stop-color="#8da2b3"/><stop offset="1" stop-color="#8da2b3"/></linearGradient><linearGradient id="g117" gradientUnits="userSpaceOnUse" x1="378" y1="0" x2="640" y2="0"><stop offset="0" stop-color="#f1fbff"/><stop offset="0.05" stop-color="#edf9ff"/><stop offset="0.1" stop-color="#eaf6ff"/><stop offset="0.15" stop-color="#e6f3fd"/><stop offset="0.2" stop-color="#e3f0fa"/><stop offset="0.25" stop-color="#dfedf7"/><stop offset="0.3" stop-color="#dbe9f4"/><stop offset="0.35" stop-color="#d7e6f2"/><stop offset="0.4" stop-color="#d6e4f1"/><stop offset="0.45" stop-color="#d6e3f0"/><stop offset="0.5" stop-color="#cedcea"/><stop offset="0.55" stop-color="#c3d3e1"/><stop offset="0.6" stop-color="#b6c8d8"/><stop offset="0.65" stop-color="#abbecf"/><stop offset="0.69" stop-color="#a2b5c7"/><stop offset="0.74" stop-color="#9bafc0"/><stop offset="0.79" stop-color="#96abbc"/><stop offset="0.84" stop-color="#93a8b9"/><stop offset="0.89" stop-color="#91a6b7"/><stop offset="0.94" stop-color="#8fa4b5"/><stop offset="0.99" stop-color="#8ea3b4"/><stop offset="1" stop-color="#8ea3b4"/></linearGradient><linearGradient id="g118" gradientUnits="userSpaceOnUse" x1="378" y1="0" x2="640" y2="0"><stop offset="0" stop-color="#f2fdff"/><stop offset="0.05" stop-color="#effaff"/><stop offset="0.1" stop-color="#ebf7ff"/><stop offset="0.15" stop-color="#e8f4fe"/><stop offset="0.2" stop-color="#e4f1fb"/><stop offset="0.25" stop-color="#e0eef8"/><stop offset="0.3" stop-color="#dbeaf5"/><stop offset="0.35" stop-color="#d8e7f3"/><stop offset="0.4" stop-color="#d6e5f1"/><stop offset="0.45" stop-color="#d7e4f0"/><stop offset="0.5" stop-color="#d0ddea"/><stop offset="0.55" stop-color="#c5d4e2"/><stop offset="0.6" stop-color="#b8c9d9"/><stop offset="0.65" stop-color="#adbfd0"/><stop offset="0.69" stop-color="#a4b7c8"/><stop offset="0.74" stop-color="#9db1c2"/><stop offset="0.79" stop-color="#98acbd"/><stop offset="0.84" stop-color="#94a9ba"/><stop offset="0.89" stop-color="#92a7b8"/><stop offset="0.94" stop-color="#90a5b6"/><stop offset="0.99" stop-color="#8fa4b5"/><stop offset="1" stop-color="#8fa4b5"/></linearGradient><linearGradient id="g119" gradientUnits="userSpaceOnUse" x1="378" y1="0" x2="640" y2="0"><stop offset="0" stop-color="#f3feff"/><stop offset="0.05" stop-color="#f0fbff"/><stop offset="0.1" stop-color="#ecf8ff"/><stop offset="0.15" stop-color="#e9f5ff"/><stop offset="0.2" stop-color="#e5f2fc"/><stop offset="0.25" stop-color="#e1eef9"/><stop offset="0.3" stop-color="#dceaf5"/><stop offset="0.35" stop-color="#d9e7f3"/><stop offset="0.4" stop-color="#d7e5f2"/><stop offset="0.45" stop-color="#d7e5f1"/><stop offset="0.5" stop-color="#d1deeb"/><stop offset="0.55" stop-color="#c6d5e3"/><stop offset="0.6" stop-color="#bacbda"/><stop offset="0.65" stop-color="#afc1d2"/><stop offset="0.69" stop-color="#a6b9ca"/><stop offset="0.74" stop-color="#9eb2c3"/><stop offset="0.79" stop-color="#99aebf"/><stop offset="0.84" stop-color="#96aabb"/><stop offset="0.89" stop-color="#93a8b9"/><stop offset="0.94" stop-color="#92a7b7"/><stop offset="0.99" stop-color="#90a6b6"/><stop offset="1" stop-color="#90a5b6"/></linearGradient><linearGradient id="g120" gradientUnits="userSpaceOnUse" x1="378" y1="0" x2="640" y2="0"><stop offset="0" stop-color="#f4ffff"/><stop offset="0.05" stop-color="#f1fcff"/><stop offset="0.1" stop-color="#edf9ff"/><stop offset="0.15" stop-color="#eaf6ff"/><stop offset="0.2" stop-color="#e6f3fd"/><stop offset="0.25" stop-color="#e2eff9"/><stop offset="0.3" stop-color="#ddebf6"/><stop offset="0.35" stop-color="#dae8f4"/><stop offset="0.4" stop-color="#d8e6f2"/><stop offset="0.45" stop-color="#d8e5f2"/><stop offset="0.5" stop-color="#d2dfec"/><stop offset="0.55" stop-color="#c8d6e4"/><stop offset="0.6" stop-color="#bcccdc"/><stop offset="0.65" stop-color="#b0c3d3"/><stop offset="0.69" stop-color="#a7bacb"/><stop offset="0.74" stop-color="#a0b4c5"/><stop offset="0.79" stop-color="#9bafc0"/><stop offset="0.84" stop-color="#97acbd"/><stop offset="0.89" stop-color="#95aaba"/><stop offset="0.94" stop-color="#93a8b9"/><stop offset="0.99" stop-color="#92a7b7"/><stop offset="1" stop-color="#91a7b7"/></linearGradient><linearGradient id="g121" gradientUnits="userSpaceOnUse" x1="378" y1="0" x2="640" y2="0"><stop offset="0" stop-color="#f6ffff"/><stop offset="0.05" stop-color="#f2fdff"/><stop offset="0.1" stop-color="#effaff"/><stop offset="0.15" stop-color="#ebf7ff"/><stop offset="0.2" stop-color="#e7f4fe"/><stop offset="0.25" stop-color="#e3f0fa"/><stop offset="0.3" stop-color="#deecf7"/><stop offset="0.35" stop-color="#dbe9f4"/><stop offset="0.4" stop-color="#d9e7f3"/><stop offset="0.45" stop-color="#d9e6f2"/><stop offset="0.5" stop-color="#d3e0ed"/><stop offset="0.55" stop-color="#c9d8e5"/><stop offset="0.6" stop-color="#becedd"/><stop offset="0.65" stop-color="#b2c4d5"/><stop offset="0.69" stop-color="#a9bccd"/><stop offset="0.74" stop-color="#a2b6c7"/><stop offset="0.79" stop-color="#9db1c2"/><stop offset="0.84" stop-color="#99adbe"/><stop offset="0.89" stop-color="#96abbc"/><stop offset="0.94" stop-color="#94a9ba"/><stop offset="0.99" stop-color="#93a8b8"/><stop offset="1" stop-color="#93a8b8"/></linearGradient><linearGradient id="g122" gradientUnits="userSpaceOnUse" x1="378" y1="0" x2="640" y2="0"><stop offset="0" stop-color="#f7ffff"/><stop offset="0.05" stop-color="#f3feff"/><stop offset="0.1" stop-color="#f0fbff"/><stop offset="0.15" stop-color="#ecf8ff"/><stop offset="0.2" stop-color="#e8f5ff"/><stop offset="0.25" stop-color="#e4f1fb"/><stop offset="0.3" stop-color="#e0edf8"/><stop offset="0.35" stop-color="#dceaf5"/><stop offset="0.4" stop-color="#dae8f4"/><stop offset="0.45" stop-color="#dae6f3"/><stop offset="0.5" stop-color="#d4e1ee"/><stop offset="0.55" stop-color="#cbd9e6"/><stop offset="0.6" stop-color="#bfcfde"/><stop offset="0.65" stop-color="#b4c6d6"/><stop offset="0.69" stop-color="#abbecf"/><stop offset="0.74" stop-color="#a4b7c8"/><stop offset="0.79" stop-color="#9eb2c3"/><stop offset="0.84" stop-color="#9aafc0"/><stop offset="0.89" stop-color="#98acbd"/><stop offset="0.94" stop-color="#96aabb"/><stop offset="0.99" stop-color="#94a9ba"/><stop offset="1" stop-color="#94a9b9"/></linearGradient><linearGradient id="g123" gradientUnits="userSpaceOnUse" x1="378" y1="0" x2="640" y2="0"><stop offset="0" stop-color="#f8ffff"/><stop offset="0.05" stop-color="#f5ffff"/><stop offset="0.1" stop-color="#f1fcff"/><stop offset="0.15" stop-color="#edf9ff"/><stop offset="0.2" stop-color="#e9f6ff"/><stop offset="0.25" stop-color="#e5f2fc"/><stop offset="0.3" stop-color="#e1eef9"/><stop offset="0.35" stop-color="#ddebf6"/><stop offset="0.4" stop-color="#dce9f5"/><stop offset="0.45" stop-color="#dbe7f3"/><stop offset="0.5" stop-color="#d5e2ee"/><stop offset="0.55" stop-color="#ccdae7"/><stop offset="0.6" stop-color="#c1d1df"/><stop offset="0.65" stop-color="#b6c7d8"/><stop offset="0.69" stop-color="#adbfd0"/><stop offset="0.74" stop-color="#a6b9ca"/><stop offset="0.79" stop-color="#a0b4c5"/><stop offset="0.84" stop-color="#9cb0c1"/><stop offset="0.89" stop-color="#99aebe"/><stop offset="0.94" stop-color="#97acbc"/><stop offset="0.99" stop-color="#95aabb"/><stop offset="1" stop-color="#95aabb"/></linearGradient><linearGradient id="g124" gradientUnits="userSpaceOnUse" x1="378" y1="0" x2="640" y2="0"><stop offset="0" stop-color="#f9ffff"/><stop offset="0.05" stop-color="#f6ffff"/><stop offset="0.1" stop-color="#f2fdff"/><stop offset="0.15" stop-color="#eefaff"/><stop offset="0.2" stop-color="#eaf7ff"/><stop offset="0.25" stop-color="#e6f3fd"/><stop offset="0.3" stop-color="#e2effa"/><stop offset="0.35" stop-color="#deecf7"/><stop offset="0.4" stop-color="#ddeaf5"/><stop offset="0.45" stop-color="#dbe8f4"/><stop offset="0.5" stop-color="#d6e3ef"/><stop offset="0.55" stop-color="#cddbe8"/><stop offset="0.6" stop-color="#c3d2e1"/><stop offset="0.65" stop-color="#b8c9d9"/><stop offset="0.69" stop-color="#afc1d2"/><stop offset="0.74" stop-color="#a7bacb"/><stop offset="0.79" stop-color="#a2b5c6"/><stop offset="0.84" stop-color="#9eb2c2"/><stop offset="0.89" stop-color="#9bafc0"/><stop offset="0.94" stop-color="#98adbe"/><stop offset="0.99" stop-color="#97abbc"/><stop offset="1" stop-color="#96abbc"/></linearGradient></defs>
<rect x="77.6" y="13.8" width="266.6" height="207.0" fill="#fff4d3"/>
<polygon points="77.6,13.8 161.6,13.8 139.4,220.8 77.6,220.8" fill="#edf1fb"/>
<polygon points="158.6,13.8 161.8,13.8 142.6,220.8 139.4,220.8" fill="#eef0ec"/>
<rect x="255.9" y="13.8" width="52.49999999999997" height="207.0" fill="#edcdac"/>
<rect x="308.4" y="13.8" width="35.80000000000001" height="207.0" fill="#ebd6d9"/>
<g clip-path="url(#pa)"><ellipse cx="262.4" cy="78.55" rx="92.6" ry="18.6" transform="rotate(-43.4 262.4 78.55)" fill="#ffffff" stroke="#9a9a9a" stroke-width="1.3" stroke-dasharray="1.3 1.3" /></g>
<ellipse cx="206.2" cy="107.6" rx="91" ry="12.9" transform="rotate(-43.4 206.2 107.6)" fill="#f2ee84" stroke="#f2bd00" stroke-width="1.3" stroke-dasharray="1.3 1.3" />
<ellipse cx="137" cy="108" rx="19" ry="65" transform="rotate(0 137 108)" fill="#e6ecd8" stroke="#4f6a2c" stroke-width="1.3" stroke-dasharray="1.3 1.3" />
<ellipse cx="140.25" cy="107" rx="65" ry="3.6" transform="rotate(-71.1 140.25 107)" fill="#c9d9f0" stroke="#243e6a" stroke-width="1.3" stroke-dasharray="1.3 1.3" />
<ellipse cx="149.5" cy="114.5" rx="15.5" ry="40.5" transform="rotate(0 149.5 114.5)" fill="#ecd6d8" stroke="#6a2a2a" stroke-width="1.3" stroke-dasharray="1.3 1.3" />
<ellipse cx="172" cy="142" rx="44.5" ry="9.5" transform="rotate(-42 172 142)" fill="#fbe3d5" stroke="#8a5526" stroke-width="1.3" stroke-dasharray="1.3 1.3" />
<ellipse cx="106.5" cy="174.3" rx="26.8" ry="4.1" transform="rotate(-84.5 106.5 174.3)" fill="#c9d8ef" stroke="#1f2d45" stroke-width="1.3" stroke-dasharray="1.3 1.3" />
<ellipse cx="93" cy="187.6" rx="6.5" ry="12" transform="rotate(8 93 187.6)" fill="#ddd8bc" stroke="#2a2a2a" stroke-width="1.3" stroke-dasharray="1.3 1.3" />
<ellipse cx="87.5" cy="202" rx="6.3" ry="6.8" transform="rotate(0 87.5 202)" fill="#fbfbfb" stroke="#9a9a9a" stroke-width="1.3" stroke-dasharray="1.3 1.3" />
<circle cx="139" cy="172.2" r="3.7" fill="#f6a81e"/>
<circle cx="199.8" cy="122.3" r="3.6" fill="#f6a81e"/>
<text x="79" y="24.14" font-size="9.25" fill="#5c8fd6" text-anchor="start" stroke="#5c8fd6" stroke-width="0.22">Current application</text>
<text x="172.1" y="24.14" font-size="9.25" fill="#e3863a" text-anchor="start" stroke="#e3863a" stroke-width="0.22">Under development</text>
<text x="277.6" y="24.12" font-size="9.2" fill="#c8333a" text-anchor="start" stroke="#c8333a" stroke-width="0.22">Under research</text>
<text x="87.5" y="73.52" font-size="8.35" fill="#6a8a3c" text-anchor="start" stroke="#6a8a3c" stroke-width="0.22">Li-ion polymer</text>
<text x="159.6" y="73.54" font-size="8.4" fill="#6b9fd8" text-anchor="start" stroke="#6b9fd8" stroke-width="0.22">Li-ion</text>
<text x="134" y="120.64" font-size="8.4" fill="#8a3a42" text-anchor="start" stroke="#8a3a42" stroke-width="0.22">Li-metal</text>
<text x="85" y="146.88" font-size="8.8" fill="#3a4656" text-anchor="start" stroke="#3a4656" stroke-width="0.12">Ni-metal</text>
<text x="79.8" y="170.34" font-size="8.1" fill="#3a3a3a" text-anchor="start" stroke="#3a3a3a" stroke-width="0.1">Ni-Cd</text>
<text x="47.4" y="194.91" font-size="8.3" fill="#a0a0a0" text-anchor="start" stroke="#a0a0a0" stroke-width="0.22">Pd-acid</text>
<text x="164.5" y="144.78" font-size="8.5" fill="#9a6244" text-anchor="start" stroke="#9a6244" stroke-width="0.22">Li-S</text>
<text x="211.7" y="66.86" font-size="8.45" fill="#e07a2a" text-anchor="start" stroke="#e07a2a" stroke-width="0.22">expected Li-S technology</text>
<text x="248.4" y="94.27" font-size="8.5" fill="#8a8a8a" text-anchor="start" stroke="#8a8a8a" stroke-width="0.22">Li-air</text>
<text x="198.8" y="132.32" font-size="8.35" fill="#b5733c" text-anchor="start" stroke="#b5733c" stroke-width="0.22">current Li-S research</text>
<text x="138.2" y="182.31" font-size="8.3" fill="#a06a3c" text-anchor="start" stroke="#a06a3c" stroke-width="0.22">earlier Li-S research</text>
<path d="M87,219.5 C185.4,221.9 329.8,190.7 337.2,137.5" fill="none" stroke="#4a7cc2" stroke-width="2.4" stroke-linecap="round"/>
<path d="M329.4,145.4 L337.4,135.9 L339.3,147.7" fill="none" stroke="#4a7cc2" stroke-width="2.4" stroke-linecap="round" stroke-linejoin="round"/>
<text x="79.8" y="217.25" font-size="9.3" fill="#4a80d0" text-anchor="start" stroke="#4a80d0" stroke-width="0.22">50 km</text>
<text x="102.2" y="211.06" font-size="9.3" fill="#5a8fd8" text-anchor="start" stroke="#5a8fd8" stroke-width="0.22">100 km</text>
<text x="130.6" y="204.85" font-size="9.3" fill="#5b93d5" text-anchor="start" stroke="#5b93d5" stroke-width="0.22">200 km</text>
<text x="181.7" y="199.65" font-size="9.0" fill="#e8902a" text-anchor="start" stroke="#e8902a" stroke-width="0.22">400 km</text>
<text x="244.9" y="189.75" font-size="9.0" fill="#b53030" text-anchor="start" stroke="#b53030" stroke-width="0.22">600 km</text>
<text x="258.3" y="208.5" font-size="11.15" fill="#38599a" text-anchor="start" stroke="#38599a" stroke-width="0.22">Driving Distance</text>
<g transform="translate(293.5 155.8) rotate(-31.9)">
<rect x="24" y="-2.4" width="3.6" height="4.6" fill="#fff" stroke="#111" stroke-width="0.9"/>
<rect x="-24.25" y="-11.15" width="48.5" height="22.3" rx="1.5" fill="#fff" stroke="#111" stroke-width="1.1"/>
<rect x="-21.5" y="-9" width="13.6" height="18.5" fill="#e0e6f6"/>
<rect x="-7.9" y="-9" width="13.6" height="18.5" fill="#fcefc2"/>
<rect x="5.7" y="-9" width="13.6" height="18.5" fill="#e3bdc3"/>
<circle cx="-15" cy="12.1" r="6.8" fill="#111"/>
<circle cx="-15" cy="12.1" r="7.0" fill="none" stroke="#111" stroke-width="1.3" stroke-dasharray="1.3 0.9"/>
<circle cx="-15" cy="12.1" r="3.7" fill="#f4f4f4"/>
<circle cx="12.3" cy="11.9" r="6.8" fill="#111"/>
<circle cx="12.3" cy="11.9" r="7.0" fill="none" stroke="#111" stroke-width="1.3" stroke-dasharray="1.3 0.9"/>
<circle cx="12.3" cy="11.9" r="3.7" fill="#f4f4f4"/>
</g>
<rect x="77.6" y="13.8" width="266.6" height="207" fill="none" stroke="#222" stroke-width="1.2"/>
<line x1="74.2" y1="13.9" x2="77.6" y2="13.9" stroke="#1a1a1a" stroke-width="1.2"/>
<line x1="74.2" y1="61.5" x2="77.6" y2="61.5" stroke="#1a1a1a" stroke-width="1.2"/>
<line x1="74.2" y1="116.9" x2="77.6" y2="116.9" stroke="#1a1a1a" stroke-width="1.2"/>
<line x1="74.2" y1="171.9" x2="77.6" y2="171.9" stroke="#1a1a1a" stroke-width="1.2"/>
<line x1="74.2" y1="220.6" x2="77.6" y2="220.6" stroke="#1a1a1a" stroke-width="1.2"/>
<line x1="77.8" y1="220.8" x2="77.8" y2="224.4" stroke="#1a1a1a" stroke-width="1.2"/>
<line x1="144.6" y1="220.8" x2="144.6" y2="224.4" stroke="#1a1a1a" stroke-width="1.2"/>
<line x1="211" y1="220.8" x2="211" y2="224.4" stroke="#1a1a1a" stroke-width="1.2"/>
<line x1="277.6" y1="220.8" x2="277.6" y2="224.4" stroke="#1a1a1a" stroke-width="1.2"/>
<line x1="344.2" y1="220.8" x2="344.2" y2="224.4" stroke="#1a1a1a" stroke-width="1.2"/>
<text x="66.7" y="18.88" font-size="12.5" fill="#222" text-anchor="end" >800</text>
<text x="66.7" y="66.17" font-size="12.5" fill="#222" text-anchor="end" >600</text>
<text x="66.7" y="121.88" font-size="12.5" fill="#222" text-anchor="end" >400</text>
<text x="66.7" y="176.97" font-size="12.5" fill="#222" text-anchor="end" >200</text>
<text x="69.6" y="225.18" font-size="12.5" fill="#222" text-anchor="end" >0</text>
<text x="77.8" y="243.18" font-size="12.5" fill="#222" text-anchor="middle" >0</text>
<text x="144.6" y="243.18" font-size="12.5" fill="#222" text-anchor="middle" >200</text>
<text x="211" y="243.18" font-size="12.5" fill="#222" text-anchor="middle" >400</text>
<text x="277.6" y="243.18" font-size="12.5" fill="#222" text-anchor="middle" >600</text>
<text x="344.2" y="243.18" font-size="12.5" fill="#222" text-anchor="middle" >800</text>
<text x="101.4" y="257.85" font-size="13" fill="#222" text-anchor="start" >Gravimetric Energy Density (Wh Kg<tspan dy="-4.5" font-size="8.5">-1</tspan><tspan dy="4.5">)</tspan></text>
<text transform="translate(36.3 223.7) rotate(-90)" font-size="13.6" fill="#222">Volumetric Energy Density (Wh L<tspan dy="-4.5" font-size="9">-1</tspan><tspan dy="4.5">)</tspan></text>
<text x="2.5" y="22.3" font-size="14.3" fill="#111" style="font-family:'Liberation Serif',serif">(a)</text>
<line x1="384.68" y1="187.03" x2="378.28" y2="18.29" stroke="#dcdcdc" stroke-width="0.6"/>
<line x1="413.23" y1="179.35" x2="408.6" y2="14.88" stroke="#dcdcdc" stroke-width="0.6"/>
<line x1="440.31" y1="172.07" x2="437.29" y2="11.65" stroke="#dcdcdc" stroke-width="0.6"/>
<line x1="466.04" y1="165.16" x2="464.46" y2="8.59" stroke="#dcdcdc" stroke-width="0.6"/>
<line x1="490.52" y1="158.58" x2="490.24" y2="5.68" stroke="#dcdcdc" stroke-width="0.6"/>
<line x1="513.83" y1="152.31" x2="514.73" y2="2.92" stroke="#dcdcdc" stroke-width="0.6"/>
<line x1="384.68" y1="187.03" x2="513.83" y2="152.31" stroke="#dcdcdc" stroke-width="0.6"/>
<line x1="383.66" y1="160.19" x2="513.97" y2="128.42" stroke="#dcdcdc" stroke-width="0.6"/>
<line x1="382.63" y1="132.86" x2="514.12" y2="104.14" stroke="#dcdcdc" stroke-width="0.6"/>
<line x1="381.57" y1="105.02" x2="514.27" y2="79.45" stroke="#dcdcdc" stroke-width="0.6"/>
<line x1="380.49" y1="76.66" x2="514.42" y2="54.37" stroke="#dcdcdc" stroke-width="0.6"/>
<line x1="379.4" y1="47.75" x2="514.58" y2="28.86" stroke="#dcdcdc" stroke-width="0.6"/>
<line x1="378.28" y1="18.29" x2="514.73" y2="2.92" stroke="#dcdcdc" stroke-width="0.6"/>
<line x1="513.83" y1="152.31" x2="514.73" y2="2.92" stroke="#dcdcdc" stroke-width="0.6"/>
<line x1="532.07" y1="159.35" x2="533.94" y2="6.09" stroke="#dcdcdc" stroke-width="0.6"/>
<line x1="551.32" y1="166.77" x2="554.27" y2="9.45" stroke="#dcdcdc" stroke-width="0.6"/>
<line x1="571.66" y1="174.61" x2="575.82" y2="13" stroke="#dcdcdc" stroke-width="0.6"/>
<line x1="593.19" y1="182.92" x2="598.7" y2="16.77" stroke="#dcdcdc" stroke-width="0.6"/>
<line x1="616.03" y1="191.72" x2="623.05" y2="20.79" stroke="#dcdcdc" stroke-width="0.6"/>
<line x1="627.97" y1="196.33" x2="635.81" y2="22.89" stroke="#dcdcdc" stroke-width="0.6"/>
<line x1="513.83" y1="152.31" x2="627.97" y2="196.33" stroke="#dcdcdc" stroke-width="0.6"/>
<line x1="513.97" y1="128.42" x2="629.22" y2="168.79" stroke="#dcdcdc" stroke-width="0.6"/>
<line x1="514.12" y1="104.14" x2="630.49" y2="140.72" stroke="#dcdcdc" stroke-width="0.6"/>
<line x1="514.27" y1="79.45" x2="631.78" y2="112.11" stroke="#dcdcdc" stroke-width="0.6"/>
<line x1="514.42" y1="54.37" x2="633.1" y2="82.95" stroke="#dcdcdc" stroke-width="0.6"/>
<line x1="514.58" y1="28.86" x2="634.44" y2="53.21" stroke="#dcdcdc" stroke-width="0.6"/>
<line x1="514.73" y1="2.92" x2="635.81" y2="22.89" stroke="#dcdcdc" stroke-width="0.6"/>
<line x1="384.68" y1="187.03" x2="513.83" y2="152.31" stroke="#dcdcdc" stroke-width="0.6"/>
<line x1="401.5" y1="196.1" x2="532.07" y2="159.35" stroke="#dcdcdc" stroke-width="0.6"/>
<line x1="419.38" y1="205.76" x2="551.32" y2="166.77" stroke="#dcdcdc" stroke-width="0.6"/>
<line x1="438.43" y1="216.04" x2="571.66" y2="174.61" stroke="#dcdcdc" stroke-width="0.6"/>
<line x1="458.77" y1="227.02" x2="593.19" y2="182.92" stroke="#dcdcdc" stroke-width="0.6"/>
<line x1="480.53" y1="238.76" x2="616.03" y2="191.72" stroke="#dcdcdc" stroke-width="0.6"/>
<line x1="384.68" y1="187.03" x2="491.99" y2="244.95" stroke="#dcdcdc" stroke-width="0.6"/>
<line x1="413.23" y1="179.35" x2="522.59" y2="234.01" stroke="#dcdcdc" stroke-width="0.6"/>
<line x1="440.31" y1="172.07" x2="551.34" y2="223.73" stroke="#dcdcdc" stroke-width="0.6"/>
<line x1="466.04" y1="165.16" x2="578.39" y2="214.06" stroke="#dcdcdc" stroke-width="0.6"/>
<line x1="490.52" y1="158.58" x2="603.89" y2="204.94" stroke="#dcdcdc" stroke-width="0.6"/>
<g clip-path="url(#sc)"><rect x="378" y="0" width="262" height="3" fill="url(#g0)"/><rect x="378" y="2" width="262" height="3" fill="url(#g1)"/><rect x="378" y="4" width="262" height="3" fill="url(#g2)"/><rect x="378" y="6" width="262" height="3" fill="url(#g3)"/><rect x="378" y="8" width="262" height="3" fill="url(#g4)"/><rect x="378" y="10" width="262" height="3" fill="url(#g5)"/><rect x="378" y="12" width="262" height="3" fill="url(#g6)"/><rect x="378" y="14" width="262" height="3" fill="url(#g7)"/><rect x="378" y="16" width="262" height="3" fill="url(#g8)"/><rect x="378" y="18" width="262" height="3" fill="url(#g9)"/><rect x="378" y="20" width="262" height="3" fill="url(#g10)"/><rect x="378" y="22" width="262" height="3" fill="url(#g11)"/><rect x="378" y="24" width="262" height="3" fill="url(#g12)"/><rect x="378" y="26" width="262" height="3" fill="url(#g13)"/><rect x="378" y="28" width="262" height="3" fill="url(#g14)"/><rect x="378" y="30" width="262" height="3" fill="url(#g15)"/><rect x="378" y="32" width="262" height="3" fill="url(#g16)"/><rect x="378" y="34" width="262" height="3" fill="url(#g17)"/><rect x="378" y="36" width="262" height="3" fill="url(#g18)"/><rect x="378" y="38" width="262" height="3" fill="url(#g19)"/><rect x="378" y="40" width="262" height="3" fill="url(#g20)"/><rect x="378" y="42" width="262" height="3" fill="url(#g21)"/><rect x="378" y="44" width="262" height="3" fill="url(#g22)"/><rect x="378" y="46" width="262" height="3" fill="url(#g23)"/><rect x="378" y="48" width="262" height="3" fill="url(#g24)"/><rect x="378" y="50" width="262" height="3" fill="url(#g25)"/><rect x="378" y="52" width="262" height="3" fill="url(#g26)"/><rect x="378" y="54" width="262" height="3" fill="url(#g27)"/><rect x="378" y="56" width="262" height="3" fill="url(#g28)"/><rect x="378" y="58" width="262" height="3" fill="url(#g29)"/><rect x="378" y="60" width="262" height="3" fill="url(#g30)"/><rect x="378" y="62" width="262" height="3" fill="url(#g31)"/><rect x="378" y="64" width="262" height="3" fill="url(#g32)"/><rect x="378" y="66" width="262" height="3" fill="url(#g33)"/><rect x="378" y="68" width="262" height="3" fill="url(#g34)"/><rect x="378" y="70" width="262" height="3" fill="url(#g35)"/><rect x="378" y="72" width="262" height="3" fill="url(#g36)"/><rect x="378" y="74" width="262" height="3" fill="url(#g37)"/><rect x="378" y="76" width="262" height="3" fill="url(#g38)"/><rect x="378" y="78" width="262" height="3" fill="url(#g39)"/><rect x="378" y="80" width="262" height="3" fill="url(#g40)"/><rect x="378" y="82" width="262" height="3" fill="url(#g41)"/><rect x="378" y="84" width="262" height="3" fill="url(#g42)"/><rect x="378" y="86" width="262" height="3" fill="url(#g43)"/><rect x="378" y="88" width="262" height="3" fill="url(#g44)"/><rect x="378" y="90" width="262" height="3" fill="url(#g45)"/><rect x="378" y="92" width="262" height="3" fill="url(#g46)"/><rect x="378" y="94" width="262" height="3" fill="url(#g47)"/><rect x="378" y="96" width="262" height="3" fill="url(#g48)"/><rect x="378" y="98" width="262" height="3" fill="url(#g49)"/><rect x="378" y="100" width="262" height="3" fill="url(#g50)"/><rect x="378" y="102" width="262" height="3" fill="url(#g51)"/><rect x="378" y="104" width="262" height="3" fill="url(#g52)"/><rect x="378" y="106" width="262" height="3" fill="url(#g53)"/><rect x="378" y="108" width="262" height="3" fill="url(#g54)"/><rect x="378" y="110" width="262" height="3" fill="url(#g55)"/><rect x="378" y="112" width="262" height="3" fill="url(#g56)"/><rect x="378" y="114" width="262" height="3" fill="url(#g57)"/><rect x="378" y="116" width="262" height="3" fill="url(#g58)"/><rect x="378" y="118" width="262" height="3" fill="url(#g59)"/><rect x="378" y="120" width="262" height="3" fill="url(#g60)"/><rect x="378" y="122" width="262" height="3" fill="url(#g61)"/><rect x="378" y="124" width="262" height="3" fill="url(#g62)"/><rect x="378" y="126" width="262" height="3" fill="url(#g63)"/><rect x="378" y="128" width="262" height="3" fill="url(#g64)"/><rect x="378" y="130" width="262" height="3" fill="url(#g65)"/><rect x="378" y="132" width="262" height="3" fill="url(#g66)"/><rect x="378" y="134" width="262" height="3" fill="url(#g67)"/><rect x="378" y="136" width="262" height="3" fill="url(#g68)"/><rect x="378" y="138" width="262" height="3" fill="url(#g69)"/><rect x="378" y="140" width="262" height="3" fill="url(#g70)"/><rect x="378" y="142" width="262" height="3" fill="url(#g71)"/><rect x="378" y="144" width="262" height="3" fill="url(#g72)"/><rect x="378" y="146" width="262" height="3" fill="url(#g73)"/><rect x="378" y="148" width="262" height="3" fill="url(#g74)"/><rect x="378" y="150" width="262" height="3" fill="url(#g75)"/><rect x="378" y="152" width="262" height="3" fill="url(#g76)"/><rect x="378" y="154" width="262" height="3" fill="url(#g77)"/><rect x="378" y="156" width="262" height="3" fill="url(#g78)"/><rect x="378" y="158" width="262" height="3" fill="url(#g79)"/><rect x="378" y="160" width="262" height="3" fill="url(#g80)"/><rect x="378" y="162" width="262" height="3" fill="url(#g81)"/><rect x="378" y="164" width="262" height="3" fill="url(#g82)"/><rect x="378" y="166" width="262" height="3" fill="url(#g83)"/><rect x="378" y="168" width="262" height="3" fill="url(#g84)"/><rect x="378" y="170" width="262" height="3" fill="url(#g85)"/><rect x="378" y="172" width="262" height="3" fill="url(#g86)"/><rect x="378" y="174" width="262" height="3" fill="url(#g87)"/><rect x="378" y="176" width="262" height="3" fill="url(#g88)"/><rect x="378" y="178" width="262" height="3" fill="url(#g89)"/><rect x="378" y="180" width="262" height="3" fill="url(#g90)"/><rect x="378" y="182" width="262" height="3" fill="url(#g91)"/><rect x="378" y="184" width="262" height="3" fill="url(#g92)"/><rect x="378" y="186" width="262" height="3" fill="url(#g93)"/><rect x="378" y="188" width="262" height="3" fill="url(#g94)"/><rect x="378" y="190" width="262" height="3" fill="url(#g95)"/><rect x="378" y="192" width="262" height="3" fill="url(#g96)"/><rect x="378" y="194" width="262" height="3" fill="url(#g97)"/><rect x="378" y="196" width="262" height="3" fill="url(#g98)"/><rect x="378" y="198" width="262" height="3" fill="url(#g99)"/><rect x="378" y="200" width="262" height="3" fill="url(#g100)"/><rect x="378" y="202" width="262" height="3" fill="url(#g101)"/><rect x="378" y="204" width="262" height="3" fill="url(#g102)"/><rect x="378" y="206" width="262" height="3" fill="url(#g103)"/><rect x="378" y="208" width="262" height="3" fill="url(#g104)"/><rect x="378" y="210" width="262" height="3" fill="url(#g105)"/><rect x="378" y="212" width="262" height="3" fill="url(#g106)"/><rect x="378" y="214" width="262" height="3" fill="url(#g107)"/><rect x="378" y="216" width="262" height="3" fill="url(#g108)"/><rect x="378" y="218" width="262" height="3" fill="url(#g109)"/><rect x="378" y="220" width="262" height="3" fill="url(#g110)"/><rect x="378" y="222" width="262" height="3" fill="url(#g111)"/><rect x="378" y="224" width="262" height="3" fill="url(#g112)"/><rect x="378" y="226" width="262" height="3" fill="url(#g113)"/><rect x="378" y="228" width="262" height="3" fill="url(#g114)"/><rect x="378" y="230" width="262" height="3" fill="url(#g115)"/><rect x="378" y="232" width="262" height="3" fill="url(#g116)"/><rect x="378" y="234" width="262" height="3" fill="url(#g117)"/><rect x="378" y="236" width="262" height="3" fill="url(#g118)"/><rect x="378" y="238" width="262" height="3" fill="url(#g119)"/><rect x="378" y="240" width="262" height="3" fill="url(#g120)"/><rect x="378" y="242" width="262" height="3" fill="url(#g121)"/><rect x="378" y="244" width="262" height="3" fill="url(#g122)"/><rect x="378" y="246" width="262" height="3" fill="url(#g123)"/><rect x="378" y="248" width="262" height="3" fill="url(#g124)"/></g>
<line x1="384.68" y1="187.03" x2="491.99" y2="244.95" stroke="#111" stroke-width="0.9"/>
<line x1="491.99" y1="244.95" x2="627.97" y2="196.33" stroke="#111" stroke-width="0.9"/>
<line x1="627.97" y1="196.33" x2="635.81" y2="22.89" stroke="#111" stroke-width="0.9"/>
<line x1="384.68" y1="187.03" x2="384.68" y2="184.03" stroke="#111" stroke-width="0.9"/>
<line x1="392.96" y1="191.5" x2="392.96" y2="188.5" stroke="#111" stroke-width="0.9"/>
<line x1="401.5" y1="196.1" x2="401.5" y2="193.1" stroke="#111" stroke-width="0.9"/>
<line x1="410.3" y1="200.86" x2="410.3" y2="197.86" stroke="#111" stroke-width="0.9"/>
<line x1="419.38" y1="205.76" x2="419.38" y2="202.76" stroke="#111" stroke-width="0.9"/>
<line x1="428.76" y1="210.82" x2="428.76" y2="207.82" stroke="#111" stroke-width="0.9"/>
<line x1="438.43" y1="216.04" x2="438.43" y2="213.04" stroke="#111" stroke-width="0.9"/>
<line x1="448.43" y1="221.44" x2="448.43" y2="218.44" stroke="#111" stroke-width="0.9"/>
<line x1="458.77" y1="227.02" x2="458.77" y2="224.02" stroke="#111" stroke-width="0.9"/>
<line x1="469.46" y1="232.79" x2="469.46" y2="229.79" stroke="#111" stroke-width="0.9"/>
<line x1="480.53" y1="238.76" x2="480.53" y2="235.76" stroke="#111" stroke-width="0.9"/>
<line x1="491.99" y1="244.95" x2="491.99" y2="241.95" stroke="#111" stroke-width="0.9"/>
<line x1="507.54" y1="239.39" x2="507.54" y2="236.39" stroke="#111" stroke-width="0.9"/>
<line x1="522.59" y1="234.01" x2="522.59" y2="231.01" stroke="#111" stroke-width="0.9"/>
<line x1="537.19" y1="228.79" x2="537.19" y2="225.79" stroke="#111" stroke-width="0.9"/>
<line x1="551.34" y1="223.73" x2="551.34" y2="220.73" stroke="#111" stroke-width="0.9"/>
<line x1="565.06" y1="218.82" x2="565.06" y2="215.82" stroke="#111" stroke-width="0.9"/>
<line x1="578.39" y1="214.06" x2="578.39" y2="211.06" stroke="#111" stroke-width="0.9"/>
<line x1="591.32" y1="209.43" x2="591.32" y2="206.43" stroke="#111" stroke-width="0.9"/>
<line x1="603.89" y1="204.94" x2="603.89" y2="201.94" stroke="#111" stroke-width="0.9"/>
<line x1="616.1" y1="200.57" x2="616.1" y2="197.57" stroke="#111" stroke-width="0.9"/>
<line x1="627.97" y1="196.33" x2="627.97" y2="193.33" stroke="#111" stroke-width="0.9"/>
<line x1="624.97" y1="196.33" x2="627.97" y2="196.33" stroke="#111" stroke-width="0.9"/>
<line x1="626.22" y1="168.79" x2="629.22" y2="168.79" stroke="#111" stroke-width="0.9"/>
<line x1="627.49" y1="140.72" x2="630.49" y2="140.72" stroke="#111" stroke-width="0.9"/>
<line x1="628.78" y1="112.11" x2="631.78" y2="112.11" stroke="#111" stroke-width="0.9"/>
<line x1="630.1" y1="82.95" x2="633.1" y2="82.95" stroke="#111" stroke-width="0.9"/>
<line x1="631.44" y1="53.21" x2="634.44" y2="53.21" stroke="#111" stroke-width="0.9"/>
<line x1="632.81" y1="22.89" x2="635.81" y2="22.89" stroke="#111" stroke-width="0.9"/>
<text x="384.6" y="198.57" font-size="8.5" fill="#222" text-anchor="middle" >0</text>
<text x="401.6" y="207.17" font-size="8.5" fill="#222" text-anchor="middle" >2</text>
<text x="419.4" y="217.38" font-size="8.5" fill="#222" text-anchor="middle" >4</text>
<text x="438.2" y="227.88" font-size="8.5" fill="#222" text-anchor="middle" >6</text>
<text x="457.9" y="238.28" font-size="8.5" fill="#222" text-anchor="middle" >8</text>
<text x="479.6" y="250.57" font-size="8.5" fill="#222" text-anchor="middle" >10</text>
<text x="492.7" y="256.57" font-size="8.5" fill="#222" text-anchor="middle" >0</text>
<text x="522.3" y="246.17" font-size="8.5" fill="#222" text-anchor="middle" >2</text>
<text x="550.9" y="236.57" font-size="8.5" fill="#222" text-anchor="middle" >4</text>
<text x="578.2" y="225.67" font-size="8.5" fill="#222" text-anchor="middle" >6</text>
<text x="603.2" y="216.17" font-size="8.5" fill="#222" text-anchor="middle" >8</text>
<text x="626.8" y="207.47" font-size="8.5" fill="#222" text-anchor="middle" >10</text>
<text x="631.4" y="197.84" font-size="8.4" fill="#222" text-anchor="start" >0</text>
<text x="633.4" y="172.34" font-size="8.4" fill="#222" text-anchor="start" >200</text>
<text x="634.3" y="143.94" font-size="8.4" fill="#222" text-anchor="start" >400</text>
<text x="635.8" y="115.14" font-size="8.4" fill="#222" text-anchor="start" >600</text>
<text x="636.9" y="86.34" font-size="8.4" fill="#222" text-anchor="start" >800</text>
<text x="639" y="56.54" font-size="8.4" fill="#222" text-anchor="start" >1000</text>
<text x="640.7" y="25.94" font-size="8.4" fill="#222" text-anchor="start" >1200</text>
<text transform="translate(381.4 218.6) rotate(29.8)" font-size="12.5" fill="#1a1a1a">E/S ratio (<tspan font-style="italic">&#956;</tspan>L mg<tspan dy="-4.5" font-size="8.5">-1</tspan><tspan dy="4.5">)</tspan></text>
<text transform="translate(504.4 270.2) rotate(-17.7)" font-size="12.1" fill="#1a1a1a">Sulfur loading (mg cm<tspan dy="-4.5" font-size="8.5">-2</tspan><tspan dy="4.5">)</tspan></text>
<text transform="translate(665.8 176.7) rotate(-87.4)" font-size="12" fill="#1a1a1a">Energy density (Wh kg<tspan dy="-4.5" font-size="8.5">-1</tspan><tspan dy="4.5">)</tspan></text>
<text x="354.6" y="22.0" font-size="14.8" fill="#111" style="font-family:'Liberation Serif',serif">(b)</text>
</svg></body></html>
